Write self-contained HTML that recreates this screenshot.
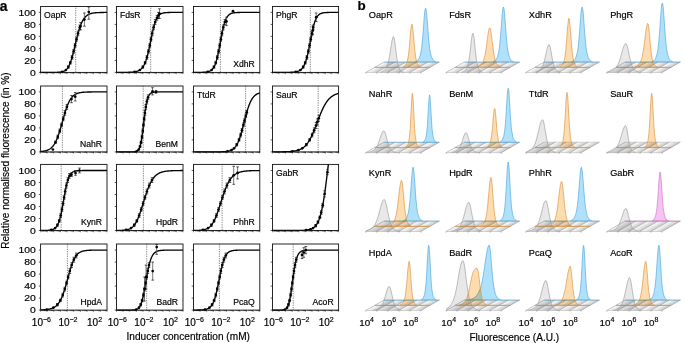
<!DOCTYPE html>
<html><head><meta charset="utf-8"><style>
html,body{margin:0;padding:0;background:#fff;}
body{width:685px;height:343px;overflow:hidden;}
svg{display:block;font-family:"Liberation Sans", sans-serif;will-change:transform;} text{stroke:#000;stroke-width:0.18px;}
</style></head><body>
<svg width="685" height="343" viewBox="0 0 685 343">
<defs><linearGradient id="tg" x1="0" y1="0" x2="1" y2="0"><stop offset="0" stop-color="#fcfcfc"/><stop offset="0.35" stop-color="#ededed"/><stop offset="1" stop-color="#c6c6c6"/></linearGradient></defs>
<rect width="685" height="343" fill="#fff"/>
<line x1="75.70" y1="6.50" x2="75.70" y2="72.40" stroke="#222" stroke-width="0.7" stroke-dasharray="0.75,1.0"/>
<path d="M40.60,72.40 L41.02,72.40 L41.43,72.40 L41.84,72.40 L42.26,72.40 L42.68,72.40 L43.09,72.40 L43.51,72.40 L43.92,72.40 L44.34,72.40 L44.75,72.40 L45.16,72.40 L45.58,72.40 L46.00,72.40 L46.41,72.40 L46.83,72.40 L47.24,72.40 L47.66,72.40 L48.07,72.40 L48.48,72.40 L48.90,72.40 L49.31,72.40 L49.73,72.40 L50.15,72.39 L50.56,72.39 L50.98,72.39 L51.39,72.39 L51.81,72.39 L52.22,72.39 L52.64,72.38 L53.05,72.38 L53.47,72.38 L53.88,72.38 L54.30,72.37 L54.71,72.37 L55.12,72.36 L55.54,72.35 L55.95,72.34 L56.37,72.33 L56.79,72.32 L57.20,72.31 L57.62,72.29 L58.03,72.27 L58.45,72.25 L58.86,72.22 L59.28,72.19 L59.69,72.16 L60.11,72.12 L60.52,72.07 L60.94,72.01 L61.35,71.94 L61.77,71.86 L62.18,71.77 L62.59,71.66 L63.01,71.54 L63.43,71.40 L63.84,71.23 L64.25,71.04 L64.67,70.82 L65.09,70.57 L65.50,70.29 L65.92,69.96 L66.33,69.58 L66.75,69.16 L67.16,68.68 L67.58,68.14 L67.99,67.53 L68.41,66.86 L68.82,66.10 L69.23,65.28 L69.65,64.36 L70.06,63.37 L70.48,62.28 L70.90,61.11 L71.31,59.85 L71.73,58.51 L72.14,57.09 L72.56,55.60 L72.97,54.03 L73.39,52.41 L73.80,50.74 L74.22,49.03 L74.63,47.29 L75.05,45.53 L75.46,43.77 L75.88,42.01 L76.29,40.28 L76.71,38.57 L77.12,36.90 L77.53,35.28 L77.95,33.71 L78.37,32.20 L78.78,30.75 L79.20,29.38 L79.61,28.07 L80.03,26.84 L80.44,25.68 L80.86,24.59 L81.27,23.58 L81.69,22.63 L82.10,21.76 L82.52,20.94 L82.93,20.19 L83.34,19.50 L83.76,18.86 L84.18,18.27 L84.59,17.74 L85.00,17.25 L85.42,16.80 L85.84,16.39 L86.25,16.01 L86.67,15.67 L87.08,15.36 L87.50,15.08 L87.91,14.83 L88.33,14.60 L88.74,14.38 L89.16,14.19 L89.57,14.02 L89.99,13.86 L90.40,13.72 L90.81,13.59 L91.23,13.48 L91.65,13.37 L92.06,13.28 L92.48,13.19 L92.89,13.12 L93.31,13.05 L93.72,12.98 L94.14,12.93 L94.55,12.87 L94.97,12.83 L95.38,12.79 L95.80,12.75 L96.21,12.71 L96.62,12.68 L97.04,12.66 L97.46,12.63 L97.87,12.61 L98.28,12.59 L98.70,12.57 L99.12,12.55 L99.53,12.54 L99.95,12.52 L100.36,12.51 L100.78,12.50 L101.19,12.49 L101.61,12.48 L102.02,12.47 L102.44,12.47 L102.85,12.46 L103.27,12.45 L103.68,12.45 L104.09,12.44 L104.51,12.44 L104.93,12.44 L105.34,12.43 L105.75,12.43 L106.17,12.43 L106.59,12.42 L107.00,12.42" fill="none" stroke="#000" stroke-width="1.35" stroke-linejoin="round"/>
<path d="M68.32,65.80V68.20M70.29,61.60V64.00M72.05,55.60V59.20M73.64,49.60V53.20M75.08,43.60V47.20M76.50,37.60V41.20M78.03,31.00V35.80M79.83,25.00V29.80M80.50,22.60V29.80M84.40,13.00V26.20M88.80,7.00V19.18" stroke="#555" stroke-width="0.8" fill="none"/>
<path d="M67.02,65.80h2.6M67.02,68.20h2.6M68.99,61.60h2.6M68.99,64.00h2.6M70.75,55.60h2.6M70.75,59.20h2.6M72.34,49.60h2.6M72.34,53.20h2.6M73.78,43.60h2.6M73.78,47.20h2.6M75.20,37.60h2.6M75.20,41.20h2.6M76.73,31.00h2.6M76.73,35.80h2.6M78.53,25.00h2.6M78.53,29.80h2.6M79.20,22.60h2.6M79.20,29.80h2.6M83.10,13.00h2.6M83.10,26.20h2.6M87.50,7.00h2.6M87.50,19.18h2.6" stroke="#111" stroke-width="0.7" fill="none"/>
<g fill="#000"><circle cx="62.05" cy="71.80" r="1.35"/><circle cx="65.86" cy="70.00" r="1.35"/><circle cx="68.32" cy="67.00" r="1.35"/><circle cx="70.29" cy="62.80" r="1.35"/><circle cx="72.05" cy="57.40" r="1.35"/><circle cx="73.64" cy="51.40" r="1.35"/><circle cx="75.08" cy="45.40" r="1.35"/><circle cx="76.50" cy="39.40" r="1.35"/><circle cx="78.03" cy="33.40" r="1.35"/><circle cx="79.83" cy="27.40" r="1.35"/><circle cx="80.50" cy="26.20" r="1.35"/><circle cx="84.40" cy="19.60" r="1.35"/><circle cx="88.80" cy="11.98" r="1.35"/></g>
<rect x="40.60" y="6.50" width="66.40" height="65.90" fill="none" stroke="#111" stroke-width="0.9"/>
<path d="M38.80,72.40H40.60M38.80,60.40H40.60M38.80,48.40H40.60M38.80,36.40H40.60M38.80,24.40H40.60M38.80,12.40H40.60" stroke="#111" stroke-width="0.7"/>
<path d="M40.60,72.40v1.8M42.60,72.40v1.0M43.77,72.40v1.0M44.60,72.40v1.0M45.24,72.40v1.0M45.77,72.40v1.0M46.21,72.40v1.0M46.60,72.40v1.0M46.94,72.40v1.0M47.24,72.40v1.8M49.24,72.40v1.0M50.41,72.40v1.0M51.24,72.40v1.0M51.88,72.40v1.0M52.41,72.40v1.0M52.85,72.40v1.0M53.24,72.40v1.0M53.58,72.40v1.0M53.88,72.40v1.8M55.88,72.40v1.0M57.05,72.40v1.0M57.88,72.40v1.0M58.52,72.40v1.0M59.05,72.40v1.0M59.49,72.40v1.0M59.88,72.40v1.0M60.22,72.40v1.0M60.52,72.40v1.8M62.52,72.40v1.0M63.69,72.40v1.0M64.52,72.40v1.0M65.16,72.40v1.0M65.69,72.40v1.0M66.13,72.40v1.0M66.52,72.40v1.0M66.86,72.40v1.0M67.16,72.40v1.8M69.16,72.40v1.0M70.33,72.40v1.0M71.16,72.40v1.0M71.80,72.40v1.0M72.33,72.40v1.0M72.77,72.40v1.0M73.16,72.40v1.0M73.50,72.40v1.0M73.80,72.40v1.8M75.80,72.40v1.0M76.97,72.40v1.0M77.80,72.40v1.0M78.44,72.40v1.0M78.97,72.40v1.0M79.41,72.40v1.0M79.80,72.40v1.0M80.14,72.40v1.0M80.44,72.40v1.8M82.44,72.40v1.0M83.61,72.40v1.0M84.44,72.40v1.0M85.08,72.40v1.0M85.61,72.40v1.0M86.05,72.40v1.0M86.44,72.40v1.0M86.78,72.40v1.0M87.08,72.40v1.8M89.08,72.40v1.0M90.25,72.40v1.0M91.08,72.40v1.0M91.72,72.40v1.0M92.25,72.40v1.0M92.69,72.40v1.0M93.08,72.40v1.0M93.42,72.40v1.0M93.72,72.40v1.8M95.72,72.40v1.0M96.89,72.40v1.0M97.72,72.40v1.0M98.36,72.40v1.0M98.89,72.40v1.0M99.33,72.40v1.0M99.72,72.40v1.0M100.06,72.40v1.0M100.36,72.40v1.8M102.36,72.40v1.0M103.53,72.40v1.0M104.36,72.40v1.0M105.00,72.40v1.0M105.53,72.40v1.0M105.97,72.40v1.0M106.36,72.40v1.0M106.70,72.40v1.0M107.00,72.40v1.8" stroke="#111" stroke-width="0.45"/>
<text x="44.10" y="18.30" font-size="8.6" fill="#000">OapR</text>
<text transform="translate(35.80,75.70) scale(1.04,0.88)" font-size="10" fill="#000" text-anchor="end">0</text>
<text transform="translate(35.80,63.70) scale(1.04,0.88)" font-size="10" fill="#000" text-anchor="end">20</text>
<text transform="translate(35.80,51.70) scale(1.04,0.88)" font-size="10" fill="#000" text-anchor="end">40</text>
<text transform="translate(35.80,39.70) scale(1.04,0.88)" font-size="10" fill="#000" text-anchor="end">60</text>
<text transform="translate(35.80,27.70) scale(1.04,0.88)" font-size="10" fill="#000" text-anchor="end">80</text>
<text transform="translate(35.80,15.70) scale(1.04,0.88)" font-size="10" fill="#000" text-anchor="end">100</text>
<line x1="150.70" y1="6.50" x2="150.70" y2="72.40" stroke="#222" stroke-width="0.7" stroke-dasharray="0.75,1.0"/>
<path d="M116.50,72.40 L116.92,72.40 L117.33,72.39 L117.75,72.39 L118.16,72.39 L118.58,72.39 L118.99,72.39 L119.41,72.39 L119.83,72.39 L120.24,72.39 L120.66,72.39 L121.07,72.39 L121.49,72.38 L121.90,72.38 L122.32,72.38 L122.73,72.38 L123.15,72.38 L123.57,72.37 L123.98,72.37 L124.40,72.36 L124.81,72.36 L125.23,72.36 L125.64,72.35 L126.06,72.34 L126.47,72.34 L126.89,72.33 L127.31,72.32 L127.72,72.31 L128.14,72.30 L128.55,72.29 L128.97,72.28 L129.38,72.26 L129.80,72.25 L130.22,72.23 L130.63,72.21 L131.05,72.18 L131.46,72.16 L131.88,72.13 L132.29,72.09 L132.71,72.06 L133.12,72.01 L133.54,71.97 L133.96,71.92 L134.37,71.86 L134.79,71.79 L135.20,71.72 L135.62,71.64 L136.03,71.55 L136.45,71.44 L136.87,71.33 L137.28,71.20 L137.70,71.06 L138.11,70.90 L138.53,70.71 L138.94,70.51 L139.36,70.29 L139.78,70.04 L140.19,69.76 L140.61,69.44 L141.02,69.09 L141.44,68.70 L141.85,68.27 L142.27,67.79 L142.68,67.25 L143.10,66.65 L143.52,66.00 L143.93,65.27 L144.35,64.46 L144.76,63.58 L145.18,62.61 L145.59,61.54 L146.01,60.38 L146.43,59.12 L146.84,57.76 L147.26,56.29 L147.67,54.73 L148.09,53.06 L148.50,51.29 L148.92,49.44 L149.33,47.52 L149.75,45.53 L150.17,43.50 L150.58,41.44 L151.00,39.37 L151.41,37.31 L151.83,35.29 L152.24,33.32 L152.66,31.41 L153.07,29.60 L153.49,27.88 L153.91,26.27 L154.32,24.77 L154.74,23.39 L155.15,22.13 L155.57,20.98 L155.98,19.95 L156.40,19.02 L156.82,18.19 L157.23,17.45 L157.65,16.80 L158.06,16.23 L158.48,15.72 L158.89,15.28 L159.31,14.89 L159.72,14.56 L160.14,14.26 L160.56,14.01 L160.97,13.79 L161.39,13.60 L161.80,13.43 L162.22,13.29 L162.63,13.17 L163.05,13.06 L163.47,12.97 L163.88,12.89 L164.30,12.82 L164.71,12.76 L165.13,12.71 L165.54,12.67 L165.96,12.63 L166.38,12.60 L166.79,12.57 L167.21,12.55 L167.62,12.53 L168.04,12.51 L168.45,12.49 L168.87,12.48 L169.28,12.47 L169.70,12.46 L170.12,12.45 L170.53,12.44 L170.95,12.44 L171.36,12.43 L171.78,12.43 L172.19,12.42 L172.61,12.42 L173.03,12.42 L173.44,12.41 L173.86,12.41 L174.27,12.41 L174.69,12.41 L175.10,12.41 L175.52,12.41 L175.93,12.41 L176.35,12.41 L176.77,12.40 L177.18,12.40 L177.60,12.40 L178.01,12.40 L178.43,12.40 L178.84,12.40 L179.26,12.40 L179.68,12.40 L180.09,12.40 L180.51,12.40 L180.92,12.40 L181.34,12.40 L181.75,12.40 L182.17,12.40 L182.58,12.40 L183.00,12.40" fill="none" stroke="#000" stroke-width="1.35" stroke-linejoin="round"/>
<path d="M142.86,65.80V68.20M145.10,61.60V64.00M146.95,55.60V59.20M148.48,49.60V53.20M149.78,43.60V47.20M150.99,37.60V41.20M152.23,31.00V35.80M153.61,25.00V29.80M155.20,19.60V24.40M157.03,15.40V20.20M158.50,12.40V18.40M159.50,8.80V18.40" stroke="#555" stroke-width="0.8" fill="none"/>
<path d="M141.56,65.80h2.6M141.56,68.20h2.6M143.80,61.60h2.6M143.80,64.00h2.6M145.65,55.60h2.6M145.65,59.20h2.6M147.18,49.60h2.6M147.18,53.20h2.6M148.48,43.60h2.6M148.48,47.20h2.6M149.69,37.60h2.6M149.69,41.20h2.6M150.93,31.00h2.6M150.93,35.80h2.6M152.31,25.00h2.6M152.31,29.80h2.6M153.90,19.60h2.6M153.90,24.40h2.6M155.73,15.40h2.6M155.73,20.20h2.6M157.20,12.40h2.6M157.20,18.40h2.6M158.20,8.80h2.6M158.20,18.40h2.6" stroke="#111" stroke-width="0.7" fill="none"/>
<g fill="#000"><circle cx="134.75" cy="71.80" r="1.35"/><circle cx="139.83" cy="70.00" r="1.35"/><circle cx="142.86" cy="67.00" r="1.35"/><circle cx="145.10" cy="62.80" r="1.35"/><circle cx="146.95" cy="57.40" r="1.35"/><circle cx="148.48" cy="51.40" r="1.35"/><circle cx="149.78" cy="45.40" r="1.35"/><circle cx="150.99" cy="39.40" r="1.35"/><circle cx="152.23" cy="33.40" r="1.35"/><circle cx="153.61" cy="27.40" r="1.35"/><circle cx="155.20" cy="22.00" r="1.35"/><circle cx="157.03" cy="17.80" r="1.35"/><circle cx="158.50" cy="15.40" r="1.35"/><circle cx="159.50" cy="13.60" r="1.35"/></g>
<rect x="116.50" y="6.50" width="66.50" height="65.90" fill="none" stroke="#111" stroke-width="0.9"/>
<path d="M114.70,72.40H116.50M114.70,60.40H116.50M114.70,48.40H116.50M114.70,36.40H116.50M114.70,24.40H116.50M114.70,12.40H116.50" stroke="#111" stroke-width="0.7"/>
<path d="M116.50,72.40v1.8M118.50,72.40v1.0M119.67,72.40v1.0M120.50,72.40v1.0M121.15,72.40v1.0M121.67,72.40v1.0M122.12,72.40v1.0M122.51,72.40v1.0M122.85,72.40v1.0M123.15,72.40v1.8M125.15,72.40v1.0M126.32,72.40v1.0M127.15,72.40v1.0M127.80,72.40v1.0M128.32,72.40v1.0M128.77,72.40v1.0M129.16,72.40v1.0M129.50,72.40v1.0M129.80,72.40v1.8M131.80,72.40v1.0M132.97,72.40v1.0M133.80,72.40v1.0M134.45,72.40v1.0M134.97,72.40v1.0M135.42,72.40v1.0M135.81,72.40v1.0M136.15,72.40v1.0M136.45,72.40v1.8M138.45,72.40v1.0M139.62,72.40v1.0M140.45,72.40v1.0M141.10,72.40v1.0M141.62,72.40v1.0M142.07,72.40v1.0M142.46,72.40v1.0M142.80,72.40v1.0M143.10,72.40v1.8M145.10,72.40v1.0M146.27,72.40v1.0M147.10,72.40v1.0M147.75,72.40v1.0M148.27,72.40v1.0M148.72,72.40v1.0M149.11,72.40v1.0M149.45,72.40v1.0M149.75,72.40v1.8M151.75,72.40v1.0M152.92,72.40v1.0M153.75,72.40v1.0M154.40,72.40v1.0M154.92,72.40v1.0M155.37,72.40v1.0M155.76,72.40v1.0M156.10,72.40v1.0M156.40,72.40v1.8M158.40,72.40v1.0M159.57,72.40v1.0M160.40,72.40v1.0M161.05,72.40v1.0M161.57,72.40v1.0M162.02,72.40v1.0M162.41,72.40v1.0M162.75,72.40v1.0M163.05,72.40v1.8M165.05,72.40v1.0M166.22,72.40v1.0M167.05,72.40v1.0M167.70,72.40v1.0M168.22,72.40v1.0M168.67,72.40v1.0M169.06,72.40v1.0M169.40,72.40v1.0M169.70,72.40v1.8M171.70,72.40v1.0M172.87,72.40v1.0M173.70,72.40v1.0M174.35,72.40v1.0M174.87,72.40v1.0M175.32,72.40v1.0M175.71,72.40v1.0M176.05,72.40v1.0M176.35,72.40v1.8M178.35,72.40v1.0M179.52,72.40v1.0M180.35,72.40v1.0M181.00,72.40v1.0M181.52,72.40v1.0M181.97,72.40v1.0M182.36,72.40v1.0M182.70,72.40v1.0M183.00,72.40v1.8" stroke="#111" stroke-width="0.45"/>
<text x="120.00" y="18.30" font-size="8.6" fill="#000">FdsR</text>
<line x1="220.40" y1="6.50" x2="220.40" y2="72.40" stroke="#222" stroke-width="0.7" stroke-dasharray="0.75,1.0"/>
<path d="M193.50,72.40 L193.91,72.40 L194.33,72.40 L194.74,72.39 L195.16,72.39 L195.57,72.39 L195.99,72.39 L196.40,72.39 L196.81,72.39 L197.23,72.39 L197.64,72.38 L198.06,72.38 L198.47,72.38 L198.89,72.38 L199.30,72.37 L199.72,72.37 L200.13,72.36 L200.54,72.36 L200.96,72.35 L201.37,72.34 L201.79,72.33 L202.20,72.32 L202.62,72.31 L203.03,72.29 L203.44,72.27 L203.86,72.25 L204.27,72.23 L204.69,72.20 L205.10,72.17 L205.52,72.13 L205.93,72.09 L206.35,72.04 L206.76,71.98 L207.17,71.91 L207.59,71.83 L208.00,71.74 L208.42,71.63 L208.83,71.51 L209.25,71.36 L209.66,71.20 L210.07,71.00 L210.49,70.78 L210.90,70.52 L211.32,70.23 L211.73,69.89 L212.15,69.50 L212.56,69.05 L212.98,68.53 L213.39,67.95 L213.80,67.28 L214.22,66.52 L214.63,65.67 L215.05,64.70 L215.46,63.63 L215.88,62.43 L216.29,61.11 L216.70,59.65 L217.12,58.06 L217.53,56.34 L217.95,54.50 L218.36,52.54 L218.78,50.48 L219.19,48.33 L219.61,46.12 L220.02,43.86 L220.43,41.59 L220.85,39.33 L221.26,37.11 L221.68,34.94 L222.09,32.85 L222.51,30.86 L222.92,28.99 L223.34,27.23 L223.75,25.61 L224.16,24.12 L224.58,22.76 L224.99,21.52 L225.41,20.41 L225.82,19.42 L226.24,18.53 L226.65,17.75 L227.06,17.06 L227.48,16.45 L227.89,15.91 L228.31,15.44 L228.72,15.04 L229.14,14.68 L229.55,14.37 L229.97,14.10 L230.38,13.87 L230.79,13.67 L231.21,13.49 L231.62,13.34 L232.04,13.21 L232.45,13.10 L232.87,13.00 L233.28,12.92 L233.69,12.85 L234.11,12.78 L234.52,12.73 L234.94,12.68 L235.35,12.64 L235.77,12.61 L236.18,12.58 L236.59,12.56 L237.01,12.53 L237.42,12.51 L237.84,12.50 L238.25,12.48 L238.67,12.47 L239.08,12.46 L239.50,12.45 L239.91,12.45 L240.32,12.44 L240.74,12.43 L241.15,12.43 L241.57,12.43 L241.98,12.42 L242.40,12.42 L242.81,12.42 L243.22,12.41 L243.64,12.41 L244.05,12.41 L244.47,12.41 L244.88,12.41 L245.30,12.41 L245.71,12.41 L246.13,12.40 L246.54,12.40 L246.95,12.40 L247.37,12.40 L247.78,12.40 L248.20,12.40 L248.61,12.40 L249.03,12.40 L249.44,12.40 L249.85,12.40 L250.27,12.40 L250.68,12.40 L251.10,12.40 L251.51,12.40 L251.93,12.40 L252.34,12.40 L252.76,12.40 L253.17,12.40 L253.58,12.40 L254.00,12.40 L254.41,12.40 L254.83,12.40 L255.24,12.40 L255.66,12.40 L256.07,12.40 L256.49,12.40 L256.90,12.40 L257.31,12.40 L257.73,12.40 L258.14,12.40 L258.56,12.40 L258.97,12.40 L259.39,12.40 L259.80,12.40" fill="none" stroke="#000" stroke-width="1.35" stroke-linejoin="round"/>
<path d="M213.96,65.80V68.20M215.75,61.60V64.00M217.28,55.60V59.20M218.59,49.60V53.20M219.74,43.60V47.20M220.84,37.60V41.20M221.98,31.00V35.80M223.29,25.00V29.80M224.83,19.60V24.40M226.50,17.20V25.60" stroke="#555" stroke-width="0.8" fill="none"/>
<path d="M212.66,65.80h2.6M212.66,68.20h2.6M214.45,61.60h2.6M214.45,64.00h2.6M215.98,55.60h2.6M215.98,59.20h2.6M217.29,49.60h2.6M217.29,53.20h2.6M218.44,43.60h2.6M218.44,47.20h2.6M219.54,37.60h2.6M219.54,41.20h2.6M220.68,31.00h2.6M220.68,35.80h2.6M221.99,25.00h2.6M221.99,29.80h2.6M223.53,19.60h2.6M223.53,24.40h2.6M225.20,17.20h2.6M225.20,25.60h2.6" stroke="#111" stroke-width="0.7" fill="none"/>
<g fill="#000"><circle cx="207.73" cy="71.80" r="1.35"/><circle cx="211.60" cy="70.00" r="1.35"/><circle cx="213.96" cy="67.00" r="1.35"/><circle cx="215.75" cy="62.80" r="1.35"/><circle cx="217.28" cy="57.40" r="1.35"/><circle cx="218.59" cy="51.40" r="1.35"/><circle cx="219.74" cy="45.40" r="1.35"/><circle cx="220.84" cy="39.40" r="1.35"/><circle cx="221.98" cy="33.40" r="1.35"/><circle cx="223.29" cy="27.40" r="1.35"/><circle cx="224.83" cy="22.00" r="1.35"/><circle cx="226.50" cy="21.40" r="1.35"/><circle cx="233.00" cy="11.20" r="1.35"/></g>
<rect x="193.50" y="6.50" width="66.30" height="65.90" fill="none" stroke="#111" stroke-width="0.9"/>
<path d="M191.70,72.40H193.50M191.70,60.40H193.50M191.70,48.40H193.50M191.70,36.40H193.50M191.70,24.40H193.50M191.70,12.40H193.50" stroke="#111" stroke-width="0.7"/>
<path d="M193.50,72.40v1.8M195.50,72.40v1.0M196.66,72.40v1.0M197.49,72.40v1.0M198.13,72.40v1.0M198.66,72.40v1.0M199.10,72.40v1.0M199.49,72.40v1.0M199.83,72.40v1.0M200.13,72.40v1.8M202.13,72.40v1.0M203.29,72.40v1.0M204.12,72.40v1.0M204.76,72.40v1.0M205.29,72.40v1.0M205.73,72.40v1.0M206.12,72.40v1.0M206.46,72.40v1.0M206.76,72.40v1.8M208.76,72.40v1.0M209.92,72.40v1.0M210.75,72.40v1.0M211.39,72.40v1.0M211.92,72.40v1.0M212.36,72.40v1.0M212.75,72.40v1.0M213.09,72.40v1.0M213.39,72.40v1.8M215.39,72.40v1.0M216.55,72.40v1.0M217.38,72.40v1.0M218.02,72.40v1.0M218.55,72.40v1.0M218.99,72.40v1.0M219.38,72.40v1.0M219.72,72.40v1.0M220.02,72.40v1.8M222.02,72.40v1.0M223.18,72.40v1.0M224.01,72.40v1.0M224.65,72.40v1.0M225.18,72.40v1.0M225.62,72.40v1.0M226.01,72.40v1.0M226.35,72.40v1.0M226.65,72.40v1.8M228.65,72.40v1.0M229.81,72.40v1.0M230.64,72.40v1.0M231.28,72.40v1.0M231.81,72.40v1.0M232.25,72.40v1.0M232.64,72.40v1.0M232.98,72.40v1.0M233.28,72.40v1.8M235.28,72.40v1.0M236.44,72.40v1.0M237.27,72.40v1.0M237.91,72.40v1.0M238.44,72.40v1.0M238.88,72.40v1.0M239.27,72.40v1.0M239.61,72.40v1.0M239.91,72.40v1.8M241.91,72.40v1.0M243.07,72.40v1.0M243.90,72.40v1.0M244.54,72.40v1.0M245.07,72.40v1.0M245.51,72.40v1.0M245.90,72.40v1.0M246.24,72.40v1.0M246.54,72.40v1.8M248.54,72.40v1.0M249.70,72.40v1.0M250.53,72.40v1.0M251.17,72.40v1.0M251.70,72.40v1.0M252.14,72.40v1.0M252.53,72.40v1.0M252.87,72.40v1.0M253.17,72.40v1.8M255.17,72.40v1.0M256.33,72.40v1.0M257.16,72.40v1.0M257.80,72.40v1.0M258.33,72.40v1.0M258.77,72.40v1.0M259.16,72.40v1.0M259.50,72.40v1.0M259.80,72.40v1.8" stroke="#111" stroke-width="0.45"/>
<text x="254.80" y="67.10" font-size="8.6" fill="#000" text-anchor="end">XdhR</text>
<line x1="310.30" y1="6.50" x2="310.30" y2="72.40" stroke="#222" stroke-width="0.7" stroke-dasharray="0.75,1.0"/>
<path d="M272.50,72.40 L272.91,72.40 L273.33,72.40 L273.74,72.40 L274.15,72.40 L274.57,72.40 L274.98,72.40 L275.39,72.40 L275.81,72.40 L276.22,72.40 L276.63,72.40 L277.04,72.40 L277.46,72.40 L277.87,72.40 L278.28,72.40 L278.70,72.40 L279.11,72.40 L279.52,72.40 L279.94,72.40 L280.35,72.39 L280.76,72.39 L281.18,72.39 L281.59,72.39 L282.00,72.39 L282.42,72.39 L282.83,72.39 L283.24,72.39 L283.65,72.38 L284.07,72.38 L284.48,72.38 L284.89,72.38 L285.31,72.37 L285.72,72.37 L286.13,72.37 L286.55,72.36 L286.96,72.36 L287.37,72.35 L287.79,72.35 L288.20,72.34 L288.61,72.33 L289.02,72.32 L289.44,72.31 L289.85,72.30 L290.26,72.29 L290.68,72.27 L291.09,72.26 L291.50,72.24 L291.92,72.21 L292.33,72.19 L292.74,72.16 L293.16,72.13 L293.57,72.09 L293.98,72.05 L294.40,72.01 L294.81,71.95 L295.22,71.89 L295.63,71.83 L296.05,71.75 L296.46,71.66 L296.87,71.57 L297.29,71.46 L297.70,71.33 L298.11,71.19 L298.53,71.03 L298.94,70.85 L299.35,70.65 L299.77,70.41 L300.18,70.15 L300.59,69.86 L301.01,69.53 L301.42,69.16 L301.83,68.74 L302.25,68.27 L302.66,67.74 L303.07,67.14 L303.48,66.48 L303.90,65.74 L304.31,64.92 L304.72,64.01 L305.14,62.99 L305.55,61.88 L305.96,60.66 L306.38,59.32 L306.79,57.87 L307.20,56.31 L307.62,54.62 L308.03,52.83 L308.44,50.94 L308.86,48.95 L309.27,46.89 L309.68,44.77 L310.09,42.61 L310.51,40.43 L310.92,38.26 L311.33,36.12 L311.75,34.03 L312.16,32.01 L312.57,30.09 L312.99,28.27 L313.40,26.57 L313.81,25.00 L314.23,23.55 L314.64,22.23 L315.05,21.03 L315.46,19.96 L315.88,19.00 L316.29,18.15 L316.70,17.39 L317.12,16.73 L317.53,16.15 L317.94,15.64 L318.36,15.19 L318.77,14.81 L319.18,14.47 L319.60,14.18 L320.01,13.93 L320.42,13.72 L320.84,13.53 L321.25,13.37 L321.66,13.23 L322.07,13.11 L322.49,13.01 L322.90,12.92 L323.31,12.85 L323.73,12.78 L324.14,12.73 L324.55,12.68 L324.97,12.64 L325.38,12.61 L325.79,12.58 L326.21,12.55 L326.62,12.53 L327.03,12.51 L327.45,12.49 L327.86,12.48 L328.27,12.47 L328.69,12.46 L329.10,12.45 L329.51,12.44 L329.92,12.44 L330.34,12.43 L330.75,12.43 L331.16,12.42 L331.58,12.42 L331.99,12.42 L332.40,12.41 L332.82,12.41 L333.23,12.41 L333.64,12.41 L334.06,12.41 L334.47,12.41 L334.88,12.41 L335.30,12.40 L335.71,12.40 L336.12,12.40 L336.53,12.40 L336.95,12.40 L337.36,12.40 L337.77,12.40 L338.19,12.40 L338.60,12.40" fill="none" stroke="#000" stroke-width="1.35" stroke-linejoin="round"/>
<path d="M303.16,65.80V68.20M305.21,61.60V64.00M306.92,55.60V59.20M308.34,49.60V53.20M309.56,43.60V47.20M310.70,37.60V41.20M311.87,31.00V35.80M313.19,25.00V29.80M312.80,26.20V34.60M316.20,13.00V21.40" stroke="#555" stroke-width="0.8" fill="none"/>
<path d="M301.86,65.80h2.6M301.86,68.20h2.6M303.91,61.60h2.6M303.91,64.00h2.6M305.62,55.60h2.6M305.62,59.20h2.6M307.04,49.60h2.6M307.04,53.20h2.6M308.26,43.60h2.6M308.26,47.20h2.6M309.40,37.60h2.6M309.40,41.20h2.6M310.57,31.00h2.6M310.57,35.80h2.6M311.89,25.00h2.6M311.89,29.80h2.6M311.50,26.20h2.6M311.50,34.60h2.6M314.90,13.00h2.6M314.90,21.40h2.6" stroke="#111" stroke-width="0.7" fill="none"/>
<g fill="#000"><circle cx="295.79" cy="71.80" r="1.35"/><circle cx="300.40" cy="70.00" r="1.35"/><circle cx="303.16" cy="67.00" r="1.35"/><circle cx="305.21" cy="62.80" r="1.35"/><circle cx="306.92" cy="57.40" r="1.35"/><circle cx="308.34" cy="51.40" r="1.35"/><circle cx="309.56" cy="45.40" r="1.35"/><circle cx="310.70" cy="39.40" r="1.35"/><circle cx="311.87" cy="33.40" r="1.35"/><circle cx="313.19" cy="27.40" r="1.35"/><circle cx="312.80" cy="30.40" r="1.35"/><circle cx="316.20" cy="17.20" r="1.35"/></g>
<rect x="272.50" y="6.50" width="66.10" height="65.90" fill="none" stroke="#111" stroke-width="0.9"/>
<path d="M270.70,72.40H272.50M270.70,60.40H272.50M270.70,48.40H272.50M270.70,36.40H272.50M270.70,24.40H272.50M270.70,12.40H272.50" stroke="#111" stroke-width="0.7"/>
<path d="M272.50,72.40v1.8M274.49,72.40v1.0M275.65,72.40v1.0M276.48,72.40v1.0M277.12,72.40v1.0M277.64,72.40v1.0M278.09,72.40v1.0M278.47,72.40v1.0M278.81,72.40v1.0M279.11,72.40v1.8M281.10,72.40v1.0M282.26,72.40v1.0M283.09,72.40v1.0M283.73,72.40v1.0M284.25,72.40v1.0M284.70,72.40v1.0M285.08,72.40v1.0M285.42,72.40v1.0M285.72,72.40v1.8M287.71,72.40v1.0M288.87,72.40v1.0M289.70,72.40v1.0M290.34,72.40v1.0M290.86,72.40v1.0M291.31,72.40v1.0M291.69,72.40v1.0M292.03,72.40v1.0M292.33,72.40v1.8M294.32,72.40v1.0M295.48,72.40v1.0M296.31,72.40v1.0M296.95,72.40v1.0M297.47,72.40v1.0M297.92,72.40v1.0M298.30,72.40v1.0M298.64,72.40v1.0M298.94,72.40v1.8M300.93,72.40v1.0M302.09,72.40v1.0M302.92,72.40v1.0M303.56,72.40v1.0M304.08,72.40v1.0M304.53,72.40v1.0M304.91,72.40v1.0M305.25,72.40v1.0M305.55,72.40v1.8M307.54,72.40v1.0M308.70,72.40v1.0M309.53,72.40v1.0M310.17,72.40v1.0M310.69,72.40v1.0M311.14,72.40v1.0M311.52,72.40v1.0M311.86,72.40v1.0M312.16,72.40v1.8M314.15,72.40v1.0M315.31,72.40v1.0M316.14,72.40v1.0M316.78,72.40v1.0M317.30,72.40v1.0M317.75,72.40v1.0M318.13,72.40v1.0M318.47,72.40v1.0M318.77,72.40v1.8M320.76,72.40v1.0M321.92,72.40v1.0M322.75,72.40v1.0M323.39,72.40v1.0M323.91,72.40v1.0M324.36,72.40v1.0M324.74,72.40v1.0M325.08,72.40v1.0M325.38,72.40v1.8M327.37,72.40v1.0M328.53,72.40v1.0M329.36,72.40v1.0M330.00,72.40v1.0M330.52,72.40v1.0M330.97,72.40v1.0M331.35,72.40v1.0M331.69,72.40v1.0M331.99,72.40v1.8M333.98,72.40v1.0M335.14,72.40v1.0M335.97,72.40v1.0M336.61,72.40v1.0M337.13,72.40v1.0M337.58,72.40v1.0M337.96,72.40v1.0M338.30,72.40v1.0M338.60,72.40v1.8" stroke="#111" stroke-width="0.45"/>
<text x="276.00" y="18.30" font-size="8.6" fill="#000">PhgR</text>
<line x1="62.40" y1="86.00" x2="62.40" y2="151.90" stroke="#222" stroke-width="0.7" stroke-dasharray="0.75,1.0"/>
<path d="M40.60,151.54 L41.02,151.50 L41.43,151.46 L41.84,151.42 L42.26,151.37 L42.68,151.32 L43.09,151.26 L43.51,151.20 L43.92,151.13 L44.34,151.05 L44.75,150.96 L45.16,150.87 L45.58,150.77 L46.00,150.66 L46.41,150.53 L46.83,150.40 L47.24,150.25 L47.66,150.09 L48.07,149.91 L48.48,149.72 L48.90,149.51 L49.31,149.27 L49.73,149.02 L50.15,148.74 L50.56,148.44 L50.98,148.11 L51.39,147.75 L51.81,147.36 L52.22,146.94 L52.64,146.47 L53.05,145.98 L53.47,145.43 L53.88,144.85 L54.30,144.22 L54.71,143.54 L55.12,142.81 L55.54,142.03 L55.95,141.20 L56.37,140.31 L56.79,139.36 L57.20,138.36 L57.62,137.30 L58.03,136.19 L58.45,135.02 L58.86,133.79 L59.28,132.52 L59.69,131.20 L60.11,129.83 L60.52,128.43 L60.94,127.00 L61.35,125.53 L61.77,124.05 L62.18,122.56 L62.59,121.06 L63.01,119.57 L63.43,118.08 L63.84,116.61 L64.25,115.17 L64.67,113.76 L65.09,112.38 L65.50,111.04 L65.92,109.76 L66.33,108.52 L66.75,107.33 L67.16,106.21 L67.58,105.14 L67.99,104.12 L68.41,103.17 L68.82,102.27 L69.23,101.43 L69.65,100.65 L70.06,99.92 L70.48,99.24 L70.90,98.61 L71.31,98.03 L71.73,97.49 L72.14,97.00 L72.56,96.55 L72.97,96.13 L73.39,95.75 L73.80,95.40 L74.22,95.08 L74.63,94.78 L75.05,94.52 L75.46,94.28 L75.88,94.05 L76.29,93.85 L76.71,93.67 L77.12,93.50 L77.53,93.35 L77.95,93.21 L78.37,93.09 L78.78,92.98 L79.20,92.87 L79.61,92.78 L80.03,92.70 L80.44,92.62 L80.86,92.55 L81.27,92.49 L81.69,92.43 L82.10,92.38 L82.52,92.34 L82.93,92.29 L83.34,92.26 L83.76,92.22 L84.18,92.19 L84.59,92.16 L85.00,92.14 L85.42,92.11 L85.84,92.09 L86.25,92.08 L86.67,92.06 L87.08,92.04 L87.50,92.03 L87.91,92.02 L88.33,92.01 L88.74,92.00 L89.16,91.99 L89.57,91.98 L89.99,91.97 L90.40,91.96 L90.81,91.96 L91.23,91.95 L91.65,91.95 L92.06,91.94 L92.48,91.94 L92.89,91.93 L93.31,91.93 L93.72,91.93 L94.14,91.93 L94.55,91.92 L94.97,91.92 L95.38,91.92 L95.80,91.92 L96.21,91.92 L96.62,91.91 L97.04,91.91 L97.46,91.91 L97.87,91.91 L98.28,91.91 L98.70,91.91 L99.12,91.91 L99.53,91.91 L99.95,91.91 L100.36,91.91 L100.78,91.90 L101.19,91.90 L101.61,91.90 L102.02,91.90 L102.44,91.90 L102.85,91.90 L103.27,91.90 L103.68,91.90 L104.09,91.90 L104.51,91.90 L104.93,91.90 L105.34,91.90 L105.75,91.90 L106.17,91.90 L106.59,91.90 L107.00,91.90" fill="none" stroke="#000" stroke-width="1.35" stroke-linejoin="round"/>
<path d="M55.40,141.10V143.50M57.77,135.10V138.70M59.78,129.10V132.70M61.53,123.10V126.70M63.20,117.10V120.70M64.93,110.50V115.30M66.90,104.50V109.30M71.50,95.50V102.70M75.20,92.50V100.90" stroke="#555" stroke-width="0.8" fill="none"/>
<path d="M54.10,141.10h2.6M54.10,143.50h2.6M56.47,135.10h2.6M56.47,138.70h2.6M58.48,129.10h2.6M58.48,132.70h2.6M60.23,123.10h2.6M60.23,126.70h2.6M61.90,117.10h2.6M61.90,120.70h2.6M63.63,110.50h2.6M63.63,115.30h2.6M65.60,104.50h2.6M65.60,109.30h2.6M70.20,95.50h2.6M70.20,102.70h2.6M73.90,92.50h2.6M73.90,100.90h2.6" stroke="#111" stroke-width="0.7" fill="none"/>
<g fill="#000"><circle cx="55.40" cy="142.30" r="1.35"/><circle cx="57.77" cy="136.90" r="1.35"/><circle cx="59.78" cy="130.90" r="1.35"/><circle cx="61.53" cy="124.90" r="1.35"/><circle cx="63.20" cy="118.90" r="1.35"/><circle cx="64.93" cy="112.90" r="1.35"/><circle cx="66.90" cy="106.90" r="1.35"/><circle cx="52.90" cy="149.50" r="1.35"/><circle cx="71.50" cy="99.10" r="1.35"/><circle cx="75.20" cy="96.70" r="1.35"/></g>
<rect x="40.60" y="86.00" width="66.40" height="65.90" fill="none" stroke="#111" stroke-width="0.9"/>
<path d="M38.80,151.90H40.60M38.80,139.90H40.60M38.80,127.90H40.60M38.80,115.90H40.60M38.80,103.90H40.60M38.80,91.90H40.60" stroke="#111" stroke-width="0.7"/>
<path d="M40.60,151.90v1.8M42.60,151.90v1.0M43.77,151.90v1.0M44.60,151.90v1.0M45.24,151.90v1.0M45.77,151.90v1.0M46.21,151.90v1.0M46.60,151.90v1.0M46.94,151.90v1.0M47.24,151.90v1.8M49.24,151.90v1.0M50.41,151.90v1.0M51.24,151.90v1.0M51.88,151.90v1.0M52.41,151.90v1.0M52.85,151.90v1.0M53.24,151.90v1.0M53.58,151.90v1.0M53.88,151.90v1.8M55.88,151.90v1.0M57.05,151.90v1.0M57.88,151.90v1.0M58.52,151.90v1.0M59.05,151.90v1.0M59.49,151.90v1.0M59.88,151.90v1.0M60.22,151.90v1.0M60.52,151.90v1.8M62.52,151.90v1.0M63.69,151.90v1.0M64.52,151.90v1.0M65.16,151.90v1.0M65.69,151.90v1.0M66.13,151.90v1.0M66.52,151.90v1.0M66.86,151.90v1.0M67.16,151.90v1.8M69.16,151.90v1.0M70.33,151.90v1.0M71.16,151.90v1.0M71.80,151.90v1.0M72.33,151.90v1.0M72.77,151.90v1.0M73.16,151.90v1.0M73.50,151.90v1.0M73.80,151.90v1.8M75.80,151.90v1.0M76.97,151.90v1.0M77.80,151.90v1.0M78.44,151.90v1.0M78.97,151.90v1.0M79.41,151.90v1.0M79.80,151.90v1.0M80.14,151.90v1.0M80.44,151.90v1.8M82.44,151.90v1.0M83.61,151.90v1.0M84.44,151.90v1.0M85.08,151.90v1.0M85.61,151.90v1.0M86.05,151.90v1.0M86.44,151.90v1.0M86.78,151.90v1.0M87.08,151.90v1.8M89.08,151.90v1.0M90.25,151.90v1.0M91.08,151.90v1.0M91.72,151.90v1.0M92.25,151.90v1.0M92.69,151.90v1.0M93.08,151.90v1.0M93.42,151.90v1.0M93.72,151.90v1.8M95.72,151.90v1.0M96.89,151.90v1.0M97.72,151.90v1.0M98.36,151.90v1.0M98.89,151.90v1.0M99.33,151.90v1.0M99.72,151.90v1.0M100.06,151.90v1.0M100.36,151.90v1.8M102.36,151.90v1.0M103.53,151.90v1.0M104.36,151.90v1.0M105.00,151.90v1.0M105.53,151.90v1.0M105.97,151.90v1.0M106.36,151.90v1.0M106.70,151.90v1.0M107.00,151.90v1.8" stroke="#111" stroke-width="0.45"/>
<text x="102.00" y="146.60" font-size="8.6" fill="#000" text-anchor="end">NahR</text>
<text transform="translate(35.80,155.20) scale(1.04,0.88)" font-size="10" fill="#000" text-anchor="end">0</text>
<text transform="translate(35.80,143.20) scale(1.04,0.88)" font-size="10" fill="#000" text-anchor="end">20</text>
<text transform="translate(35.80,131.20) scale(1.04,0.88)" font-size="10" fill="#000" text-anchor="end">40</text>
<text transform="translate(35.80,119.20) scale(1.04,0.88)" font-size="10" fill="#000" text-anchor="end">60</text>
<text transform="translate(35.80,107.20) scale(1.04,0.88)" font-size="10" fill="#000" text-anchor="end">80</text>
<text transform="translate(35.80,95.20) scale(1.04,0.88)" font-size="10" fill="#000" text-anchor="end">100</text>
<line x1="143.20" y1="86.00" x2="143.20" y2="151.90" stroke="#222" stroke-width="0.7" stroke-dasharray="0.75,1.0"/>
<path d="M116.50,151.90 L116.92,151.90 L117.33,151.90 L117.75,151.90 L118.16,151.90 L118.58,151.90 L118.99,151.90 L119.41,151.90 L119.83,151.90 L120.24,151.90 L120.66,151.90 L121.07,151.90 L121.49,151.90 L121.90,151.90 L122.32,151.90 L122.73,151.90 L123.15,151.90 L123.57,151.90 L123.98,151.90 L124.40,151.90 L124.81,151.90 L125.23,151.90 L125.64,151.90 L126.06,151.90 L126.47,151.90 L126.89,151.90 L127.31,151.90 L127.72,151.90 L128.14,151.90 L128.55,151.90 L128.97,151.90 L129.38,151.90 L129.80,151.90 L130.22,151.89 L130.63,151.89 L131.05,151.89 L131.46,151.88 L131.88,151.88 L132.29,151.87 L132.71,151.86 L133.12,151.85 L133.54,151.83 L133.96,151.81 L134.37,151.78 L134.79,151.73 L135.20,151.68 L135.62,151.60 L136.03,151.50 L136.45,151.37 L136.87,151.20 L137.28,150.97 L137.70,150.67 L138.11,150.28 L138.53,149.78 L138.94,149.13 L139.36,148.30 L139.78,147.26 L140.19,145.96 L140.61,144.38 L141.02,142.48 L141.44,140.23 L141.85,137.65 L142.27,134.74 L142.68,131.56 L143.10,128.16 L143.52,124.64 L143.93,121.09 L144.35,117.60 L144.76,114.26 L145.18,111.14 L145.59,108.29 L146.01,105.74 L146.43,103.49 L146.84,101.54 L147.26,99.87 L147.67,98.46 L148.09,97.27 L148.50,96.29 L148.92,95.47 L149.33,94.80 L149.75,94.25 L150.17,93.80 L150.58,93.44 L151.00,93.14 L151.41,92.90 L151.83,92.71 L152.24,92.55 L152.66,92.42 L153.07,92.32 L153.49,92.24 L153.91,92.17 L154.32,92.12 L154.74,92.08 L155.15,92.04 L155.57,92.01 L155.98,91.99 L156.40,91.97 L156.82,91.96 L157.23,91.95 L157.65,91.94 L158.06,91.93 L158.48,91.92 L158.89,91.92 L159.31,91.92 L159.72,91.91 L160.14,91.91 L160.56,91.91 L160.97,91.91 L161.39,91.91 L161.80,91.90 L162.22,91.90 L162.63,91.90 L163.05,91.90 L163.47,91.90 L163.88,91.90 L164.30,91.90 L164.71,91.90 L165.13,91.90 L165.54,91.90 L165.96,91.90 L166.38,91.90 L166.79,91.90 L167.21,91.90 L167.62,91.90 L168.04,91.90 L168.45,91.90 L168.87,91.90 L169.28,91.90 L169.70,91.90 L170.12,91.90 L170.53,91.90 L170.95,91.90 L171.36,91.90 L171.78,91.90 L172.19,91.90 L172.61,91.90 L173.03,91.90 L173.44,91.90 L173.86,91.90 L174.27,91.90 L174.69,91.90 L175.10,91.90 L175.52,91.90 L175.93,91.90 L176.35,91.90 L176.77,91.90 L177.18,91.90 L177.60,91.90 L178.01,91.90 L178.43,91.90 L178.84,91.90 L179.26,91.90 L179.68,91.90 L180.09,91.90 L180.51,91.90 L180.92,91.90 L181.34,91.90 L181.75,91.90 L182.17,91.90 L182.58,91.90 L183.00,91.90" fill="none" stroke="#000" stroke-width="1.35" stroke-linejoin="round"/>
<path d="M140.03,145.30V147.70M141.06,141.10V143.50M141.96,135.10V138.70M142.77,129.10V132.70M143.49,123.10V126.70M144.19,117.10V120.70M144.94,110.50V115.30M145.81,104.50V109.30M146.85,99.10V103.90M148.08,94.90V99.70M152.50,87.70V94.90M156.00,90.70V93.10" stroke="#555" stroke-width="0.8" fill="none"/>
<path d="M138.73,145.30h2.6M138.73,147.70h2.6M139.76,141.10h2.6M139.76,143.50h2.6M140.66,135.10h2.6M140.66,138.70h2.6M141.47,129.10h2.6M141.47,132.70h2.6M142.19,123.10h2.6M142.19,126.70h2.6M142.89,117.10h2.6M142.89,120.70h2.6M143.64,110.50h2.6M143.64,115.30h2.6M144.51,104.50h2.6M144.51,109.30h2.6M145.55,99.10h2.6M145.55,103.90h2.6M146.78,94.90h2.6M146.78,99.70h2.6M151.20,87.70h2.6M151.20,94.90h2.6M154.70,90.70h2.6M154.70,93.10h2.6" stroke="#111" stroke-width="0.7" fill="none"/>
<g fill="#000"><circle cx="136.64" cy="151.30" r="1.35"/><circle cx="138.72" cy="149.50" r="1.35"/><circle cx="140.03" cy="146.50" r="1.35"/><circle cx="141.06" cy="142.30" r="1.35"/><circle cx="141.96" cy="136.90" r="1.35"/><circle cx="142.77" cy="130.90" r="1.35"/><circle cx="143.49" cy="124.90" r="1.35"/><circle cx="144.19" cy="118.90" r="1.35"/><circle cx="144.94" cy="112.90" r="1.35"/><circle cx="145.81" cy="106.90" r="1.35"/><circle cx="146.85" cy="101.50" r="1.35"/><circle cx="148.08" cy="97.30" r="1.35"/><circle cx="152.50" cy="91.30" r="1.35"/><circle cx="156.00" cy="91.90" r="1.35"/></g>
<rect x="116.50" y="86.00" width="66.50" height="65.90" fill="none" stroke="#111" stroke-width="0.9"/>
<path d="M114.70,151.90H116.50M114.70,139.90H116.50M114.70,127.90H116.50M114.70,115.90H116.50M114.70,103.90H116.50M114.70,91.90H116.50" stroke="#111" stroke-width="0.7"/>
<path d="M116.50,151.90v1.8M118.50,151.90v1.0M119.67,151.90v1.0M120.50,151.90v1.0M121.15,151.90v1.0M121.67,151.90v1.0M122.12,151.90v1.0M122.51,151.90v1.0M122.85,151.90v1.0M123.15,151.90v1.8M125.15,151.90v1.0M126.32,151.90v1.0M127.15,151.90v1.0M127.80,151.90v1.0M128.32,151.90v1.0M128.77,151.90v1.0M129.16,151.90v1.0M129.50,151.90v1.0M129.80,151.90v1.8M131.80,151.90v1.0M132.97,151.90v1.0M133.80,151.90v1.0M134.45,151.90v1.0M134.97,151.90v1.0M135.42,151.90v1.0M135.81,151.90v1.0M136.15,151.90v1.0M136.45,151.90v1.8M138.45,151.90v1.0M139.62,151.90v1.0M140.45,151.90v1.0M141.10,151.90v1.0M141.62,151.90v1.0M142.07,151.90v1.0M142.46,151.90v1.0M142.80,151.90v1.0M143.10,151.90v1.8M145.10,151.90v1.0M146.27,151.90v1.0M147.10,151.90v1.0M147.75,151.90v1.0M148.27,151.90v1.0M148.72,151.90v1.0M149.11,151.90v1.0M149.45,151.90v1.0M149.75,151.90v1.8M151.75,151.90v1.0M152.92,151.90v1.0M153.75,151.90v1.0M154.40,151.90v1.0M154.92,151.90v1.0M155.37,151.90v1.0M155.76,151.90v1.0M156.10,151.90v1.0M156.40,151.90v1.8M158.40,151.90v1.0M159.57,151.90v1.0M160.40,151.90v1.0M161.05,151.90v1.0M161.57,151.90v1.0M162.02,151.90v1.0M162.41,151.90v1.0M162.75,151.90v1.0M163.05,151.90v1.8M165.05,151.90v1.0M166.22,151.90v1.0M167.05,151.90v1.0M167.70,151.90v1.0M168.22,151.90v1.0M168.67,151.90v1.0M169.06,151.90v1.0M169.40,151.90v1.0M169.70,151.90v1.8M171.70,151.90v1.0M172.87,151.90v1.0M173.70,151.90v1.0M174.35,151.90v1.0M174.87,151.90v1.0M175.32,151.90v1.0M175.71,151.90v1.0M176.05,151.90v1.0M176.35,151.90v1.8M178.35,151.90v1.0M179.52,151.90v1.0M180.35,151.90v1.0M181.00,151.90v1.0M181.52,151.90v1.0M181.97,151.90v1.0M182.36,151.90v1.0M182.70,151.90v1.0M183.00,151.90v1.8" stroke="#111" stroke-width="0.45"/>
<text x="178.00" y="146.60" font-size="8.6" fill="#000" text-anchor="end">BenM</text>
<line x1="245.60" y1="86.00" x2="245.60" y2="151.90" stroke="#222" stroke-width="0.7" stroke-dasharray="0.75,1.0"/>
<path d="M193.50,151.90 L193.91,151.90 L194.33,151.90 L194.74,151.90 L195.16,151.90 L195.57,151.90 L195.99,151.90 L196.40,151.90 L196.81,151.90 L197.23,151.90 L197.64,151.90 L198.06,151.90 L198.47,151.90 L198.89,151.90 L199.30,151.90 L199.72,151.90 L200.13,151.90 L200.54,151.90 L200.96,151.90 L201.37,151.90 L201.79,151.90 L202.20,151.90 L202.62,151.90 L203.03,151.90 L203.44,151.90 L203.86,151.90 L204.27,151.90 L204.69,151.90 L205.10,151.90 L205.52,151.90 L205.93,151.90 L206.35,151.90 L206.76,151.90 L207.17,151.90 L207.59,151.90 L208.00,151.90 L208.42,151.90 L208.83,151.90 L209.25,151.90 L209.66,151.90 L210.07,151.90 L210.49,151.90 L210.90,151.89 L211.32,151.89 L211.73,151.89 L212.15,151.89 L212.56,151.89 L212.98,151.89 L213.39,151.89 L213.80,151.89 L214.22,151.89 L214.63,151.88 L215.05,151.88 L215.46,151.88 L215.88,151.88 L216.29,151.87 L216.70,151.87 L217.12,151.87 L217.53,151.86 L217.95,151.86 L218.36,151.85 L218.78,151.85 L219.19,151.84 L219.61,151.84 L220.02,151.83 L220.43,151.82 L220.85,151.81 L221.26,151.80 L221.68,151.78 L222.09,151.77 L222.51,151.75 L222.92,151.73 L223.34,151.71 L223.75,151.69 L224.16,151.67 L224.58,151.64 L224.99,151.60 L225.41,151.57 L225.82,151.53 L226.24,151.48 L226.65,151.43 L227.06,151.37 L227.48,151.30 L227.89,151.23 L228.31,151.15 L228.72,151.05 L229.14,150.95 L229.55,150.84 L229.97,150.71 L230.38,150.56 L230.79,150.40 L231.21,150.22 L231.62,150.02 L232.04,149.80 L232.45,149.55 L232.87,149.27 L233.28,148.96 L233.69,148.62 L234.11,148.25 L234.52,147.83 L234.94,147.37 L235.35,146.87 L235.77,146.32 L236.18,145.71 L236.59,145.05 L237.01,144.32 L237.42,143.54 L237.84,142.69 L238.25,141.77 L238.67,140.79 L239.08,139.73 L239.50,138.61 L239.91,137.42 L240.32,136.15 L240.74,134.83 L241.15,133.44 L241.57,132.00 L241.98,130.50 L242.40,128.96 L242.81,127.39 L243.22,125.79 L243.64,124.16 L244.05,122.53 L244.47,120.90 L244.88,119.28 L245.30,117.68 L245.71,116.10 L246.13,114.56 L246.54,113.07 L246.95,111.62 L247.37,110.22 L247.78,108.89 L248.20,107.62 L248.61,106.41 L249.03,105.27 L249.44,104.20 L249.85,103.19 L250.27,102.25 L250.68,101.37 L251.10,100.55 L251.51,99.80 L251.93,99.10 L252.34,98.45 L252.76,97.86 L253.17,97.32 L253.58,96.82 L254.00,96.36 L254.41,95.94 L254.83,95.56 L255.24,95.22 L255.66,94.90 L256.07,94.61 L256.49,94.35 L256.90,94.12 L257.31,93.90 L257.73,93.71 L258.14,93.53 L258.56,93.37 L258.97,93.23 L259.39,93.10 L259.80,92.98" fill="none" stroke="#000" stroke-width="1.35" stroke-linejoin="round"/>
<path d="M236.80,143.50V145.90M239.02,138.70V141.10M240.66,133.30V136.90M242.04,128.50V132.10M243.45,123.10V126.70M244.52,118.90V122.50M245.76,114.10V117.70M246.76,110.50V114.10" stroke="#555" stroke-width="0.8" fill="none"/>
<path d="M235.50,143.50h2.6M235.50,145.90h2.6M237.72,138.70h2.6M237.72,141.10h2.6M239.36,133.30h2.6M239.36,136.90h2.6M240.74,128.50h2.6M240.74,132.10h2.6M242.15,123.10h2.6M242.15,126.70h2.6M243.22,118.90h2.6M243.22,122.50h2.6M244.46,114.10h2.6M244.46,117.70h2.6M245.46,110.50h2.6M245.46,114.10h2.6" stroke="#111" stroke-width="0.7" fill="none"/>
<g fill="#000"><circle cx="227.49" cy="151.30" r="1.35"/><circle cx="231.46" cy="150.10" r="1.35"/><circle cx="234.05" cy="148.30" r="1.35"/><circle cx="236.80" cy="144.70" r="1.35"/><circle cx="239.02" cy="139.90" r="1.35"/><circle cx="240.66" cy="135.10" r="1.35"/><circle cx="242.04" cy="130.30" r="1.35"/><circle cx="243.45" cy="124.90" r="1.35"/><circle cx="244.52" cy="120.70" r="1.35"/><circle cx="245.76" cy="115.90" r="1.35"/><circle cx="246.76" cy="112.30" r="1.35"/></g>
<rect x="193.50" y="86.00" width="66.30" height="65.90" fill="none" stroke="#111" stroke-width="0.9"/>
<path d="M191.70,151.90H193.50M191.70,139.90H193.50M191.70,127.90H193.50M191.70,115.90H193.50M191.70,103.90H193.50M191.70,91.90H193.50" stroke="#111" stroke-width="0.7"/>
<path d="M193.50,151.90v1.8M195.50,151.90v1.0M196.66,151.90v1.0M197.49,151.90v1.0M198.13,151.90v1.0M198.66,151.90v1.0M199.10,151.90v1.0M199.49,151.90v1.0M199.83,151.90v1.0M200.13,151.90v1.8M202.13,151.90v1.0M203.29,151.90v1.0M204.12,151.90v1.0M204.76,151.90v1.0M205.29,151.90v1.0M205.73,151.90v1.0M206.12,151.90v1.0M206.46,151.90v1.0M206.76,151.90v1.8M208.76,151.90v1.0M209.92,151.90v1.0M210.75,151.90v1.0M211.39,151.90v1.0M211.92,151.90v1.0M212.36,151.90v1.0M212.75,151.90v1.0M213.09,151.90v1.0M213.39,151.90v1.8M215.39,151.90v1.0M216.55,151.90v1.0M217.38,151.90v1.0M218.02,151.90v1.0M218.55,151.90v1.0M218.99,151.90v1.0M219.38,151.90v1.0M219.72,151.90v1.0M220.02,151.90v1.8M222.02,151.90v1.0M223.18,151.90v1.0M224.01,151.90v1.0M224.65,151.90v1.0M225.18,151.90v1.0M225.62,151.90v1.0M226.01,151.90v1.0M226.35,151.90v1.0M226.65,151.90v1.8M228.65,151.90v1.0M229.81,151.90v1.0M230.64,151.90v1.0M231.28,151.90v1.0M231.81,151.90v1.0M232.25,151.90v1.0M232.64,151.90v1.0M232.98,151.90v1.0M233.28,151.90v1.8M235.28,151.90v1.0M236.44,151.90v1.0M237.27,151.90v1.0M237.91,151.90v1.0M238.44,151.90v1.0M238.88,151.90v1.0M239.27,151.90v1.0M239.61,151.90v1.0M239.91,151.90v1.8M241.91,151.90v1.0M243.07,151.90v1.0M243.90,151.90v1.0M244.54,151.90v1.0M245.07,151.90v1.0M245.51,151.90v1.0M245.90,151.90v1.0M246.24,151.90v1.0M246.54,151.90v1.8M248.54,151.90v1.0M249.70,151.90v1.0M250.53,151.90v1.0M251.17,151.90v1.0M251.70,151.90v1.0M252.14,151.90v1.0M252.53,151.90v1.0M252.87,151.90v1.0M253.17,151.90v1.8M255.17,151.90v1.0M256.33,151.90v1.0M257.16,151.90v1.0M257.80,151.90v1.0M258.33,151.90v1.0M258.77,151.90v1.0M259.16,151.90v1.0M259.50,151.90v1.0M259.80,151.90v1.8" stroke="#111" stroke-width="0.45"/>
<text x="197.00" y="97.80" font-size="8.6" fill="#000">TtdR</text>
<line x1="318.20" y1="86.00" x2="318.20" y2="151.90" stroke="#222" stroke-width="0.7" stroke-dasharray="0.75,1.0"/>
<path d="M272.50,151.89 L272.91,151.89 L273.33,151.88 L273.74,151.88 L274.15,151.88 L274.57,151.88 L274.98,151.88 L275.39,151.88 L275.81,151.87 L276.22,151.87 L276.63,151.87 L277.04,151.87 L277.46,151.86 L277.87,151.86 L278.28,151.86 L278.70,151.86 L279.11,151.85 L279.52,151.85 L279.94,151.84 L280.35,151.84 L280.76,151.83 L281.18,151.83 L281.59,151.82 L282.00,151.82 L282.42,151.81 L282.83,151.80 L283.24,151.79 L283.65,151.79 L284.07,151.78 L284.48,151.77 L284.89,151.76 L285.31,151.74 L285.72,151.73 L286.13,151.72 L286.55,151.70 L286.96,151.69 L287.37,151.67 L287.79,151.65 L288.20,151.63 L288.61,151.61 L289.02,151.58 L289.44,151.56 L289.85,151.53 L290.26,151.50 L290.68,151.47 L291.09,151.43 L291.50,151.40 L291.92,151.36 L292.33,151.31 L292.74,151.26 L293.16,151.21 L293.57,151.16 L293.98,151.10 L294.40,151.03 L294.81,150.97 L295.22,150.89 L295.63,150.81 L296.05,150.72 L296.46,150.63 L296.87,150.53 L297.29,150.42 L297.70,150.31 L298.11,150.18 L298.53,150.05 L298.94,149.90 L299.35,149.75 L299.77,149.58 L300.18,149.40 L300.59,149.21 L301.01,149.00 L301.42,148.78 L301.83,148.55 L302.25,148.30 L302.66,148.03 L303.07,147.74 L303.48,147.43 L303.90,147.10 L304.31,146.75 L304.72,146.38 L305.14,145.99 L305.55,145.57 L305.96,145.12 L306.38,144.65 L306.79,144.15 L307.20,143.63 L307.62,143.07 L308.03,142.49 L308.44,141.87 L308.86,141.23 L309.27,140.55 L309.68,139.84 L310.09,139.10 L310.51,138.33 L310.92,137.53 L311.33,136.70 L311.75,135.84 L312.16,134.95 L312.57,134.03 L312.99,133.08 L313.40,132.11 L313.81,131.12 L314.23,130.11 L314.64,129.08 L315.05,128.03 L315.46,126.97 L315.88,125.89 L316.29,124.81 L316.70,123.72 L317.12,122.63 L317.53,121.54 L317.94,120.45 L318.36,119.36 L318.77,118.29 L319.18,117.22 L319.60,116.17 L320.01,115.13 L320.42,114.11 L320.84,113.11 L321.25,112.14 L321.66,111.19 L322.07,110.26 L322.49,109.36 L322.90,108.48 L323.31,107.64 L323.73,106.82 L324.14,106.03 L324.55,105.28 L324.97,104.55 L325.38,103.85 L325.79,103.18 L326.21,102.55 L326.62,101.94 L327.03,101.36 L327.45,100.80 L327.86,100.28 L328.27,99.78 L328.69,99.31 L329.10,98.86 L329.51,98.43 L329.92,98.03 L330.34,97.65 L330.75,97.29 L331.16,96.96 L331.58,96.64 L331.99,96.34 L332.40,96.06 L332.82,95.79 L333.23,95.54 L333.64,95.31 L334.06,95.09 L334.47,94.88 L334.88,94.68 L335.30,94.50 L335.71,94.33 L336.12,94.17 L336.53,94.02 L336.95,93.88 L337.36,93.75 L337.77,93.63 L338.19,93.51 L338.60,93.41" fill="none" stroke="#000" stroke-width="1.35" stroke-linejoin="round"/>
<path d="M306.33,143.50V145.90M309.65,138.70V141.10M312.09,133.30V136.90M314.15,127.90V132.70M316.03,122.50V128.50M317.39,118.90V124.90M318.76,115.30V121.30" stroke="#555" stroke-width="0.8" fill="none"/>
<path d="M305.03,143.50h2.6M305.03,145.90h2.6M308.35,138.70h2.6M308.35,141.10h2.6M310.79,133.30h2.6M310.79,136.90h2.6M312.85,127.90h2.6M312.85,132.70h2.6M314.73,122.50h2.6M314.73,128.50h2.6M316.09,118.90h2.6M316.09,124.90h2.6M317.46,115.30h2.6M317.46,121.30h2.6" stroke="#111" stroke-width="0.7" fill="none"/>
<g fill="#000"><circle cx="292.44" cy="151.30" r="1.35"/><circle cx="298.37" cy="150.10" r="1.35"/><circle cx="302.24" cy="148.30" r="1.35"/><circle cx="306.33" cy="144.70" r="1.35"/><circle cx="309.65" cy="139.90" r="1.35"/><circle cx="312.09" cy="135.10" r="1.35"/><circle cx="314.15" cy="130.30" r="1.35"/><circle cx="316.03" cy="125.50" r="1.35"/><circle cx="317.39" cy="121.90" r="1.35"/><circle cx="318.76" cy="118.30" r="1.35"/></g>
<rect x="272.50" y="86.00" width="66.10" height="65.90" fill="none" stroke="#111" stroke-width="0.9"/>
<path d="M270.70,151.90H272.50M270.70,139.90H272.50M270.70,127.90H272.50M270.70,115.90H272.50M270.70,103.90H272.50M270.70,91.90H272.50" stroke="#111" stroke-width="0.7"/>
<path d="M272.50,151.90v1.8M274.49,151.90v1.0M275.65,151.90v1.0M276.48,151.90v1.0M277.12,151.90v1.0M277.64,151.90v1.0M278.09,151.90v1.0M278.47,151.90v1.0M278.81,151.90v1.0M279.11,151.90v1.8M281.10,151.90v1.0M282.26,151.90v1.0M283.09,151.90v1.0M283.73,151.90v1.0M284.25,151.90v1.0M284.70,151.90v1.0M285.08,151.90v1.0M285.42,151.90v1.0M285.72,151.90v1.8M287.71,151.90v1.0M288.87,151.90v1.0M289.70,151.90v1.0M290.34,151.90v1.0M290.86,151.90v1.0M291.31,151.90v1.0M291.69,151.90v1.0M292.03,151.90v1.0M292.33,151.90v1.8M294.32,151.90v1.0M295.48,151.90v1.0M296.31,151.90v1.0M296.95,151.90v1.0M297.47,151.90v1.0M297.92,151.90v1.0M298.30,151.90v1.0M298.64,151.90v1.0M298.94,151.90v1.8M300.93,151.90v1.0M302.09,151.90v1.0M302.92,151.90v1.0M303.56,151.90v1.0M304.08,151.90v1.0M304.53,151.90v1.0M304.91,151.90v1.0M305.25,151.90v1.0M305.55,151.90v1.8M307.54,151.90v1.0M308.70,151.90v1.0M309.53,151.90v1.0M310.17,151.90v1.0M310.69,151.90v1.0M311.14,151.90v1.0M311.52,151.90v1.0M311.86,151.90v1.0M312.16,151.90v1.8M314.15,151.90v1.0M315.31,151.90v1.0M316.14,151.90v1.0M316.78,151.90v1.0M317.30,151.90v1.0M317.75,151.90v1.0M318.13,151.90v1.0M318.47,151.90v1.0M318.77,151.90v1.8M320.76,151.90v1.0M321.92,151.90v1.0M322.75,151.90v1.0M323.39,151.90v1.0M323.91,151.90v1.0M324.36,151.90v1.0M324.74,151.90v1.0M325.08,151.90v1.0M325.38,151.90v1.8M327.37,151.90v1.0M328.53,151.90v1.0M329.36,151.90v1.0M330.00,151.90v1.0M330.52,151.90v1.0M330.97,151.90v1.0M331.35,151.90v1.0M331.69,151.90v1.0M331.99,151.90v1.8M333.98,151.90v1.0M335.14,151.90v1.0M335.97,151.90v1.0M336.61,151.90v1.0M337.13,151.90v1.0M337.58,151.90v1.0M337.96,151.90v1.0M338.30,151.90v1.0M338.60,151.90v1.8" stroke="#111" stroke-width="0.45"/>
<text x="276.00" y="97.80" font-size="8.6" fill="#000">SauR</text>
<line x1="61.20" y1="164.40" x2="61.20" y2="230.50" stroke="#222" stroke-width="0.7" stroke-dasharray="0.75,1.0"/>
<path d="M40.60,230.49 L41.02,230.48 L41.43,230.48 L41.84,230.48 L42.26,230.48 L42.68,230.47 L43.09,230.47 L43.51,230.46 L43.92,230.46 L44.34,230.45 L44.75,230.44 L45.16,230.43 L45.58,230.42 L46.00,230.41 L46.41,230.39 L46.83,230.38 L47.24,230.36 L47.66,230.33 L48.07,230.31 L48.48,230.27 L48.90,230.24 L49.31,230.20 L49.73,230.15 L50.15,230.09 L50.56,230.02 L50.98,229.95 L51.39,229.86 L51.81,229.75 L52.22,229.63 L52.64,229.50 L53.05,229.34 L53.47,229.15 L53.88,228.94 L54.30,228.69 L54.71,228.40 L55.12,228.07 L55.54,227.69 L55.95,227.25 L56.37,226.75 L56.79,226.18 L57.20,225.53 L57.62,224.78 L58.03,223.94 L58.45,222.98 L58.86,221.91 L59.28,220.70 L59.69,219.37 L60.11,217.88 L60.52,216.26 L60.94,214.49 L61.35,212.58 L61.77,210.54 L62.18,208.38 L62.59,206.12 L63.01,203.79 L63.43,201.41 L63.84,199.01 L64.25,196.62 L64.67,194.27 L65.09,192.00 L65.50,189.82 L65.92,187.76 L66.33,185.83 L66.75,184.04 L67.16,182.41 L67.58,180.93 L67.99,179.59 L68.41,178.40 L68.82,177.34 L69.23,176.41 L69.65,175.59 L70.06,174.87 L70.48,174.25 L70.90,173.71 L71.31,173.25 L71.73,172.85 L72.14,172.50 L72.56,172.21 L72.97,171.95 L73.39,171.74 L73.80,171.55 L74.22,171.39 L74.63,171.26 L75.05,171.15 L75.46,171.05 L75.88,170.97 L76.29,170.90 L76.71,170.84 L77.12,170.78 L77.53,170.74 L77.95,170.70 L78.37,170.67 L78.78,170.65 L79.20,170.63 L79.61,170.61 L80.03,170.59 L80.44,170.58 L80.86,170.56 L81.27,170.55 L81.69,170.55 L82.10,170.54 L82.52,170.53 L82.93,170.53 L83.34,170.52 L83.76,170.52 L84.18,170.52 L84.59,170.51 L85.00,170.51 L85.42,170.51 L85.84,170.51 L86.25,170.51 L86.67,170.51 L87.08,170.51 L87.50,170.50 L87.91,170.50 L88.33,170.50 L88.74,170.50 L89.16,170.50 L89.57,170.50 L89.99,170.50 L90.40,170.50 L90.81,170.50 L91.23,170.50 L91.65,170.50 L92.06,170.50 L92.48,170.50 L92.89,170.50 L93.31,170.50 L93.72,170.50 L94.14,170.50 L94.55,170.50 L94.97,170.50 L95.38,170.50 L95.80,170.50 L96.21,170.50 L96.62,170.50 L97.04,170.50 L97.46,170.50 L97.87,170.50 L98.28,170.50 L98.70,170.50 L99.12,170.50 L99.53,170.50 L99.95,170.50 L100.36,170.50 L100.78,170.50 L101.19,170.50 L101.61,170.50 L102.02,170.50 L102.44,170.50 L102.85,170.50 L103.27,170.50 L103.68,170.50 L104.09,170.50 L104.51,170.50 L104.93,170.50 L105.34,170.50 L105.75,170.50 L106.17,170.50 L106.59,170.50 L107.00,170.50" fill="none" stroke="#000" stroke-width="1.35" stroke-linejoin="round"/>
<path d="M57.44,223.90V226.30M59.21,219.70V222.10M60.70,213.70V217.30M61.97,207.70V211.30M63.06,201.70V205.30M64.10,195.70V199.30M65.18,189.10V193.90M66.40,183.10V187.90M67.83,177.70V182.50M69.48,173.50V178.30M71.50,172.90V176.50M75.50,170.50V175.30M79.50,168.10V172.90" stroke="#555" stroke-width="0.8" fill="none"/>
<path d="M56.14,223.90h2.6M56.14,226.30h2.6M57.91,219.70h2.6M57.91,222.10h2.6M59.40,213.70h2.6M59.40,217.30h2.6M60.67,207.70h2.6M60.67,211.30h2.6M61.76,201.70h2.6M61.76,205.30h2.6M62.80,195.70h2.6M62.80,199.30h2.6M63.88,189.10h2.6M63.88,193.90h2.6M65.10,183.10h2.6M65.10,187.90h2.6M66.53,177.70h2.6M66.53,182.50h2.6M68.18,173.50h2.6M68.18,178.30h2.6M70.20,172.90h2.6M70.20,176.50h2.6M74.20,170.50h2.6M74.20,175.30h2.6M78.20,168.10h2.6M78.20,172.90h2.6" stroke="#111" stroke-width="0.7" fill="none"/>
<g fill="#000"><circle cx="51.20" cy="229.90" r="1.35"/><circle cx="55.09" cy="228.10" r="1.35"/><circle cx="57.44" cy="225.10" r="1.35"/><circle cx="59.21" cy="220.90" r="1.35"/><circle cx="60.70" cy="215.50" r="1.35"/><circle cx="61.97" cy="209.50" r="1.35"/><circle cx="63.06" cy="203.50" r="1.35"/><circle cx="64.10" cy="197.50" r="1.35"/><circle cx="65.18" cy="191.50" r="1.35"/><circle cx="66.40" cy="185.50" r="1.35"/><circle cx="67.83" cy="180.10" r="1.35"/><circle cx="69.48" cy="175.90" r="1.35"/><circle cx="71.50" cy="174.70" r="1.35"/><circle cx="75.50" cy="172.90" r="1.35"/><circle cx="79.50" cy="170.50" r="1.35"/></g>
<rect x="40.60" y="164.40" width="66.40" height="66.10" fill="none" stroke="#111" stroke-width="0.9"/>
<path d="M38.80,230.50H40.60M38.80,218.50H40.60M38.80,206.50H40.60M38.80,194.50H40.60M38.80,182.50H40.60M38.80,170.50H40.60" stroke="#111" stroke-width="0.7"/>
<path d="M40.60,230.50v1.8M42.60,230.50v1.0M43.77,230.50v1.0M44.60,230.50v1.0M45.24,230.50v1.0M45.77,230.50v1.0M46.21,230.50v1.0M46.60,230.50v1.0M46.94,230.50v1.0M47.24,230.50v1.8M49.24,230.50v1.0M50.41,230.50v1.0M51.24,230.50v1.0M51.88,230.50v1.0M52.41,230.50v1.0M52.85,230.50v1.0M53.24,230.50v1.0M53.58,230.50v1.0M53.88,230.50v1.8M55.88,230.50v1.0M57.05,230.50v1.0M57.88,230.50v1.0M58.52,230.50v1.0M59.05,230.50v1.0M59.49,230.50v1.0M59.88,230.50v1.0M60.22,230.50v1.0M60.52,230.50v1.8M62.52,230.50v1.0M63.69,230.50v1.0M64.52,230.50v1.0M65.16,230.50v1.0M65.69,230.50v1.0M66.13,230.50v1.0M66.52,230.50v1.0M66.86,230.50v1.0M67.16,230.50v1.8M69.16,230.50v1.0M70.33,230.50v1.0M71.16,230.50v1.0M71.80,230.50v1.0M72.33,230.50v1.0M72.77,230.50v1.0M73.16,230.50v1.0M73.50,230.50v1.0M73.80,230.50v1.8M75.80,230.50v1.0M76.97,230.50v1.0M77.80,230.50v1.0M78.44,230.50v1.0M78.97,230.50v1.0M79.41,230.50v1.0M79.80,230.50v1.0M80.14,230.50v1.0M80.44,230.50v1.8M82.44,230.50v1.0M83.61,230.50v1.0M84.44,230.50v1.0M85.08,230.50v1.0M85.61,230.50v1.0M86.05,230.50v1.0M86.44,230.50v1.0M86.78,230.50v1.0M87.08,230.50v1.8M89.08,230.50v1.0M90.25,230.50v1.0M91.08,230.50v1.0M91.72,230.50v1.0M92.25,230.50v1.0M92.69,230.50v1.0M93.08,230.50v1.0M93.42,230.50v1.0M93.72,230.50v1.8M95.72,230.50v1.0M96.89,230.50v1.0M97.72,230.50v1.0M98.36,230.50v1.0M98.89,230.50v1.0M99.33,230.50v1.0M99.72,230.50v1.0M100.06,230.50v1.0M100.36,230.50v1.8M102.36,230.50v1.0M103.53,230.50v1.0M104.36,230.50v1.0M105.00,230.50v1.0M105.53,230.50v1.0M105.97,230.50v1.0M106.36,230.50v1.0M106.70,230.50v1.0M107.00,230.50v1.8" stroke="#111" stroke-width="0.45"/>
<text x="102.00" y="225.20" font-size="8.6" fill="#000" text-anchor="end">KynR</text>
<text transform="translate(35.80,233.80) scale(1.04,0.88)" font-size="10" fill="#000" text-anchor="end">0</text>
<text transform="translate(35.80,221.80) scale(1.04,0.88)" font-size="10" fill="#000" text-anchor="end">20</text>
<text transform="translate(35.80,209.80) scale(1.04,0.88)" font-size="10" fill="#000" text-anchor="end">40</text>
<text transform="translate(35.80,197.80) scale(1.04,0.88)" font-size="10" fill="#000" text-anchor="end">60</text>
<text transform="translate(35.80,185.80) scale(1.04,0.88)" font-size="10" fill="#000" text-anchor="end">80</text>
<text transform="translate(35.80,173.80) scale(1.04,0.88)" font-size="10" fill="#000" text-anchor="end">100</text>
<line x1="143.40" y1="164.40" x2="143.40" y2="230.50" stroke="#222" stroke-width="0.7" stroke-dasharray="0.75,1.0"/>
<path d="M116.50,230.46 L116.92,230.46 L117.33,230.45 L117.75,230.45 L118.16,230.44 L118.58,230.43 L118.99,230.42 L119.41,230.41 L119.83,230.40 L120.24,230.39 L120.66,230.37 L121.07,230.36 L121.49,230.34 L121.90,230.32 L122.32,230.29 L122.73,230.27 L123.15,230.24 L123.57,230.20 L123.98,230.16 L124.40,230.12 L124.81,230.07 L125.23,230.02 L125.64,229.96 L126.06,229.89 L126.47,229.81 L126.89,229.73 L127.31,229.63 L127.72,229.52 L128.14,229.40 L128.55,229.27 L128.97,229.12 L129.38,228.96 L129.80,228.77 L130.22,228.57 L130.63,228.34 L131.05,228.09 L131.46,227.82 L131.88,227.51 L132.29,227.18 L132.71,226.81 L133.12,226.41 L133.54,225.97 L133.96,225.49 L134.37,224.97 L134.79,224.41 L135.20,223.80 L135.62,223.14 L136.03,222.43 L136.45,221.68 L136.87,220.87 L137.28,220.01 L137.70,219.10 L138.11,218.14 L138.53,217.13 L138.94,216.07 L139.36,214.96 L139.78,213.81 L140.19,212.62 L140.61,211.40 L141.02,210.13 L141.44,208.84 L141.85,207.53 L142.27,206.20 L142.68,204.85 L143.10,203.50 L143.52,202.14 L143.93,200.78 L144.35,199.43 L144.76,198.10 L145.18,196.78 L145.59,195.48 L146.01,194.21 L146.43,192.97 L146.84,191.77 L147.26,190.60 L147.67,189.46 L148.09,188.37 L148.50,187.32 L148.92,186.31 L149.33,185.34 L149.75,184.42 L150.17,183.54 L150.58,182.70 L151.00,181.91 L151.41,181.16 L151.83,180.45 L152.24,179.78 L152.66,179.15 L153.07,178.55 L153.49,177.99 L153.91,177.47 L154.32,176.98 L154.74,176.52 L155.15,176.09 L155.57,175.69 L155.98,175.31 L156.40,174.96 L156.82,174.64 L157.23,174.33 L157.65,174.05 L158.06,173.79 L158.48,173.54 L158.89,173.32 L159.31,173.11 L159.72,172.91 L160.14,172.73 L160.56,172.56 L160.97,172.41 L161.39,172.26 L161.80,172.13 L162.22,172.01 L162.63,171.89 L163.05,171.79 L163.47,171.69 L163.88,171.60 L164.30,171.51 L164.71,171.44 L165.13,171.36 L165.54,171.30 L165.96,171.24 L166.38,171.18 L166.79,171.13 L167.21,171.08 L167.62,171.04 L168.04,170.99 L168.45,170.96 L168.87,170.92 L169.28,170.89 L169.70,170.86 L170.12,170.83 L170.53,170.81 L170.95,170.78 L171.36,170.76 L171.78,170.74 L172.19,170.72 L172.61,170.70 L173.03,170.69 L173.44,170.67 L173.86,170.66 L174.27,170.65 L174.69,170.64 L175.10,170.63 L175.52,170.62 L175.93,170.61 L176.35,170.60 L176.77,170.59 L177.18,170.58 L177.60,170.58 L178.01,170.57 L178.43,170.57 L178.84,170.56 L179.26,170.56 L179.68,170.55 L180.09,170.55 L180.51,170.54 L180.92,170.54 L181.34,170.54 L181.75,170.53 L182.17,170.53 L182.58,170.53 L183.00,170.53" fill="none" stroke="#000" stroke-width="1.35" stroke-linejoin="round"/>
<path d="M134.27,223.90V226.30M136.85,219.70V222.10M139.16,213.70V217.30M141.23,207.70V211.30M143.10,201.70V205.30M144.95,195.70V199.30M146.93,189.10V193.90M149.26,183.10V187.90M152.04,177.70V182.50" stroke="#555" stroke-width="0.8" fill="none"/>
<path d="M132.97,223.90h2.6M132.97,226.30h2.6M135.55,219.70h2.6M135.55,222.10h2.6M137.86,213.70h2.6M137.86,217.30h2.6M139.93,207.70h2.6M139.93,211.30h2.6M141.80,201.70h2.6M141.80,205.30h2.6M143.65,195.70h2.6M143.65,199.30h2.6M145.63,189.10h2.6M145.63,193.90h2.6M147.96,183.10h2.6M147.96,187.90h2.6M150.74,177.70h2.6M150.74,182.50h2.6" stroke="#111" stroke-width="0.7" fill="none"/>
<g fill="#000"><circle cx="126.00" cy="229.90" r="1.35"/><circle cx="131.04" cy="228.10" r="1.35"/><circle cx="134.27" cy="225.10" r="1.35"/><circle cx="136.85" cy="220.90" r="1.35"/><circle cx="139.16" cy="215.50" r="1.35"/><circle cx="141.23" cy="209.50" r="1.35"/><circle cx="143.10" cy="203.50" r="1.35"/><circle cx="144.95" cy="197.50" r="1.35"/><circle cx="146.93" cy="191.50" r="1.35"/><circle cx="149.26" cy="185.50" r="1.35"/><circle cx="152.04" cy="180.10" r="1.35"/></g>
<rect x="116.50" y="164.40" width="66.50" height="66.10" fill="none" stroke="#111" stroke-width="0.9"/>
<path d="M114.70,230.50H116.50M114.70,218.50H116.50M114.70,206.50H116.50M114.70,194.50H116.50M114.70,182.50H116.50M114.70,170.50H116.50" stroke="#111" stroke-width="0.7"/>
<path d="M116.50,230.50v1.8M118.50,230.50v1.0M119.67,230.50v1.0M120.50,230.50v1.0M121.15,230.50v1.0M121.67,230.50v1.0M122.12,230.50v1.0M122.51,230.50v1.0M122.85,230.50v1.0M123.15,230.50v1.8M125.15,230.50v1.0M126.32,230.50v1.0M127.15,230.50v1.0M127.80,230.50v1.0M128.32,230.50v1.0M128.77,230.50v1.0M129.16,230.50v1.0M129.50,230.50v1.0M129.80,230.50v1.8M131.80,230.50v1.0M132.97,230.50v1.0M133.80,230.50v1.0M134.45,230.50v1.0M134.97,230.50v1.0M135.42,230.50v1.0M135.81,230.50v1.0M136.15,230.50v1.0M136.45,230.50v1.8M138.45,230.50v1.0M139.62,230.50v1.0M140.45,230.50v1.0M141.10,230.50v1.0M141.62,230.50v1.0M142.07,230.50v1.0M142.46,230.50v1.0M142.80,230.50v1.0M143.10,230.50v1.8M145.10,230.50v1.0M146.27,230.50v1.0M147.10,230.50v1.0M147.75,230.50v1.0M148.27,230.50v1.0M148.72,230.50v1.0M149.11,230.50v1.0M149.45,230.50v1.0M149.75,230.50v1.8M151.75,230.50v1.0M152.92,230.50v1.0M153.75,230.50v1.0M154.40,230.50v1.0M154.92,230.50v1.0M155.37,230.50v1.0M155.76,230.50v1.0M156.10,230.50v1.0M156.40,230.50v1.8M158.40,230.50v1.0M159.57,230.50v1.0M160.40,230.50v1.0M161.05,230.50v1.0M161.57,230.50v1.0M162.02,230.50v1.0M162.41,230.50v1.0M162.75,230.50v1.0M163.05,230.50v1.8M165.05,230.50v1.0M166.22,230.50v1.0M167.05,230.50v1.0M167.70,230.50v1.0M168.22,230.50v1.0M168.67,230.50v1.0M169.06,230.50v1.0M169.40,230.50v1.0M169.70,230.50v1.8M171.70,230.50v1.0M172.87,230.50v1.0M173.70,230.50v1.0M174.35,230.50v1.0M174.87,230.50v1.0M175.32,230.50v1.0M175.71,230.50v1.0M176.05,230.50v1.0M176.35,230.50v1.8M178.35,230.50v1.0M179.52,230.50v1.0M180.35,230.50v1.0M181.00,230.50v1.0M181.52,230.50v1.0M181.97,230.50v1.0M182.36,230.50v1.0M182.70,230.50v1.0M183.00,230.50v1.8" stroke="#111" stroke-width="0.45"/>
<text x="178.00" y="225.20" font-size="8.6" fill="#000" text-anchor="end">HpdR</text>
<line x1="222.10" y1="164.40" x2="222.10" y2="230.50" stroke="#222" stroke-width="0.7" stroke-dasharray="0.75,1.0"/>
<path d="M193.50,230.46 L193.91,230.46 L194.33,230.45 L194.74,230.44 L195.16,230.44 L195.57,230.43 L195.99,230.42 L196.40,230.41 L196.81,230.40 L197.23,230.38 L197.64,230.37 L198.06,230.35 L198.47,230.33 L198.89,230.31 L199.30,230.29 L199.72,230.26 L200.13,230.23 L200.54,230.20 L200.96,230.16 L201.37,230.12 L201.79,230.07 L202.20,230.01 L202.62,229.95 L203.03,229.89 L203.44,229.81 L203.86,229.73 L204.27,229.63 L204.69,229.53 L205.10,229.41 L205.52,229.28 L205.93,229.14 L206.35,228.98 L206.76,228.80 L207.17,228.60 L207.59,228.39 L208.00,228.15 L208.42,227.89 L208.83,227.60 L209.25,227.28 L209.66,226.93 L210.07,226.55 L210.49,226.14 L210.90,225.69 L211.32,225.20 L211.73,224.67 L212.15,224.10 L212.56,223.48 L212.98,222.82 L213.39,222.11 L213.80,221.36 L214.22,220.56 L214.63,219.71 L215.05,218.81 L215.46,217.87 L215.88,216.88 L216.29,215.85 L216.70,214.77 L217.12,213.66 L217.53,212.50 L217.95,211.32 L218.36,210.10 L218.78,208.86 L219.19,207.59 L219.61,206.31 L220.02,205.02 L220.43,203.72 L220.85,202.41 L221.26,201.11 L221.68,199.81 L222.09,198.53 L222.51,197.26 L222.92,196.01 L223.34,194.78 L223.75,193.57 L224.16,192.40 L224.58,191.26 L224.99,190.15 L225.41,189.08 L225.82,188.05 L226.24,187.05 L226.65,186.10 L227.06,185.18 L227.48,184.30 L227.89,183.47 L228.31,182.67 L228.72,181.91 L229.14,181.19 L229.55,180.51 L229.97,179.87 L230.38,179.26 L230.79,178.68 L231.21,178.14 L231.62,177.63 L232.04,177.15 L232.45,176.70 L232.87,176.28 L233.28,175.88 L233.69,175.51 L234.11,175.17 L234.52,174.84 L234.94,174.54 L235.35,174.25 L235.77,173.99 L236.18,173.74 L236.59,173.51 L237.01,173.30 L237.42,173.10 L237.84,172.91 L238.25,172.74 L238.67,172.58 L239.08,172.43 L239.50,172.29 L239.91,172.16 L240.32,172.04 L240.74,171.93 L241.15,171.83 L241.57,171.73 L241.98,171.64 L242.40,171.56 L242.81,171.48 L243.22,171.41 L243.64,171.34 L244.05,171.28 L244.47,171.22 L244.88,171.17 L245.30,171.12 L245.71,171.07 L246.13,171.03 L246.54,170.99 L246.95,170.96 L247.37,170.92 L247.78,170.89 L248.20,170.86 L248.61,170.84 L249.03,170.81 L249.44,170.79 L249.85,170.77 L250.27,170.75 L250.68,170.73 L251.10,170.71 L251.51,170.70 L251.93,170.68 L252.34,170.67 L252.76,170.66 L253.17,170.64 L253.58,170.63 L254.00,170.62 L254.41,170.62 L254.83,170.61 L255.24,170.60 L255.66,170.59 L256.07,170.58 L256.49,170.58 L256.90,170.57 L257.31,170.57 L257.73,170.56 L258.14,170.56 L258.56,170.55 L258.97,170.55 L259.39,170.55 L259.80,170.54" fill="none" stroke="#000" stroke-width="1.35" stroke-linejoin="round"/>
<path d="M211.40,223.90V226.30M214.05,219.70V222.10M216.43,213.70V217.30M218.56,207.70V211.30M220.50,201.70V205.30M222.43,195.70V199.30M224.49,189.10V193.90M226.92,183.10V187.90M229.81,177.70V182.50M233.70,166.30V184.30M237.60,166.90V178.90" stroke="#555" stroke-width="0.8" fill="none"/>
<path d="M210.10,223.90h2.6M210.10,226.30h2.6M212.75,219.70h2.6M212.75,222.10h2.6M215.13,213.70h2.6M215.13,217.30h2.6M217.26,207.70h2.6M217.26,211.30h2.6M219.20,201.70h2.6M219.20,205.30h2.6M221.13,195.70h2.6M221.13,199.30h2.6M223.19,189.10h2.6M223.19,193.90h2.6M225.62,183.10h2.6M225.62,187.90h2.6M228.51,177.70h2.6M228.51,182.50h2.6M232.40,166.30h2.6M232.40,184.30h2.6M236.30,166.90h2.6M236.30,178.90h2.6" stroke="#111" stroke-width="0.7" fill="none"/>
<g fill="#000"><circle cx="202.95" cy="229.90" r="1.35"/><circle cx="208.08" cy="228.10" r="1.35"/><circle cx="211.40" cy="225.10" r="1.35"/><circle cx="214.05" cy="220.90" r="1.35"/><circle cx="216.43" cy="215.50" r="1.35"/><circle cx="218.56" cy="209.50" r="1.35"/><circle cx="220.50" cy="203.50" r="1.35"/><circle cx="222.43" cy="197.50" r="1.35"/><circle cx="224.49" cy="191.50" r="1.35"/><circle cx="226.92" cy="185.50" r="1.35"/><circle cx="229.81" cy="180.10" r="1.35"/><circle cx="233.70" cy="175.30" r="1.35"/><circle cx="237.60" cy="172.90" r="1.35"/></g>
<rect x="193.50" y="164.40" width="66.30" height="66.10" fill="none" stroke="#111" stroke-width="0.9"/>
<path d="M191.70,230.50H193.50M191.70,218.50H193.50M191.70,206.50H193.50M191.70,194.50H193.50M191.70,182.50H193.50M191.70,170.50H193.50" stroke="#111" stroke-width="0.7"/>
<path d="M193.50,230.50v1.8M195.50,230.50v1.0M196.66,230.50v1.0M197.49,230.50v1.0M198.13,230.50v1.0M198.66,230.50v1.0M199.10,230.50v1.0M199.49,230.50v1.0M199.83,230.50v1.0M200.13,230.50v1.8M202.13,230.50v1.0M203.29,230.50v1.0M204.12,230.50v1.0M204.76,230.50v1.0M205.29,230.50v1.0M205.73,230.50v1.0M206.12,230.50v1.0M206.46,230.50v1.0M206.76,230.50v1.8M208.76,230.50v1.0M209.92,230.50v1.0M210.75,230.50v1.0M211.39,230.50v1.0M211.92,230.50v1.0M212.36,230.50v1.0M212.75,230.50v1.0M213.09,230.50v1.0M213.39,230.50v1.8M215.39,230.50v1.0M216.55,230.50v1.0M217.38,230.50v1.0M218.02,230.50v1.0M218.55,230.50v1.0M218.99,230.50v1.0M219.38,230.50v1.0M219.72,230.50v1.0M220.02,230.50v1.8M222.02,230.50v1.0M223.18,230.50v1.0M224.01,230.50v1.0M224.65,230.50v1.0M225.18,230.50v1.0M225.62,230.50v1.0M226.01,230.50v1.0M226.35,230.50v1.0M226.65,230.50v1.8M228.65,230.50v1.0M229.81,230.50v1.0M230.64,230.50v1.0M231.28,230.50v1.0M231.81,230.50v1.0M232.25,230.50v1.0M232.64,230.50v1.0M232.98,230.50v1.0M233.28,230.50v1.8M235.28,230.50v1.0M236.44,230.50v1.0M237.27,230.50v1.0M237.91,230.50v1.0M238.44,230.50v1.0M238.88,230.50v1.0M239.27,230.50v1.0M239.61,230.50v1.0M239.91,230.50v1.8M241.91,230.50v1.0M243.07,230.50v1.0M243.90,230.50v1.0M244.54,230.50v1.0M245.07,230.50v1.0M245.51,230.50v1.0M245.90,230.50v1.0M246.24,230.50v1.0M246.54,230.50v1.8M248.54,230.50v1.0M249.70,230.50v1.0M250.53,230.50v1.0M251.17,230.50v1.0M251.70,230.50v1.0M252.14,230.50v1.0M252.53,230.50v1.0M252.87,230.50v1.0M253.17,230.50v1.8M255.17,230.50v1.0M256.33,230.50v1.0M257.16,230.50v1.0M257.80,230.50v1.0M258.33,230.50v1.0M258.77,230.50v1.0M259.16,230.50v1.0M259.50,230.50v1.0M259.80,230.50v1.8" stroke="#111" stroke-width="0.45"/>
<text x="254.80" y="225.20" font-size="8.6" fill="#000" text-anchor="end">PhhR</text>
<path d="M272.50,230.50 L272.91,230.50 L273.33,230.50 L273.74,230.50 L274.15,230.50 L274.57,230.50 L274.98,230.50 L275.39,230.50 L275.81,230.50 L276.22,230.50 L276.63,230.50 L277.04,230.50 L277.46,230.50 L277.87,230.50 L278.28,230.50 L278.70,230.50 L279.11,230.50 L279.52,230.50 L279.94,230.50 L280.35,230.50 L280.76,230.50 L281.18,230.50 L281.59,230.50 L282.00,230.50 L282.42,230.50 L282.83,230.50 L283.24,230.50 L283.65,230.50 L284.07,230.50 L284.48,230.50 L284.89,230.50 L285.31,230.50 L285.72,230.50 L286.13,230.50 L286.55,230.50 L286.96,230.50 L287.37,230.50 L287.79,230.50 L288.20,230.50 L288.61,230.50 L289.02,230.50 L289.44,230.50 L289.85,230.49 L290.26,230.49 L290.68,230.49 L291.09,230.49 L291.50,230.49 L291.92,230.49 L292.33,230.49 L292.74,230.49 L293.16,230.49 L293.57,230.49 L293.98,230.48 L294.40,230.48 L294.81,230.48 L295.22,230.48 L295.63,230.47 L296.05,230.47 L296.46,230.47 L296.87,230.47 L297.29,230.46 L297.70,230.46 L298.11,230.45 L298.53,230.45 L298.94,230.44 L299.35,230.43 L299.77,230.43 L300.18,230.42 L300.59,230.41 L301.01,230.40 L301.42,230.39 L301.83,230.37 L302.25,230.36 L302.66,230.34 L303.07,230.32 L303.48,230.30 L303.90,230.28 L304.31,230.25 L304.72,230.23 L305.14,230.19 L305.55,230.16 L305.96,230.12 L306.38,230.08 L306.79,230.03 L307.20,229.98 L307.62,229.91 L308.03,229.85 L308.44,229.77 L308.86,229.69 L309.27,229.60 L309.68,229.50 L310.09,229.38 L310.51,229.25 L310.92,229.11 L311.33,228.95 L311.75,228.78 L312.16,228.58 L312.57,228.37 L312.99,228.13 L313.40,227.86 L313.81,227.56 L314.23,227.24 L314.64,226.87 L315.05,226.47 L315.46,226.02 L315.88,225.53 L316.29,224.98 L316.70,224.37 L317.12,223.71 L317.53,222.97 L317.94,222.17 L318.36,221.28 L318.77,220.30 L319.18,219.24 L319.60,218.07 L320.01,216.80 L320.42,215.41 L320.84,213.90 L321.25,212.27 L321.66,210.51 L322.07,208.61 L322.49,206.57 L322.90,204.38 L323.31,202.06 L323.73,199.59 L324.14,196.98 L324.55,194.23 L324.97,191.35 L325.38,188.35 L325.79,185.24 L326.21,182.03 L326.62,178.74 L327.03,175.39 L327.45,171.99 L327.86,168.56 L328.27,165.12 L328.36,164.40" fill="none" stroke="#000" stroke-width="1.35" stroke-linejoin="round"/>
<path d="M315.74,224.50V226.90M317.98,220.90V223.30M319.85,216.10V218.50M321.19,210.70V214.30M322.73,203.50V207.10M324.60,190.90V196.90M327.41,169.90V174.70" stroke="#555" stroke-width="0.8" fill="none"/>
<path d="M314.44,224.50h2.6M314.44,226.90h2.6M316.68,220.90h2.6M316.68,223.30h2.6M318.55,216.10h2.6M318.55,218.50h2.6M319.89,210.70h2.6M319.89,214.30h2.6M321.43,203.50h2.6M321.43,207.10h2.6M323.30,190.90h2.6M323.30,196.90h2.6M326.11,169.90h2.6M326.11,174.70h2.6" stroke="#111" stroke-width="0.7" fill="none"/>
<g fill="#000"><circle cx="306.35" cy="230.08" r="1.35"/><circle cx="310.36" cy="229.30" r="1.35"/><circle cx="313.03" cy="228.10" r="1.35"/><circle cx="315.74" cy="225.70" r="1.35"/><circle cx="317.98" cy="222.10" r="1.35"/><circle cx="319.85" cy="217.30" r="1.35"/><circle cx="321.19" cy="212.50" r="1.35"/><circle cx="322.73" cy="205.30" r="1.35"/><circle cx="324.60" cy="193.90" r="1.35"/><circle cx="327.41" cy="172.30" r="1.35"/></g>
<rect x="272.50" y="164.40" width="66.10" height="66.10" fill="none" stroke="#111" stroke-width="0.9"/>
<path d="M270.70,230.50H272.50M270.70,218.50H272.50M270.70,206.50H272.50M270.70,194.50H272.50M270.70,182.50H272.50M270.70,170.50H272.50" stroke="#111" stroke-width="0.7"/>
<path d="M272.50,230.50v1.8M274.49,230.50v1.0M275.65,230.50v1.0M276.48,230.50v1.0M277.12,230.50v1.0M277.64,230.50v1.0M278.09,230.50v1.0M278.47,230.50v1.0M278.81,230.50v1.0M279.11,230.50v1.8M281.10,230.50v1.0M282.26,230.50v1.0M283.09,230.50v1.0M283.73,230.50v1.0M284.25,230.50v1.0M284.70,230.50v1.0M285.08,230.50v1.0M285.42,230.50v1.0M285.72,230.50v1.8M287.71,230.50v1.0M288.87,230.50v1.0M289.70,230.50v1.0M290.34,230.50v1.0M290.86,230.50v1.0M291.31,230.50v1.0M291.69,230.50v1.0M292.03,230.50v1.0M292.33,230.50v1.8M294.32,230.50v1.0M295.48,230.50v1.0M296.31,230.50v1.0M296.95,230.50v1.0M297.47,230.50v1.0M297.92,230.50v1.0M298.30,230.50v1.0M298.64,230.50v1.0M298.94,230.50v1.8M300.93,230.50v1.0M302.09,230.50v1.0M302.92,230.50v1.0M303.56,230.50v1.0M304.08,230.50v1.0M304.53,230.50v1.0M304.91,230.50v1.0M305.25,230.50v1.0M305.55,230.50v1.8M307.54,230.50v1.0M308.70,230.50v1.0M309.53,230.50v1.0M310.17,230.50v1.0M310.69,230.50v1.0M311.14,230.50v1.0M311.52,230.50v1.0M311.86,230.50v1.0M312.16,230.50v1.8M314.15,230.50v1.0M315.31,230.50v1.0M316.14,230.50v1.0M316.78,230.50v1.0M317.30,230.50v1.0M317.75,230.50v1.0M318.13,230.50v1.0M318.47,230.50v1.0M318.77,230.50v1.8M320.76,230.50v1.0M321.92,230.50v1.0M322.75,230.50v1.0M323.39,230.50v1.0M323.91,230.50v1.0M324.36,230.50v1.0M324.74,230.50v1.0M325.08,230.50v1.0M325.38,230.50v1.8M327.37,230.50v1.0M328.53,230.50v1.0M329.36,230.50v1.0M330.00,230.50v1.0M330.52,230.50v1.0M330.97,230.50v1.0M331.35,230.50v1.0M331.69,230.50v1.0M331.99,230.50v1.8M333.98,230.50v1.0M335.14,230.50v1.0M335.97,230.50v1.0M336.61,230.50v1.0M337.13,230.50v1.0M337.58,230.50v1.0M337.96,230.50v1.0M338.30,230.50v1.0M338.60,230.50v1.8" stroke="#111" stroke-width="0.45"/>
<text x="276.00" y="176.20" font-size="8.6" fill="#000">GabR</text>
<line x1="67.40" y1="244.00" x2="67.40" y2="310.10" stroke="#222" stroke-width="0.7" stroke-dasharray="0.75,1.0"/>
<path d="M40.60,309.94 L41.02,309.92 L41.43,309.90 L41.84,309.89 L42.26,309.87 L42.68,309.85 L43.09,309.82 L43.51,309.80 L43.92,309.77 L44.34,309.74 L44.75,309.71 L45.16,309.67 L45.58,309.63 L46.00,309.59 L46.41,309.54 L46.83,309.49 L47.24,309.44 L47.66,309.38 L48.07,309.31 L48.48,309.24 L48.90,309.16 L49.31,309.07 L49.73,308.98 L50.15,308.88 L50.56,308.77 L50.98,308.65 L51.39,308.52 L51.81,308.37 L52.22,308.22 L52.64,308.05 L53.05,307.86 L53.47,307.66 L53.88,307.45 L54.30,307.21 L54.71,306.95 L55.12,306.67 L55.54,306.37 L55.95,306.04 L56.37,305.68 L56.79,305.29 L57.20,304.87 L57.62,304.42 L58.03,303.93 L58.45,303.40 L58.86,302.83 L59.28,302.22 L59.69,301.56 L60.11,300.85 L60.52,300.09 L60.94,299.28 L61.35,298.41 L61.77,297.49 L62.18,296.51 L62.59,295.47 L63.01,294.38 L63.43,293.23 L63.84,292.02 L64.25,290.75 L64.67,289.44 L65.09,288.08 L65.50,286.67 L65.92,285.22 L66.33,283.74 L66.75,282.23 L67.16,280.71 L67.58,279.17 L67.99,277.63 L68.41,276.10 L68.82,274.58 L69.23,273.08 L69.65,271.61 L70.06,270.18 L70.48,268.79 L70.90,267.45 L71.31,266.16 L71.73,264.93 L72.14,263.77 L72.56,262.66 L72.97,261.63 L73.39,260.65 L73.80,259.74 L74.22,258.89 L74.63,258.10 L75.05,257.38 L75.46,256.70 L75.88,256.09 L76.29,255.52 L76.71,255.00 L77.12,254.53 L77.53,254.10 L77.95,253.71 L78.37,253.35 L78.78,253.03 L79.20,252.73 L79.61,252.47 L80.03,252.23 L80.44,252.01 L80.86,251.82 L81.27,251.64 L81.69,251.48 L82.10,251.34 L82.52,251.21 L82.93,251.10 L83.34,251.00 L83.76,250.90 L84.18,250.82 L84.59,250.74 L85.00,250.68 L85.42,250.62 L85.84,250.56 L86.25,250.52 L86.67,250.47 L87.08,250.43 L87.50,250.40 L87.91,250.37 L88.33,250.34 L88.74,250.31 L89.16,250.29 L89.57,250.27 L89.99,250.25 L90.40,250.24 L90.81,250.22 L91.23,250.21 L91.65,250.20 L92.06,250.19 L92.48,250.18 L92.89,250.17 L93.31,250.16 L93.72,250.16 L94.14,250.15 L94.55,250.15 L94.97,250.14 L95.38,250.14 L95.80,250.13 L96.21,250.13 L96.62,250.13 L97.04,250.12 L97.46,250.12 L97.87,250.12 L98.28,250.12 L98.70,250.11 L99.12,250.11 L99.53,250.11 L99.95,250.11 L100.36,250.11 L100.78,250.11 L101.19,250.11 L101.61,250.11 L102.02,250.11 L102.44,250.11 L102.85,250.10 L103.27,250.10 L103.68,250.10 L104.09,250.10 L104.51,250.10 L104.93,250.10 L105.34,250.10 L105.75,250.10 L106.17,250.10 L106.59,250.10 L107.00,250.10" fill="none" stroke="#000" stroke-width="1.35" stroke-linejoin="round"/>
<path d="M57.36,303.50V305.90M60.30,299.30V301.70M62.74,293.30V296.90M64.77,287.30V290.90M66.51,281.30V284.90M68.13,275.30V278.90M69.80,268.70V273.50M71.67,262.70V267.50M73.82,257.30V262.10M76.31,253.10V257.90" stroke="#555" stroke-width="0.8" fill="none"/>
<path d="M56.06,303.50h2.6M56.06,305.90h2.6M59.00,299.30h2.6M59.00,301.70h2.6M61.44,293.30h2.6M61.44,296.90h2.6M63.47,287.30h2.6M63.47,290.90h2.6M65.21,281.30h2.6M65.21,284.90h2.6M66.83,275.30h2.6M66.83,278.90h2.6M68.50,268.70h2.6M68.50,273.50h2.6M70.37,262.70h2.6M70.37,267.50h2.6M72.52,257.30h2.6M72.52,262.10h2.6M75.01,253.10h2.6M75.01,257.90h2.6" stroke="#111" stroke-width="0.7" fill="none"/>
<g fill="#000"><circle cx="46.75" cy="309.50" r="1.35"/><circle cx="53.39" cy="307.70" r="1.35"/><circle cx="57.36" cy="304.70" r="1.35"/><circle cx="60.30" cy="300.50" r="1.35"/><circle cx="62.74" cy="295.10" r="1.35"/><circle cx="64.77" cy="289.10" r="1.35"/><circle cx="66.51" cy="283.10" r="1.35"/><circle cx="68.13" cy="277.10" r="1.35"/><circle cx="69.80" cy="271.10" r="1.35"/><circle cx="71.67" cy="265.10" r="1.35"/><circle cx="73.82" cy="259.70" r="1.35"/><circle cx="76.31" cy="255.50" r="1.35"/></g>
<rect x="40.60" y="244.00" width="66.40" height="66.10" fill="none" stroke="#111" stroke-width="0.9"/>
<path d="M38.80,310.10H40.60M38.80,298.10H40.60M38.80,286.10H40.60M38.80,274.10H40.60M38.80,262.10H40.60M38.80,250.10H40.60" stroke="#111" stroke-width="0.7"/>
<path d="M40.60,310.10v1.8M42.60,310.10v1.0M43.77,310.10v1.0M44.60,310.10v1.0M45.24,310.10v1.0M45.77,310.10v1.0M46.21,310.10v1.0M46.60,310.10v1.0M46.94,310.10v1.0M47.24,310.10v1.8M49.24,310.10v1.0M50.41,310.10v1.0M51.24,310.10v1.0M51.88,310.10v1.0M52.41,310.10v1.0M52.85,310.10v1.0M53.24,310.10v1.0M53.58,310.10v1.0M53.88,310.10v1.8M55.88,310.10v1.0M57.05,310.10v1.0M57.88,310.10v1.0M58.52,310.10v1.0M59.05,310.10v1.0M59.49,310.10v1.0M59.88,310.10v1.0M60.22,310.10v1.0M60.52,310.10v1.8M62.52,310.10v1.0M63.69,310.10v1.0M64.52,310.10v1.0M65.16,310.10v1.0M65.69,310.10v1.0M66.13,310.10v1.0M66.52,310.10v1.0M66.86,310.10v1.0M67.16,310.10v1.8M69.16,310.10v1.0M70.33,310.10v1.0M71.16,310.10v1.0M71.80,310.10v1.0M72.33,310.10v1.0M72.77,310.10v1.0M73.16,310.10v1.0M73.50,310.10v1.0M73.80,310.10v1.8M75.80,310.10v1.0M76.97,310.10v1.0M77.80,310.10v1.0M78.44,310.10v1.0M78.97,310.10v1.0M79.41,310.10v1.0M79.80,310.10v1.0M80.14,310.10v1.0M80.44,310.10v1.8M82.44,310.10v1.0M83.61,310.10v1.0M84.44,310.10v1.0M85.08,310.10v1.0M85.61,310.10v1.0M86.05,310.10v1.0M86.44,310.10v1.0M86.78,310.10v1.0M87.08,310.10v1.8M89.08,310.10v1.0M90.25,310.10v1.0M91.08,310.10v1.0M91.72,310.10v1.0M92.25,310.10v1.0M92.69,310.10v1.0M93.08,310.10v1.0M93.42,310.10v1.0M93.72,310.10v1.8M95.72,310.10v1.0M96.89,310.10v1.0M97.72,310.10v1.0M98.36,310.10v1.0M98.89,310.10v1.0M99.33,310.10v1.0M99.72,310.10v1.0M100.06,310.10v1.0M100.36,310.10v1.8M102.36,310.10v1.0M103.53,310.10v1.0M104.36,310.10v1.0M105.00,310.10v1.0M105.53,310.10v1.0M105.97,310.10v1.0M106.36,310.10v1.0M106.70,310.10v1.0M107.00,310.10v1.8" stroke="#111" stroke-width="0.45"/>
<text x="102.00" y="304.80" font-size="8.6" fill="#000" text-anchor="end">HpdA</text>
<text transform="translate(35.80,313.40) scale(1.04,0.88)" font-size="10" fill="#000" text-anchor="end">0</text>
<text transform="translate(35.80,301.40) scale(1.04,0.88)" font-size="10" fill="#000" text-anchor="end">20</text>
<text transform="translate(35.80,289.40) scale(1.04,0.88)" font-size="10" fill="#000" text-anchor="end">40</text>
<text transform="translate(35.80,277.40) scale(1.04,0.88)" font-size="10" fill="#000" text-anchor="end">60</text>
<text transform="translate(35.80,265.40) scale(1.04,0.88)" font-size="10" fill="#000" text-anchor="end">80</text>
<text transform="translate(35.80,253.40) scale(1.04,0.88)" font-size="10" fill="#000" text-anchor="end">100</text>
<text x="41.40" y="326.1" font-size="10" fill="#000" text-anchor="middle">10<tspan dy="-3.9" font-size="7">−6</tspan></text>
<text x="67.96" y="326.1" font-size="10" fill="#000" text-anchor="middle">10<tspan dy="-3.9" font-size="7">−2</tspan></text>
<text x="94.52" y="326.1" font-size="10" fill="#000" text-anchor="middle">10<tspan dy="-3.9" font-size="7">2</tspan></text>
<line x1="146.70" y1="244.00" x2="146.70" y2="310.10" stroke="#222" stroke-width="0.7" stroke-dasharray="0.75,1.0"/>
<path d="M116.50,310.10 L116.92,310.10 L117.33,310.10 L117.75,310.10 L118.16,310.10 L118.58,310.10 L118.99,310.10 L119.41,310.10 L119.83,310.10 L120.24,310.10 L120.66,310.10 L121.07,310.10 L121.49,310.10 L121.90,310.10 L122.32,310.10 L122.73,310.10 L123.15,310.10 L123.57,310.10 L123.98,310.10 L124.40,310.10 L124.81,310.10 L125.23,310.10 L125.64,310.10 L126.06,310.10 L126.47,310.10 L126.89,310.10 L127.31,310.10 L127.72,310.09 L128.14,310.09 L128.55,310.09 L128.97,310.09 L129.38,310.08 L129.80,310.08 L130.22,310.08 L130.63,310.07 L131.05,310.06 L131.46,310.05 L131.88,310.04 L132.29,310.02 L132.71,310.01 L133.12,309.98 L133.54,309.95 L133.96,309.91 L134.37,309.87 L134.79,309.81 L135.20,309.74 L135.62,309.65 L136.03,309.54 L136.45,309.41 L136.87,309.24 L137.28,309.04 L137.70,308.80 L138.11,308.50 L138.53,308.13 L138.94,307.70 L139.36,307.17 L139.78,306.55 L140.19,305.82 L140.61,304.97 L141.02,303.97 L141.44,302.83 L141.85,301.53 L142.27,300.07 L142.68,298.44 L143.10,296.64 L143.52,294.70 L143.93,292.61 L144.35,290.40 L144.76,288.09 L145.18,285.71 L145.59,283.29 L146.01,280.86 L146.43,278.45 L146.84,276.09 L147.26,273.81 L147.67,271.61 L148.09,269.54 L148.50,267.58 L148.92,265.77 L149.33,264.08 L149.75,262.54 L150.17,261.14 L150.58,259.86 L151.00,258.72 L151.41,257.69 L151.83,256.77 L152.24,255.95 L152.66,255.22 L153.07,254.58 L153.49,254.02 L153.91,253.52 L154.32,253.08 L154.74,252.70 L155.15,252.36 L155.57,252.07 L155.98,251.81 L156.40,251.59 L156.82,251.39 L157.23,251.22 L157.65,251.07 L158.06,250.95 L158.48,250.83 L158.89,250.74 L159.31,250.65 L159.72,250.58 L160.14,250.52 L160.56,250.46 L160.97,250.41 L161.39,250.37 L161.80,250.34 L162.22,250.30 L162.63,250.28 L163.05,250.25 L163.47,250.23 L163.88,250.22 L164.30,250.20 L164.71,250.19 L165.13,250.17 L165.54,250.16 L165.96,250.16 L166.38,250.15 L166.79,250.14 L167.21,250.14 L167.62,250.13 L168.04,250.13 L168.45,250.12 L168.87,250.12 L169.28,250.12 L169.70,250.12 L170.12,250.11 L170.53,250.11 L170.95,250.11 L171.36,250.11 L171.78,250.11 L172.19,250.11 L172.61,250.11 L173.03,250.10 L173.44,250.10 L173.86,250.10 L174.27,250.10 L174.69,250.10 L175.10,250.10 L175.52,250.10 L175.93,250.10 L176.35,250.10 L176.77,250.10 L177.18,250.10 L177.60,250.10 L178.01,250.10 L178.43,250.10 L178.84,250.10 L179.26,250.10 L179.68,250.10 L180.09,250.10 L180.51,250.10 L180.92,250.10 L181.34,250.10 L181.75,250.10 L182.17,250.10 L182.58,250.10 L183.00,250.10" fill="none" stroke="#000" stroke-width="1.35" stroke-linejoin="round"/>
<path d="M140.72,303.50V305.90M142.15,299.30V301.70M143.43,293.30V296.90M144.58,287.30V290.90M145.63,281.30V284.90M146.66,275.30V278.90M147.77,268.70V273.50M149.08,262.70V267.50M144.50,277.10V301.10M146.00,265.10V289.10M152.70,262.10V280.10M156.70,244.50V254.30" stroke="#555" stroke-width="0.8" fill="none"/>
<path d="M139.42,303.50h2.6M139.42,305.90h2.6M140.85,299.30h2.6M140.85,301.70h2.6M142.13,293.30h2.6M142.13,296.90h2.6M143.28,287.30h2.6M143.28,290.90h2.6M144.33,281.30h2.6M144.33,284.90h2.6M145.36,275.30h2.6M145.36,278.90h2.6M146.47,268.70h2.6M146.47,273.50h2.6M147.78,262.70h2.6M147.78,267.50h2.6M143.20,277.10h2.6M143.20,301.10h2.6M144.70,265.10h2.6M144.70,289.10h2.6M151.40,262.10h2.6M151.40,280.10h2.6M155.40,244.50h2.6M155.40,254.30h2.6" stroke="#111" stroke-width="0.7" fill="none"/>
<g fill="#000"><circle cx="136.18" cy="309.50" r="1.35"/><circle cx="138.94" cy="307.70" r="1.35"/><circle cx="140.72" cy="304.70" r="1.35"/><circle cx="142.15" cy="300.50" r="1.35"/><circle cx="143.43" cy="295.10" r="1.35"/><circle cx="144.58" cy="289.10" r="1.35"/><circle cx="145.63" cy="283.10" r="1.35"/><circle cx="146.66" cy="277.10" r="1.35"/><circle cx="147.77" cy="271.10" r="1.35"/><circle cx="149.08" cy="265.10" r="1.35"/><circle cx="144.50" cy="289.10" r="1.35"/><circle cx="146.00" cy="277.10" r="1.35"/><circle cx="152.70" cy="271.10" r="1.35"/><circle cx="156.70" cy="247.10" r="1.35"/></g>
<rect x="116.50" y="244.00" width="66.50" height="66.10" fill="none" stroke="#111" stroke-width="0.9"/>
<path d="M114.70,310.10H116.50M114.70,298.10H116.50M114.70,286.10H116.50M114.70,274.10H116.50M114.70,262.10H116.50M114.70,250.10H116.50" stroke="#111" stroke-width="0.7"/>
<path d="M116.50,310.10v1.8M118.50,310.10v1.0M119.67,310.10v1.0M120.50,310.10v1.0M121.15,310.10v1.0M121.67,310.10v1.0M122.12,310.10v1.0M122.51,310.10v1.0M122.85,310.10v1.0M123.15,310.10v1.8M125.15,310.10v1.0M126.32,310.10v1.0M127.15,310.10v1.0M127.80,310.10v1.0M128.32,310.10v1.0M128.77,310.10v1.0M129.16,310.10v1.0M129.50,310.10v1.0M129.80,310.10v1.8M131.80,310.10v1.0M132.97,310.10v1.0M133.80,310.10v1.0M134.45,310.10v1.0M134.97,310.10v1.0M135.42,310.10v1.0M135.81,310.10v1.0M136.15,310.10v1.0M136.45,310.10v1.8M138.45,310.10v1.0M139.62,310.10v1.0M140.45,310.10v1.0M141.10,310.10v1.0M141.62,310.10v1.0M142.07,310.10v1.0M142.46,310.10v1.0M142.80,310.10v1.0M143.10,310.10v1.8M145.10,310.10v1.0M146.27,310.10v1.0M147.10,310.10v1.0M147.75,310.10v1.0M148.27,310.10v1.0M148.72,310.10v1.0M149.11,310.10v1.0M149.45,310.10v1.0M149.75,310.10v1.8M151.75,310.10v1.0M152.92,310.10v1.0M153.75,310.10v1.0M154.40,310.10v1.0M154.92,310.10v1.0M155.37,310.10v1.0M155.76,310.10v1.0M156.10,310.10v1.0M156.40,310.10v1.8M158.40,310.10v1.0M159.57,310.10v1.0M160.40,310.10v1.0M161.05,310.10v1.0M161.57,310.10v1.0M162.02,310.10v1.0M162.41,310.10v1.0M162.75,310.10v1.0M163.05,310.10v1.8M165.05,310.10v1.0M166.22,310.10v1.0M167.05,310.10v1.0M167.70,310.10v1.0M168.22,310.10v1.0M168.67,310.10v1.0M169.06,310.10v1.0M169.40,310.10v1.0M169.70,310.10v1.8M171.70,310.10v1.0M172.87,310.10v1.0M173.70,310.10v1.0M174.35,310.10v1.0M174.87,310.10v1.0M175.32,310.10v1.0M175.71,310.10v1.0M176.05,310.10v1.0M176.35,310.10v1.8M178.35,310.10v1.0M179.52,310.10v1.0M180.35,310.10v1.0M181.00,310.10v1.0M181.52,310.10v1.0M181.97,310.10v1.0M182.36,310.10v1.0M182.70,310.10v1.0M183.00,310.10v1.8" stroke="#111" stroke-width="0.45"/>
<text x="178.00" y="304.80" font-size="8.6" fill="#000" text-anchor="end">BadR</text>
<text x="117.30" y="326.1" font-size="10" fill="#000" text-anchor="middle">10<tspan dy="-3.9" font-size="7">−6</tspan></text>
<text x="143.90" y="326.1" font-size="10" fill="#000" text-anchor="middle">10<tspan dy="-3.9" font-size="7">−2</tspan></text>
<text x="170.50" y="326.1" font-size="10" fill="#000" text-anchor="middle">10<tspan dy="-3.9" font-size="7">2</tspan></text>
<line x1="219.40" y1="244.00" x2="219.40" y2="310.10" stroke="#222" stroke-width="0.7" stroke-dasharray="0.75,1.0"/>
<path d="M193.50,310.08 L193.91,310.08 L194.33,310.08 L194.74,310.08 L195.16,310.07 L195.57,310.07 L195.99,310.07 L196.40,310.06 L196.81,310.06 L197.23,310.05 L197.64,310.04 L198.06,310.03 L198.47,310.03 L198.89,310.01 L199.30,310.00 L199.72,309.99 L200.13,309.97 L200.54,309.95 L200.96,309.93 L201.37,309.91 L201.79,309.88 L202.20,309.85 L202.62,309.82 L203.03,309.78 L203.44,309.73 L203.86,309.68 L204.27,309.62 L204.69,309.56 L205.10,309.48 L205.52,309.40 L205.93,309.30 L206.35,309.18 L206.76,309.06 L207.17,308.91 L207.59,308.74 L208.00,308.56 L208.42,308.34 L208.83,308.10 L209.25,307.83 L209.66,307.52 L210.07,307.16 L210.49,306.77 L210.90,306.32 L211.32,305.81 L211.73,305.24 L212.15,304.61 L212.56,303.90 L212.98,303.10 L213.39,302.22 L213.80,301.25 L214.22,300.17 L214.63,298.99 L215.05,297.69 L215.46,296.29 L215.88,294.78 L216.29,293.15 L216.70,291.42 L217.12,289.59 L217.53,287.68 L217.95,285.69 L218.36,283.65 L218.78,281.56 L219.19,279.46 L219.61,277.36 L220.02,275.27 L220.43,273.23 L220.85,271.26 L221.26,269.36 L221.68,267.54 L222.09,265.84 L222.51,264.24 L222.92,262.75 L223.34,261.38 L223.75,260.13 L224.16,258.99 L224.58,257.95 L224.99,257.03 L225.41,256.19 L225.82,255.45 L226.24,254.79 L226.65,254.20 L227.06,253.68 L227.48,253.23 L227.89,252.83 L228.31,252.48 L228.72,252.17 L229.14,251.90 L229.55,251.66 L229.97,251.46 L230.38,251.28 L230.79,251.12 L231.21,250.99 L231.62,250.87 L232.04,250.77 L232.45,250.68 L232.87,250.60 L233.28,250.53 L233.69,250.48 L234.11,250.43 L234.52,250.38 L234.94,250.34 L235.35,250.31 L235.77,250.28 L236.18,250.26 L236.59,250.24 L237.01,250.22 L237.42,250.20 L237.84,250.19 L238.25,250.18 L238.67,250.17 L239.08,250.16 L239.50,250.15 L239.91,250.14 L240.32,250.14 L240.74,250.13 L241.15,250.13 L241.57,250.12 L241.98,250.12 L242.40,250.12 L242.81,250.12 L243.22,250.11 L243.64,250.11 L244.05,250.11 L244.47,250.11 L244.88,250.11 L245.30,250.11 L245.71,250.11 L246.13,250.10 L246.54,250.10 L246.95,250.10 L247.37,250.10 L247.78,250.10 L248.20,250.10 L248.61,250.10 L249.03,250.10 L249.44,250.10 L249.85,250.10 L250.27,250.10 L250.68,250.10 L251.10,250.10 L251.51,250.10 L251.93,250.10 L252.34,250.10 L252.76,250.10 L253.17,250.10 L253.58,250.10 L254.00,250.10 L254.41,250.10 L254.83,250.10 L255.24,250.10 L255.66,250.10 L256.07,250.10 L256.49,250.10 L256.90,250.10 L257.31,250.10 L257.73,250.10 L258.14,250.10 L258.56,250.10 L258.97,250.10 L259.39,250.10 L259.80,250.10" fill="none" stroke="#000" stroke-width="1.35" stroke-linejoin="round"/>
<path d="M212.09,303.50V305.90M214.10,299.30V301.70M215.79,293.30V296.90M217.23,287.30V290.90M218.47,281.30V284.90M219.66,275.30V278.90M220.88,268.70V273.50M222.28,262.70V267.50M223.90,257.30V262.10M225.79,253.10V257.90" stroke="#555" stroke-width="0.8" fill="none"/>
<path d="M210.79,303.50h2.6M210.79,305.90h2.6M212.80,299.30h2.6M212.80,301.70h2.6M214.49,293.30h2.6M214.49,296.90h2.6M215.93,287.30h2.6M215.93,290.90h2.6M217.17,281.30h2.6M217.17,284.90h2.6M218.36,275.30h2.6M218.36,278.90h2.6M219.58,268.70h2.6M219.58,273.50h2.6M220.98,262.70h2.6M220.98,267.50h2.6M222.60,257.30h2.6M222.60,262.10h2.6M224.49,253.10h2.6M224.49,257.90h2.6" stroke="#111" stroke-width="0.7" fill="none"/>
<g fill="#000"><circle cx="205.01" cy="309.50" r="1.35"/><circle cx="209.42" cy="307.70" r="1.35"/><circle cx="212.09" cy="304.70" r="1.35"/><circle cx="214.10" cy="300.50" r="1.35"/><circle cx="215.79" cy="295.10" r="1.35"/><circle cx="217.23" cy="289.10" r="1.35"/><circle cx="218.47" cy="283.10" r="1.35"/><circle cx="219.66" cy="277.10" r="1.35"/><circle cx="220.88" cy="271.10" r="1.35"/><circle cx="222.28" cy="265.10" r="1.35"/><circle cx="223.90" cy="259.70" r="1.35"/><circle cx="225.79" cy="255.50" r="1.35"/></g>
<rect x="193.50" y="244.00" width="66.30" height="66.10" fill="none" stroke="#111" stroke-width="0.9"/>
<path d="M191.70,310.10H193.50M191.70,298.10H193.50M191.70,286.10H193.50M191.70,274.10H193.50M191.70,262.10H193.50M191.70,250.10H193.50" stroke="#111" stroke-width="0.7"/>
<path d="M193.50,310.10v1.8M195.50,310.10v1.0M196.66,310.10v1.0M197.49,310.10v1.0M198.13,310.10v1.0M198.66,310.10v1.0M199.10,310.10v1.0M199.49,310.10v1.0M199.83,310.10v1.0M200.13,310.10v1.8M202.13,310.10v1.0M203.29,310.10v1.0M204.12,310.10v1.0M204.76,310.10v1.0M205.29,310.10v1.0M205.73,310.10v1.0M206.12,310.10v1.0M206.46,310.10v1.0M206.76,310.10v1.8M208.76,310.10v1.0M209.92,310.10v1.0M210.75,310.10v1.0M211.39,310.10v1.0M211.92,310.10v1.0M212.36,310.10v1.0M212.75,310.10v1.0M213.09,310.10v1.0M213.39,310.10v1.8M215.39,310.10v1.0M216.55,310.10v1.0M217.38,310.10v1.0M218.02,310.10v1.0M218.55,310.10v1.0M218.99,310.10v1.0M219.38,310.10v1.0M219.72,310.10v1.0M220.02,310.10v1.8M222.02,310.10v1.0M223.18,310.10v1.0M224.01,310.10v1.0M224.65,310.10v1.0M225.18,310.10v1.0M225.62,310.10v1.0M226.01,310.10v1.0M226.35,310.10v1.0M226.65,310.10v1.8M228.65,310.10v1.0M229.81,310.10v1.0M230.64,310.10v1.0M231.28,310.10v1.0M231.81,310.10v1.0M232.25,310.10v1.0M232.64,310.10v1.0M232.98,310.10v1.0M233.28,310.10v1.8M235.28,310.10v1.0M236.44,310.10v1.0M237.27,310.10v1.0M237.91,310.10v1.0M238.44,310.10v1.0M238.88,310.10v1.0M239.27,310.10v1.0M239.61,310.10v1.0M239.91,310.10v1.8M241.91,310.10v1.0M243.07,310.10v1.0M243.90,310.10v1.0M244.54,310.10v1.0M245.07,310.10v1.0M245.51,310.10v1.0M245.90,310.10v1.0M246.24,310.10v1.0M246.54,310.10v1.8M248.54,310.10v1.0M249.70,310.10v1.0M250.53,310.10v1.0M251.17,310.10v1.0M251.70,310.10v1.0M252.14,310.10v1.0M252.53,310.10v1.0M252.87,310.10v1.0M253.17,310.10v1.8M255.17,310.10v1.0M256.33,310.10v1.0M257.16,310.10v1.0M257.80,310.10v1.0M258.33,310.10v1.0M258.77,310.10v1.0M259.16,310.10v1.0M259.50,310.10v1.0M259.80,310.10v1.8" stroke="#111" stroke-width="0.45"/>
<text x="254.80" y="304.80" font-size="8.6" fill="#000" text-anchor="end">PcaQ</text>
<text x="194.30" y="326.1" font-size="10" fill="#000" text-anchor="middle">10<tspan dy="-3.9" font-size="7">−6</tspan></text>
<text x="220.82" y="326.1" font-size="10" fill="#000" text-anchor="middle">10<tspan dy="-3.9" font-size="7">−2</tspan></text>
<text x="247.34" y="326.1" font-size="10" fill="#000" text-anchor="middle">10<tspan dy="-3.9" font-size="7">2</tspan></text>
<line x1="293.20" y1="244.00" x2="293.20" y2="310.10" stroke="#222" stroke-width="0.7" stroke-dasharray="0.75,1.0"/>
<path d="M272.50,310.10 L272.91,310.10 L273.33,310.10 L273.74,310.10 L274.15,310.10 L274.57,310.10 L274.98,310.10 L275.39,310.10 L275.81,310.10 L276.22,310.10 L276.63,310.10 L277.04,310.10 L277.46,310.10 L277.87,310.10 L278.28,310.09 L278.70,310.09 L279.11,310.09 L279.52,310.08 L279.94,310.08 L280.35,310.07 L280.76,310.06 L281.18,310.05 L281.59,310.04 L282.00,310.01 L282.42,309.99 L282.83,309.95 L283.24,309.90 L283.65,309.83 L284.07,309.75 L284.48,309.64 L284.89,309.49 L285.31,309.30 L285.72,309.06 L286.13,308.74 L286.55,308.34 L286.96,307.83 L287.37,307.18 L287.79,306.39 L288.20,305.41 L288.61,304.22 L289.02,302.79 L289.44,301.12 L289.85,299.18 L290.26,296.98 L290.68,294.53 L291.09,291.86 L291.50,289.01 L291.92,286.03 L292.33,282.98 L292.74,279.91 L293.16,276.90 L293.57,273.99 L293.98,271.23 L294.40,268.66 L294.81,266.29 L295.22,264.14 L295.63,262.21 L296.05,260.50 L296.46,258.99 L296.87,257.67 L297.29,256.53 L297.70,255.55 L298.11,254.70 L298.53,253.98 L298.94,253.37 L299.35,252.85 L299.77,252.41 L300.18,252.04 L300.59,251.72 L301.01,251.46 L301.42,251.24 L301.83,251.05 L302.25,250.90 L302.66,250.77 L303.07,250.66 L303.48,250.57 L303.90,250.49 L304.31,250.42 L304.72,250.37 L305.14,250.33 L305.55,250.29 L305.96,250.26 L306.38,250.23 L306.79,250.21 L307.20,250.19 L307.62,250.18 L308.03,250.16 L308.44,250.15 L308.86,250.14 L309.27,250.14 L309.68,250.13 L310.09,250.13 L310.51,250.12 L310.92,250.12 L311.33,250.12 L311.75,250.11 L312.16,250.11 L312.57,250.11 L312.99,250.11 L313.40,250.11 L313.81,250.11 L314.23,250.10 L314.64,250.10 L315.05,250.10 L315.46,250.10 L315.88,250.10 L316.29,250.10 L316.70,250.10 L317.12,250.10 L317.53,250.10 L317.94,250.10 L318.36,250.10 L318.77,250.10 L319.18,250.10 L319.60,250.10 L320.01,250.10 L320.42,250.10 L320.84,250.10 L321.25,250.10 L321.66,250.10 L322.07,250.10 L322.49,250.10 L322.90,250.10 L323.31,250.10 L323.73,250.10 L324.14,250.10 L324.55,250.10 L324.97,250.10 L325.38,250.10 L325.79,250.10 L326.21,250.10 L326.62,250.10 L327.03,250.10 L327.45,250.10 L327.86,250.10 L328.27,250.10 L328.69,250.10 L329.10,250.10 L329.51,250.10 L329.92,250.10 L330.34,250.10 L330.75,250.10 L331.16,250.10 L331.58,250.10 L331.99,250.10 L332.40,250.10 L332.82,250.10 L333.23,250.10 L333.64,250.10 L334.06,250.10 L334.47,250.10 L334.88,250.10 L335.30,250.10 L335.71,250.10 L336.12,250.10 L336.53,250.10 L336.95,250.10 L337.36,250.10 L337.77,250.10 L338.19,250.10 L338.60,250.10" fill="none" stroke="#000" stroke-width="1.35" stroke-linejoin="round"/>
<path d="M288.45,303.50V305.90M289.58,299.30V301.70M290.59,293.30V296.90M291.49,287.30V290.90M292.31,281.30V284.90M293.13,275.30V278.90M294.00,268.70V273.50M295.03,262.70V267.50M296.26,257.30V262.10M302.00,251.30V258.50M303.80,247.70V257.30M305.80,246.50V253.70" stroke="#555" stroke-width="0.8" fill="none"/>
<path d="M287.15,303.50h2.6M287.15,305.90h2.6M288.28,299.30h2.6M288.28,301.70h2.6M289.29,293.30h2.6M289.29,296.90h2.6M290.19,287.30h2.6M290.19,290.90h2.6M291.01,281.30h2.6M291.01,284.90h2.6M291.83,275.30h2.6M291.83,278.90h2.6M292.70,268.70h2.6M292.70,273.50h2.6M293.73,262.70h2.6M293.73,267.50h2.6M294.96,257.30h2.6M294.96,262.10h2.6M300.70,251.30h2.6M300.70,258.50h2.6M302.50,247.70h2.6M302.50,257.30h2.6M304.50,246.50h2.6M304.50,253.70h2.6" stroke="#111" stroke-width="0.7" fill="none"/>
<g fill="#000"><circle cx="284.87" cy="309.50" r="1.35"/><circle cx="287.05" cy="307.70" r="1.35"/><circle cx="288.45" cy="304.70" r="1.35"/><circle cx="289.58" cy="300.50" r="1.35"/><circle cx="290.59" cy="295.10" r="1.35"/><circle cx="291.49" cy="289.10" r="1.35"/><circle cx="292.31" cy="283.10" r="1.35"/><circle cx="293.13" cy="277.10" r="1.35"/><circle cx="294.00" cy="271.10" r="1.35"/><circle cx="295.03" cy="265.10" r="1.35"/><circle cx="296.26" cy="259.70" r="1.35"/><circle cx="302.00" cy="254.90" r="1.35"/><circle cx="303.80" cy="252.50" r="1.35"/><circle cx="305.80" cy="250.10" r="1.35"/></g>
<rect x="272.50" y="244.00" width="66.10" height="66.10" fill="none" stroke="#111" stroke-width="0.9"/>
<path d="M270.70,310.10H272.50M270.70,298.10H272.50M270.70,286.10H272.50M270.70,274.10H272.50M270.70,262.10H272.50M270.70,250.10H272.50" stroke="#111" stroke-width="0.7"/>
<path d="M272.50,310.10v1.8M274.49,310.10v1.0M275.65,310.10v1.0M276.48,310.10v1.0M277.12,310.10v1.0M277.64,310.10v1.0M278.09,310.10v1.0M278.47,310.10v1.0M278.81,310.10v1.0M279.11,310.10v1.8M281.10,310.10v1.0M282.26,310.10v1.0M283.09,310.10v1.0M283.73,310.10v1.0M284.25,310.10v1.0M284.70,310.10v1.0M285.08,310.10v1.0M285.42,310.10v1.0M285.72,310.10v1.8M287.71,310.10v1.0M288.87,310.10v1.0M289.70,310.10v1.0M290.34,310.10v1.0M290.86,310.10v1.0M291.31,310.10v1.0M291.69,310.10v1.0M292.03,310.10v1.0M292.33,310.10v1.8M294.32,310.10v1.0M295.48,310.10v1.0M296.31,310.10v1.0M296.95,310.10v1.0M297.47,310.10v1.0M297.92,310.10v1.0M298.30,310.10v1.0M298.64,310.10v1.0M298.94,310.10v1.8M300.93,310.10v1.0M302.09,310.10v1.0M302.92,310.10v1.0M303.56,310.10v1.0M304.08,310.10v1.0M304.53,310.10v1.0M304.91,310.10v1.0M305.25,310.10v1.0M305.55,310.10v1.8M307.54,310.10v1.0M308.70,310.10v1.0M309.53,310.10v1.0M310.17,310.10v1.0M310.69,310.10v1.0M311.14,310.10v1.0M311.52,310.10v1.0M311.86,310.10v1.0M312.16,310.10v1.8M314.15,310.10v1.0M315.31,310.10v1.0M316.14,310.10v1.0M316.78,310.10v1.0M317.30,310.10v1.0M317.75,310.10v1.0M318.13,310.10v1.0M318.47,310.10v1.0M318.77,310.10v1.8M320.76,310.10v1.0M321.92,310.10v1.0M322.75,310.10v1.0M323.39,310.10v1.0M323.91,310.10v1.0M324.36,310.10v1.0M324.74,310.10v1.0M325.08,310.10v1.0M325.38,310.10v1.8M327.37,310.10v1.0M328.53,310.10v1.0M329.36,310.10v1.0M330.00,310.10v1.0M330.52,310.10v1.0M330.97,310.10v1.0M331.35,310.10v1.0M331.69,310.10v1.0M331.99,310.10v1.8M333.98,310.10v1.0M335.14,310.10v1.0M335.97,310.10v1.0M336.61,310.10v1.0M337.13,310.10v1.0M337.58,310.10v1.0M337.96,310.10v1.0M338.30,310.10v1.0M338.60,310.10v1.8" stroke="#111" stroke-width="0.45"/>
<text x="333.60" y="304.80" font-size="8.6" fill="#000" text-anchor="end">AcoR</text>
<text x="273.30" y="326.1" font-size="10" fill="#000" text-anchor="middle">10<tspan dy="-3.9" font-size="7">−6</tspan></text>
<text x="299.74" y="326.1" font-size="10" fill="#000" text-anchor="middle">10<tspan dy="-3.9" font-size="7">−2</tspan></text>
<text x="326.18" y="326.1" font-size="10" fill="#000" text-anchor="middle">10<tspan dy="-3.9" font-size="7">2</tspan></text>
<text x="188.2" y="340.1" font-size="10.1" fill="#000" text-anchor="middle">Inducer concentration (mM)</text>
<text transform="translate(8.7,160.6) rotate(-90)" font-size="10" fill="#000" text-anchor="middle">Relative normalised fluorescence (in %)</text>
<text x="-0.3" y="10.7" font-size="14" font-weight="bold" fill="#000">a</text>
<text x="357.6" y="10.4" font-size="13.4" font-weight="bold" fill="#000">b</text>
<rect width="1" height="1" fill="url(#tg)" transform="matrix(11.040,0,9.200,-5.250,365.700,72.500)"/>
<rect width="1" height="1" fill="url(#tg)" transform="matrix(11.040,0,9.200,-5.250,376.740,72.500)"/>
<rect width="1" height="1" fill="url(#tg)" transform="matrix(11.040,0,9.200,-5.250,387.780,72.500)"/>
<rect width="1" height="1" fill="url(#tg)" transform="matrix(11.040,0,9.200,-5.250,398.820,72.500)"/>
<rect width="1" height="1" fill="url(#tg)" transform="matrix(11.040,0,9.200,-5.250,409.860,72.500)"/>
<rect width="1" height="1" fill="url(#tg)" transform="matrix(11.040,0,9.200,-5.250,374.900,67.250)"/>
<rect width="1" height="1" fill="url(#tg)" transform="matrix(11.040,0,9.200,-5.250,385.940,67.250)"/>
<rect width="1" height="1" fill="url(#tg)" transform="matrix(11.040,0,9.200,-5.250,396.980,67.250)"/>
<rect width="1" height="1" fill="url(#tg)" transform="matrix(11.040,0,9.200,-5.250,408.020,67.250)"/>
<rect width="1" height="1" fill="url(#tg)" transform="matrix(11.040,0,9.200,-5.250,419.060,67.250)"/>
<path d="M365.70,72.50h55.20M374.90,67.25h55.20M384.10,62.00h55.20" fill="none" stroke="#a8a8a8" stroke-width="0.45"/>
<path d="M365.70,72.50l18.40,-10.50M376.74,72.50l18.40,-10.50M387.78,72.50l18.40,-10.50M398.82,72.50l18.40,-10.50M409.86,72.50l18.40,-10.50M420.90,72.50l18.40,-10.50" fill="none" stroke="#7d7d7d" stroke-width="0.45"/>
<path d="M365.70,72.50v1.2M376.74,72.50v1.2M387.78,72.50v1.2M398.82,72.50v1.2M409.86,72.50v1.2M420.90,72.50v1.2" stroke="#888" stroke-width="0.5"/>
<line x1="384.10" y1="62.20" x2="439.30" y2="62.20" stroke="#4ea6dc" stroke-width="0.9" stroke-opacity="0.65"/>
<line x1="374.90" y1="67.45" x2="430.10" y2="67.45" stroke="#d8923e" stroke-width="0.9" stroke-opacity="0.85"/>
<path d="M411.2,62.0L411.2,62.0L411.8,62.0L412.3,62.0L412.9,62.0L413.4,61.9L414.0,61.9L414.6,61.8L415.1,61.7L415.7,61.6L416.3,61.3L416.8,61.0L417.4,60.6L417.9,60.0L418.5,59.3L419.1,58.2L419.6,56.9L420.2,55.2L420.8,52.9L421.3,49.8L421.9,45.6L422.4,40.1L423.0,33.4L423.6,25.9L424.1,18.5L424.7,12.3L425.2,8.7L425.8,8.2L426.4,11.2L426.9,16.8L427.5,24.0L428.1,31.6L428.6,38.5L429.2,44.3L429.7,48.9L430.3,52.2L430.9,54.7L431.4,56.6L432.0,58.0L432.6,59.0L433.1,59.8L433.7,60.5L434.2,60.9L434.8,61.3L435.4,61.5L435.9,61.7L436.5,61.8L437.1,61.9L437.6,61.9L438.2,62.0L438.7,62.0L439.3,62.0L439.3,62.0Z" fill="#b0e1fa" style="mix-blend-mode:multiply"/>
<path d="M415.1,61.7L415.7,61.6L416.3,61.3L416.8,61.0L417.4,60.6L417.9,60.0L418.5,59.3L419.1,58.2L419.6,56.9L420.2,55.2L420.8,52.9L421.3,49.8L421.9,45.6L422.4,40.1L423.0,33.4L423.6,25.9L424.1,18.5L424.7,12.3L425.2,8.7L425.8,8.2L426.4,11.2L426.9,16.8L427.5,24.0L428.1,31.6L428.6,38.5L429.2,44.3L429.7,48.9L430.3,52.2L430.9,54.7L431.4,56.6L432.0,58.0L432.6,59.0L433.1,59.8L433.7,60.5L434.2,60.9L434.8,61.3L435.4,61.5L435.9,61.7" fill="none" stroke="#4ea6dc" stroke-width="0.65" stroke-linejoin="round"/>
<path d="M398.9,67.2L398.9,67.2L399.5,67.2L400.0,67.2L400.5,67.2L401.0,67.2L401.5,67.2L402.1,67.1L402.6,67.0L403.1,66.9L403.6,66.7L404.1,66.4L404.6,66.0L405.2,65.5L405.7,64.8L406.2,63.9L406.7,62.8L407.2,61.2L407.8,59.0L408.3,56.1L408.8,52.2L409.3,47.2L409.8,41.4L410.3,35.2L410.9,29.6L411.4,25.7L411.9,24.2L412.4,25.7L412.9,29.6L413.5,35.2L414.0,41.4L414.5,47.2L415.0,52.2L415.5,56.1L416.0,59.0L416.6,61.2L417.1,62.8L417.6,63.9L418.1,64.8L418.6,65.5L419.2,66.0L419.7,66.4L420.2,66.7L420.7,66.9L421.2,67.0L421.7,67.1L422.3,67.2L422.8,67.2L423.3,67.2L423.8,67.2L424.3,67.2L424.9,67.2L424.9,67.2Z" fill="#fddcb0" style="mix-blend-mode:multiply"/>
<path d="M403.1,66.9L403.6,66.7L404.1,66.4L404.6,66.0L405.2,65.5L405.7,64.8L406.2,63.9L406.7,62.8L407.2,61.2L407.8,59.0L408.3,56.1L408.8,52.2L409.3,47.2L409.8,41.4L410.3,35.2L410.9,29.6L411.4,25.7L411.9,24.2L412.4,25.7L412.9,29.6L413.5,35.2L414.0,41.4L414.5,47.2L415.0,52.2L415.5,56.1L416.0,59.0L416.6,61.2L417.1,62.8L417.6,63.9L418.1,64.8L418.6,65.5L419.2,66.0L419.7,66.4L420.2,66.7L420.7,66.9" fill="none" stroke="#d8923e" stroke-width="0.65" stroke-linejoin="round"/>
<path d="M374.1,72.5L374.1,72.5L374.8,72.5L375.5,72.5L376.2,72.5L376.9,72.5L377.6,72.4L378.3,72.4L379.0,72.4L379.7,72.3L380.3,72.2L381.0,72.0L381.7,71.8L382.4,71.6L383.1,71.2L383.8,70.8L384.5,70.2L385.2,69.5L385.9,68.6L386.5,67.4L387.2,65.8L387.9,63.7L388.6,61.0L389.3,57.6L390.0,53.5L390.7,48.9L391.4,44.4L392.1,40.4L392.8,37.6L393.4,36.5L394.1,37.8L394.8,41.8L395.5,47.4L396.2,53.2L396.9,58.4L397.6,62.5L398.3,65.4L399.0,67.5L399.7,68.9L400.3,70.0L401.0,70.7L401.7,71.3L402.4,71.7L403.1,72.0L403.8,72.2L404.5,72.3L405.2,72.4L405.9,72.4L406.6,72.5L407.2,72.5L407.9,72.5L408.6,72.5L408.6,72.5Z" fill="#e8e8e8" style="mix-blend-mode:multiply"/>
<path d="M380.3,72.2L381.0,72.0L381.7,71.8L382.4,71.6L383.1,71.2L383.8,70.8L384.5,70.2L385.2,69.5L385.9,68.6L386.5,67.4L387.2,65.8L387.9,63.7L388.6,61.0L389.3,57.6L390.0,53.5L390.7,48.9L391.4,44.4L392.1,40.4L392.8,37.6L393.4,36.5L394.1,37.8L394.8,41.8L395.5,47.4L396.2,53.2L396.9,58.4L397.6,62.5L398.3,65.4L399.0,67.5L399.7,68.9L400.3,70.0L401.0,70.7L401.7,71.3L402.4,71.7L403.1,72.0L403.8,72.2" fill="none" stroke="#9a9a9a" stroke-width="0.65" stroke-linejoin="round"/>
<text x="368.80" y="17.60" font-size="9.2" fill="#000">OapR</text>
<rect width="1" height="1" fill="url(#tg)" transform="matrix(11.040,0,9.200,-5.250,446.000,72.500)"/>
<rect width="1" height="1" fill="url(#tg)" transform="matrix(11.040,0,9.200,-5.250,457.040,72.500)"/>
<rect width="1" height="1" fill="url(#tg)" transform="matrix(11.040,0,9.200,-5.250,468.080,72.500)"/>
<rect width="1" height="1" fill="url(#tg)" transform="matrix(11.040,0,9.200,-5.250,479.120,72.500)"/>
<rect width="1" height="1" fill="url(#tg)" transform="matrix(11.040,0,9.200,-5.250,490.160,72.500)"/>
<rect width="1" height="1" fill="url(#tg)" transform="matrix(11.040,0,9.200,-5.250,455.200,67.250)"/>
<rect width="1" height="1" fill="url(#tg)" transform="matrix(11.040,0,9.200,-5.250,466.240,67.250)"/>
<rect width="1" height="1" fill="url(#tg)" transform="matrix(11.040,0,9.200,-5.250,477.280,67.250)"/>
<rect width="1" height="1" fill="url(#tg)" transform="matrix(11.040,0,9.200,-5.250,488.320,67.250)"/>
<rect width="1" height="1" fill="url(#tg)" transform="matrix(11.040,0,9.200,-5.250,499.360,67.250)"/>
<path d="M446.00,72.50h55.20M455.20,67.25h55.20M464.40,62.00h55.20" fill="none" stroke="#a8a8a8" stroke-width="0.45"/>
<path d="M446.00,72.50l18.40,-10.50M457.04,72.50l18.40,-10.50M468.08,72.50l18.40,-10.50M479.12,72.50l18.40,-10.50M490.16,72.50l18.40,-10.50M501.20,72.50l18.40,-10.50" fill="none" stroke="#7d7d7d" stroke-width="0.45"/>
<path d="M446.00,72.50v1.2M457.04,72.50v1.2M468.08,72.50v1.2M479.12,72.50v1.2M490.16,72.50v1.2M501.20,72.50v1.2" stroke="#888" stroke-width="0.5"/>
<line x1="464.40" y1="62.20" x2="519.60" y2="62.20" stroke="#4ea6dc" stroke-width="0.9" stroke-opacity="0.65"/>
<line x1="455.20" y1="67.45" x2="510.40" y2="67.45" stroke="#d8923e" stroke-width="0.9" stroke-opacity="0.85"/>
<path d="M489.0,62.0L489.0,62.0L489.6,62.0L490.2,62.0L490.7,62.0L491.3,61.9L491.9,61.9L492.5,61.8L493.0,61.7L493.6,61.5L494.2,61.3L494.8,60.9L495.3,60.4L495.9,59.8L496.5,58.9L497.1,57.8L497.6,56.3L498.2,54.2L498.8,51.5L499.4,47.8L499.9,42.8L500.5,36.4L501.1,28.9L501.7,21.0L502.2,13.8L502.8,8.8L503.4,7.0L504.0,8.8L504.6,13.8L505.1,21.0L505.7,28.9L506.3,36.4L506.9,42.8L507.4,47.8L508.0,51.5L508.6,54.2L509.2,56.3L509.7,57.8L510.3,58.9L510.9,59.8L511.5,60.4L512.0,60.9L512.6,61.3L513.2,61.5L513.8,61.7L514.3,61.8L514.9,61.9L515.5,61.9L516.1,62.0L516.6,62.0L517.2,62.0L517.8,62.0L517.8,62.0Z" fill="#b0e1fa" style="mix-blend-mode:multiply"/>
<path d="M493.0,61.7L493.6,61.5L494.2,61.3L494.8,60.9L495.3,60.4L495.9,59.8L496.5,58.9L497.1,57.8L497.6,56.3L498.2,54.2L498.8,51.5L499.4,47.8L499.9,42.8L500.5,36.4L501.1,28.9L501.7,21.0L502.2,13.8L502.8,8.8L503.4,7.0L504.0,8.8L504.6,13.8L505.1,21.0L505.7,28.9L506.3,36.4L506.9,42.8L507.4,47.8L508.0,51.5L508.6,54.2L509.2,56.3L509.7,57.8L510.3,58.9L510.9,59.8L511.5,60.4L512.0,60.9L512.6,61.3L513.2,61.5L513.8,61.7" fill="none" stroke="#4ea6dc" stroke-width="0.65" stroke-linejoin="round"/>
<path d="M471.1,67.2L471.1,67.2L471.8,67.2L472.5,67.2L473.2,67.2L473.9,67.2L474.6,67.2L475.3,67.1L476.0,67.1L476.7,67.0L477.4,66.8L478.1,66.6L478.8,66.4L479.5,66.0L480.3,65.5L481.0,64.9L481.7,64.1L482.4,63.0L483.1,61.6L483.8,59.8L484.5,57.3L485.2,54.1L485.9,49.9L486.6,45.0L487.3,39.6L488.0,34.5L488.7,30.4L489.4,28.1L490.1,28.1L490.8,30.9L491.5,35.8L492.2,41.8L493.0,47.6L493.7,52.7L494.4,56.7L495.1,59.6L495.8,61.7L496.5,63.2L497.2,64.3L497.9,65.2L498.6,65.8L499.3,66.3L500.0,66.6L500.7,66.8L501.4,67.0L502.1,67.1L502.8,67.2L503.5,67.2L504.2,67.2L504.9,67.2L505.7,67.2L506.4,67.2L506.4,67.2Z" fill="#fddcb0" style="mix-blend-mode:multiply"/>
<path d="M476.7,67.0L477.4,66.8L478.1,66.6L478.8,66.4L479.5,66.0L480.3,65.5L481.0,64.9L481.7,64.1L482.4,63.0L483.1,61.6L483.8,59.8L484.5,57.3L485.2,54.1L485.9,49.9L486.6,45.0L487.3,39.6L488.0,34.5L488.7,30.4L489.4,28.1L490.1,28.1L490.8,30.9L491.5,35.8L492.2,41.8L493.0,47.6L493.7,52.7L494.4,56.7L495.1,59.6L495.8,61.7L496.5,63.2L497.2,64.3L497.9,65.2L498.6,65.8L499.3,66.3L500.0,66.6L500.7,66.8L501.4,67.0" fill="none" stroke="#d8923e" stroke-width="0.65" stroke-linejoin="round"/>
<path d="M456.9,72.5L456.9,72.5L457.5,72.5L458.1,72.5L458.7,72.5L459.3,72.5L459.8,72.4L460.4,72.4L461.0,72.3L461.6,72.2L462.2,72.1L462.8,71.9L463.4,71.7L464.0,71.4L464.6,70.9L465.2,70.3L465.8,69.6L466.4,68.7L467.0,67.5L467.6,65.9L468.2,63.7L468.8,60.9L469.4,57.2L470.0,52.8L470.6,47.7L471.1,42.5L471.7,37.9L472.3,34.6L472.9,33.2L473.5,34.4L474.1,38.3L474.7,44.0L475.3,50.2L475.9,55.8L476.5,60.4L477.1,63.8L477.7,66.3L478.3,68.0L478.9,69.3L479.5,70.2L480.1,70.9L480.7,71.4L481.3,71.8L481.9,72.0L482.4,72.2L483.0,72.3L483.6,72.4L484.2,72.4L484.8,72.5L485.4,72.5L486.0,72.5L486.6,72.5L486.6,72.5Z" fill="#e8e8e8" style="mix-blend-mode:multiply"/>
<path d="M461.6,72.2L462.2,72.1L462.8,71.9L463.4,71.7L464.0,71.4L464.6,70.9L465.2,70.3L465.8,69.6L466.4,68.7L467.0,67.5L467.6,65.9L468.2,63.7L468.8,60.9L469.4,57.2L470.0,52.8L470.6,47.7L471.1,42.5L471.7,37.9L472.3,34.6L472.9,33.2L473.5,34.4L474.1,38.3L474.7,44.0L475.3,50.2L475.9,55.8L476.5,60.4L477.1,63.8L477.7,66.3L478.3,68.0L478.9,69.3L479.5,70.2L480.1,70.9L480.7,71.4L481.3,71.8L481.9,72.0L482.4,72.2" fill="none" stroke="#9a9a9a" stroke-width="0.65" stroke-linejoin="round"/>
<text x="449.15" y="17.60" font-size="9.2" fill="#000">FdsR</text>
<rect width="1" height="1" fill="url(#tg)" transform="matrix(11.040,0,9.200,-5.250,525.800,72.500)"/>
<rect width="1" height="1" fill="url(#tg)" transform="matrix(11.040,0,9.200,-5.250,536.840,72.500)"/>
<rect width="1" height="1" fill="url(#tg)" transform="matrix(11.040,0,9.200,-5.250,547.880,72.500)"/>
<rect width="1" height="1" fill="url(#tg)" transform="matrix(11.040,0,9.200,-5.250,558.920,72.500)"/>
<rect width="1" height="1" fill="url(#tg)" transform="matrix(11.040,0,9.200,-5.250,569.960,72.500)"/>
<rect width="1" height="1" fill="url(#tg)" transform="matrix(11.040,0,9.200,-5.250,535.000,67.250)"/>
<rect width="1" height="1" fill="url(#tg)" transform="matrix(11.040,0,9.200,-5.250,546.040,67.250)"/>
<rect width="1" height="1" fill="url(#tg)" transform="matrix(11.040,0,9.200,-5.250,557.080,67.250)"/>
<rect width="1" height="1" fill="url(#tg)" transform="matrix(11.040,0,9.200,-5.250,568.120,67.250)"/>
<rect width="1" height="1" fill="url(#tg)" transform="matrix(11.040,0,9.200,-5.250,579.160,67.250)"/>
<path d="M525.80,72.50h55.20M535.00,67.25h55.20M544.20,62.00h55.20" fill="none" stroke="#a8a8a8" stroke-width="0.45"/>
<path d="M525.80,72.50l18.40,-10.50M536.84,72.50l18.40,-10.50M547.88,72.50l18.40,-10.50M558.92,72.50l18.40,-10.50M569.96,72.50l18.40,-10.50M581.00,72.50l18.40,-10.50" fill="none" stroke="#7d7d7d" stroke-width="0.45"/>
<path d="M525.80,72.50v1.2M536.84,72.50v1.2M547.88,72.50v1.2M558.92,72.50v1.2M569.96,72.50v1.2M581.00,72.50v1.2" stroke="#888" stroke-width="0.5"/>
<line x1="544.20" y1="62.20" x2="599.40" y2="62.20" stroke="#4ea6dc" stroke-width="0.9" stroke-opacity="0.65"/>
<line x1="535.00" y1="67.45" x2="590.20" y2="67.45" stroke="#d8923e" stroke-width="0.9" stroke-opacity="0.85"/>
<path d="M567.7,62.0L567.7,62.0L568.3,62.0L568.9,62.0L569.4,62.0L570.0,61.9L570.6,61.9L571.2,61.8L571.7,61.7L572.3,61.5L572.9,61.3L573.5,60.9L574.0,60.4L574.6,59.8L575.2,58.9L575.8,57.8L576.3,56.3L576.9,54.2L577.5,51.5L578.1,47.8L578.6,42.8L579.2,36.4L579.8,28.9L580.4,21.0L580.9,13.8L581.5,8.8L582.1,7.0L582.7,8.8L583.3,13.8L583.8,21.0L584.4,28.9L585.0,36.4L585.6,42.8L586.1,47.8L586.7,51.5L587.3,54.2L587.9,56.3L588.4,57.8L589.0,58.9L589.6,59.8L590.2,60.4L590.7,60.9L591.3,61.3L591.9,61.5L592.5,61.7L593.0,61.8L593.6,61.9L594.2,61.9L594.8,62.0L595.3,62.0L595.9,62.0L596.5,62.0L596.5,62.0Z" fill="#b0e1fa" style="mix-blend-mode:multiply"/>
<path d="M571.7,61.7L572.3,61.5L572.9,61.3L573.5,60.9L574.0,60.4L574.6,59.8L575.2,58.9L575.8,57.8L576.3,56.3L576.9,54.2L577.5,51.5L578.1,47.8L578.6,42.8L579.2,36.4L579.8,28.9L580.4,21.0L580.9,13.8L581.5,8.8L582.1,7.0L582.7,8.8L583.3,13.8L583.8,21.0L584.4,28.9L585.0,36.4L585.6,42.8L586.1,47.8L586.7,51.5L587.3,54.2L587.9,56.3L588.4,57.8L589.0,58.9L589.6,59.8L590.2,60.4L590.7,60.9L591.3,61.3L591.9,61.5L592.5,61.7" fill="none" stroke="#4ea6dc" stroke-width="0.65" stroke-linejoin="round"/>
<path d="M555.9,67.2L555.9,67.2L556.5,67.2L557.0,67.2L557.5,67.2L558.0,67.2L558.5,67.1L559.1,67.1L559.6,67.0L560.1,66.8L560.6,66.6L561.1,66.3L561.6,65.8L562.2,65.3L562.7,64.5L563.2,63.5L563.7,62.1L564.2,60.3L564.8,57.9L565.3,54.6L565.8,50.1L566.3,44.5L566.8,37.8L567.3,30.7L567.9,24.4L568.4,19.9L568.9,18.2L569.4,19.9L569.9,24.4L570.5,30.7L571.0,37.8L571.5,44.5L572.0,50.1L572.5,54.6L573.0,57.9L573.6,60.3L574.1,62.1L574.6,63.5L575.1,64.5L575.6,65.3L576.2,65.8L576.7,66.3L577.2,66.6L577.7,66.8L578.2,67.0L578.7,67.1L579.3,67.1L579.8,67.2L580.3,67.2L580.8,67.2L581.3,67.2L581.9,67.2L581.9,67.2Z" fill="#fddcb0" style="mix-blend-mode:multiply"/>
<path d="M559.6,67.0L560.1,66.8L560.6,66.6L561.1,66.3L561.6,65.8L562.2,65.3L562.7,64.5L563.2,63.5L563.7,62.1L564.2,60.3L564.8,57.9L565.3,54.6L565.8,50.1L566.3,44.5L566.8,37.8L567.3,30.7L567.9,24.4L568.4,19.9L568.9,18.2L569.4,19.9L569.9,24.4L570.5,30.7L571.0,37.8L571.5,44.5L572.0,50.1L572.5,54.6L573.0,57.9L573.6,60.3L574.1,62.1L574.6,63.5L575.1,64.5L575.6,65.3L576.2,65.8L576.7,66.3L577.2,66.6L577.7,66.8L578.2,67.0" fill="none" stroke="#d8923e" stroke-width="0.65" stroke-linejoin="round"/>
<path d="M527.4,72.5L527.4,72.5L528.1,72.5L528.9,72.5L529.7,72.5L530.4,72.5L531.2,72.5L532.0,72.4L532.7,72.4L533.5,72.3L534.3,72.3L535.0,72.2L535.8,72.0L536.6,71.8L537.3,71.6L538.1,71.2L538.9,70.8L539.6,70.3L540.4,69.6L541.2,68.7L541.9,67.5L542.7,66.0L543.5,64.0L544.2,61.5L545.0,58.4L545.8,54.9L546.5,51.4L547.3,48.2L548.1,45.8L548.8,44.6L549.6,45.1L550.4,47.8L551.1,51.9L551.9,56.6L552.7,60.8L553.5,64.2L554.2,66.6L555.0,68.4L555.8,69.6L556.5,70.4L557.3,71.1L558.1,71.5L558.8,71.9L559.6,72.1L560.4,72.2L561.1,72.4L561.9,72.4L562.7,72.5L563.4,72.5L564.2,72.5L565.0,72.5L565.7,72.5L565.7,72.5Z" fill="#e8e8e8" style="mix-blend-mode:multiply"/>
<path d="M535.0,72.2L535.8,72.0L536.6,71.8L537.3,71.6L538.1,71.2L538.9,70.8L539.6,70.3L540.4,69.6L541.2,68.7L541.9,67.5L542.7,66.0L543.5,64.0L544.2,61.5L545.0,58.4L545.8,54.9L546.5,51.4L547.3,48.2L548.1,45.8L548.8,44.6L549.6,45.1L550.4,47.8L551.1,51.9L551.9,56.6L552.7,60.8L553.5,64.2L554.2,66.6L555.0,68.4L555.8,69.6L556.5,70.4L557.3,71.1L558.1,71.5L558.8,71.9L559.6,72.1L560.4,72.2" fill="none" stroke="#9a9a9a" stroke-width="0.65" stroke-linejoin="round"/>
<text x="528.80" y="17.60" font-size="9.2" fill="#000">XdhR</text>
<rect width="1" height="1" fill="url(#tg)" transform="matrix(11.040,0,9.200,-5.250,606.800,72.500)"/>
<rect width="1" height="1" fill="url(#tg)" transform="matrix(11.040,0,9.200,-5.250,617.840,72.500)"/>
<rect width="1" height="1" fill="url(#tg)" transform="matrix(11.040,0,9.200,-5.250,628.880,72.500)"/>
<rect width="1" height="1" fill="url(#tg)" transform="matrix(11.040,0,9.200,-5.250,639.920,72.500)"/>
<rect width="1" height="1" fill="url(#tg)" transform="matrix(11.040,0,9.200,-5.250,650.960,72.500)"/>
<rect width="1" height="1" fill="url(#tg)" transform="matrix(11.040,0,9.200,-5.250,616.000,67.250)"/>
<rect width="1" height="1" fill="url(#tg)" transform="matrix(11.040,0,9.200,-5.250,627.040,67.250)"/>
<rect width="1" height="1" fill="url(#tg)" transform="matrix(11.040,0,9.200,-5.250,638.080,67.250)"/>
<rect width="1" height="1" fill="url(#tg)" transform="matrix(11.040,0,9.200,-5.250,649.120,67.250)"/>
<rect width="1" height="1" fill="url(#tg)" transform="matrix(11.040,0,9.200,-5.250,660.160,67.250)"/>
<path d="M606.80,72.50h55.20M616.00,67.25h55.20M625.20,62.00h55.20" fill="none" stroke="#a8a8a8" stroke-width="0.45"/>
<path d="M606.80,72.50l18.40,-10.50M617.84,72.50l18.40,-10.50M628.88,72.50l18.40,-10.50M639.92,72.50l18.40,-10.50M650.96,72.50l18.40,-10.50M662.00,72.50l18.40,-10.50" fill="none" stroke="#7d7d7d" stroke-width="0.45"/>
<path d="M606.80,72.50v1.2M617.84,72.50v1.2M628.88,72.50v1.2M639.92,72.50v1.2M650.96,72.50v1.2M662.00,72.50v1.2" stroke="#888" stroke-width="0.5"/>
<line x1="625.20" y1="62.20" x2="680.40" y2="62.20" stroke="#4ea6dc" stroke-width="0.9" stroke-opacity="0.65"/>
<line x1="616.00" y1="67.45" x2="671.20" y2="67.45" stroke="#d8923e" stroke-width="0.9" stroke-opacity="0.85"/>
<path d="M647.9,62.0L647.9,62.0L648.5,62.0L649.1,62.0L649.6,62.0L650.2,61.9L650.8,61.9L651.4,61.8L651.9,61.7L652.5,61.5L653.1,61.2L653.7,60.8L654.2,60.3L654.8,59.6L655.4,58.7L656.0,57.4L656.5,55.8L657.1,53.7L657.7,50.7L658.3,46.7L658.8,41.4L659.4,34.6L660.0,26.5L660.6,18.0L661.1,10.3L661.7,5.0L662.3,3.0L662.9,5.0L663.5,10.3L664.0,18.0L664.6,26.5L665.2,34.6L665.8,41.4L666.3,46.7L666.9,50.7L667.5,53.7L668.1,55.8L668.6,57.4L669.2,58.7L669.8,59.6L670.4,60.3L670.9,60.8L671.5,61.2L672.1,61.5L672.7,61.7L673.2,61.8L673.8,61.9L674.4,61.9L675.0,62.0L675.5,62.0L676.1,62.0L676.7,62.0L676.7,62.0Z" fill="#b0e1fa" style="mix-blend-mode:multiply"/>
<path d="M651.9,61.7L652.5,61.5L653.1,61.2L653.7,60.8L654.2,60.3L654.8,59.6L655.4,58.7L656.0,57.4L656.5,55.8L657.1,53.7L657.7,50.7L658.3,46.7L658.8,41.4L659.4,34.6L660.0,26.5L660.6,18.0L661.1,10.3L661.7,5.0L662.3,3.0L662.9,5.0L663.5,10.3L664.0,18.0L664.6,26.5L665.2,34.6L665.8,41.4L666.3,46.7L666.9,50.7L667.5,53.7L668.1,55.8L668.6,57.4L669.2,58.7L669.8,59.6L670.4,60.3L670.9,60.8L671.5,61.2L672.1,61.5L672.7,61.7" fill="none" stroke="#4ea6dc" stroke-width="0.65" stroke-linejoin="round"/>
<path d="M628.4,67.2L628.4,67.2L629.0,67.2L629.7,67.2L630.3,67.2L631.0,67.2L631.7,67.2L632.3,67.2L633.0,67.1L633.7,67.0L634.3,66.9L635.0,66.8L635.6,66.6L636.3,66.3L637.0,66.0L637.6,65.5L638.3,64.9L639.0,64.2L639.6,63.3L640.3,62.2L640.9,60.7L641.6,58.8L642.3,56.3L642.9,53.0L643.6,49.0L644.3,44.2L644.9,38.9L645.6,33.5L646.2,28.7L646.9,25.2L647.6,23.4L648.2,24.2L648.9,28.7L649.6,35.8L650.2,43.4L650.9,50.1L651.5,55.3L652.2,59.0L652.9,61.5L653.5,63.3L654.2,64.5L654.9,65.4L655.5,66.0L656.2,66.5L656.8,66.8L657.5,67.0L658.2,67.1L658.8,67.2L659.5,67.2L660.2,67.2L660.8,67.2L661.5,67.2L661.5,67.2Z" fill="#fddcb0" style="mix-blend-mode:multiply"/>
<path d="M634.3,66.9L635.0,66.8L635.6,66.6L636.3,66.3L637.0,66.0L637.6,65.5L638.3,64.9L639.0,64.2L639.6,63.3L640.3,62.2L640.9,60.7L641.6,58.8L642.3,56.3L642.9,53.0L643.6,49.0L644.3,44.2L644.9,38.9L645.6,33.5L646.2,28.7L646.9,25.2L647.6,23.4L648.2,24.2L648.9,28.7L649.6,35.8L650.2,43.4L650.9,50.1L651.5,55.3L652.2,59.0L652.9,61.5L653.5,63.3L654.2,64.5L654.9,65.4L655.5,66.0L656.2,66.5L656.8,66.8L657.5,67.0" fill="none" stroke="#d8923e" stroke-width="0.65" stroke-linejoin="round"/>
<path d="M606.8,72.5L606.8,72.2L607.6,72.1L608.4,71.9L609.2,71.8L610.0,71.5L610.8,71.3L611.6,71.0L612.4,70.6L613.2,70.1L614.0,69.6L614.8,68.9L615.6,68.1L616.4,67.1L617.2,65.8L618.0,64.2L618.9,62.3L619.7,60.1L620.5,57.5L621.3,54.7L622.1,51.8L622.9,49.0L623.7,46.6L624.5,44.7L625.3,43.7L626.1,43.6L626.9,45.1L627.7,47.9L628.5,51.6L629.3,55.6L630.1,59.3L630.9,62.4L631.7,64.9L632.5,66.8L633.3,68.2L634.1,69.3L634.9,70.1L635.7,70.7L636.5,71.2L637.3,71.5L638.1,71.8L638.9,72.0L639.7,72.2L640.5,72.3L641.3,72.4L642.1,72.4L643.0,72.4L643.8,72.5L644.6,72.5L645.4,72.5L646.2,72.5L647.0,72.5L647.0,72.5Z" fill="#e8e8e8" style="mix-blend-mode:multiply"/>
<path d="M606.8,72.2L607.6,72.1L608.4,71.9L609.2,71.8L610.0,71.5L610.8,71.3L611.6,71.0L612.4,70.6L613.2,70.1L614.0,69.6L614.8,68.9L615.6,68.1L616.4,67.1L617.2,65.8L618.0,64.2L618.9,62.3L619.7,60.1L620.5,57.5L621.3,54.7L622.1,51.8L622.9,49.0L623.7,46.6L624.5,44.7L625.3,43.7L626.1,43.6L626.9,45.1L627.7,47.9L628.5,51.6L629.3,55.6L630.1,59.3L630.9,62.4L631.7,64.9L632.5,66.8L633.3,68.2L634.1,69.3L634.9,70.1L635.7,70.7L636.5,71.2L637.3,71.5L638.1,71.8L638.9,72.0L639.7,72.2" fill="none" stroke="#9a9a9a" stroke-width="0.65" stroke-linejoin="round"/>
<text x="610.20" y="17.60" font-size="9.2" fill="#000">PhgR</text>
<rect width="1" height="1" fill="url(#tg)" transform="matrix(11.040,0,9.200,-5.250,365.700,152.700)"/>
<rect width="1" height="1" fill="url(#tg)" transform="matrix(11.040,0,9.200,-5.250,376.740,152.700)"/>
<rect width="1" height="1" fill="url(#tg)" transform="matrix(11.040,0,9.200,-5.250,387.780,152.700)"/>
<rect width="1" height="1" fill="url(#tg)" transform="matrix(11.040,0,9.200,-5.250,398.820,152.700)"/>
<rect width="1" height="1" fill="url(#tg)" transform="matrix(11.040,0,9.200,-5.250,409.860,152.700)"/>
<rect width="1" height="1" fill="url(#tg)" transform="matrix(11.040,0,9.200,-5.250,374.900,147.450)"/>
<rect width="1" height="1" fill="url(#tg)" transform="matrix(11.040,0,9.200,-5.250,385.940,147.450)"/>
<rect width="1" height="1" fill="url(#tg)" transform="matrix(11.040,0,9.200,-5.250,396.980,147.450)"/>
<rect width="1" height="1" fill="url(#tg)" transform="matrix(11.040,0,9.200,-5.250,408.020,147.450)"/>
<rect width="1" height="1" fill="url(#tg)" transform="matrix(11.040,0,9.200,-5.250,419.060,147.450)"/>
<path d="M365.70,152.70h55.20M374.90,147.45h55.20M384.10,142.20h55.20" fill="none" stroke="#a8a8a8" stroke-width="0.45"/>
<path d="M365.70,152.70l18.40,-10.50M376.74,152.70l18.40,-10.50M387.78,152.70l18.40,-10.50M398.82,152.70l18.40,-10.50M409.86,152.70l18.40,-10.50M420.90,152.70l18.40,-10.50" fill="none" stroke="#7d7d7d" stroke-width="0.45"/>
<path d="M365.70,152.70v1.2M376.74,152.70v1.2M387.78,152.70v1.2M398.82,152.70v1.2M409.86,152.70v1.2M420.90,152.70v1.2" stroke="#888" stroke-width="0.5"/>
<line x1="384.10" y1="142.40" x2="439.30" y2="142.40" stroke="#4ea6dc" stroke-width="0.9" stroke-opacity="0.65"/>
<line x1="374.90" y1="147.65" x2="430.10" y2="147.65" stroke="#d8923e" stroke-width="0.9" stroke-opacity="0.85"/>
<path d="M420.2,142.2L420.2,142.2L420.6,142.2L421.0,142.2L421.4,142.2L421.7,142.1L422.1,142.1L422.5,142.0L422.9,141.9L423.2,141.8L423.6,141.6L424.0,141.3L424.4,140.8L424.7,140.3L425.1,139.5L425.5,138.5L425.9,137.3L426.2,135.5L426.6,133.2L427.0,130.0L427.4,125.7L427.7,120.2L428.1,113.7L428.5,106.9L428.9,100.8L429.2,96.5L429.6,94.9L430.0,96.5L430.3,100.8L430.7,106.9L431.1,113.7L431.5,120.2L431.8,125.7L432.2,130.0L432.6,133.2L433.0,135.5L433.3,137.3L433.7,138.5L434.1,139.5L434.5,140.3L434.8,140.8L435.2,141.3L435.6,141.6L436.0,141.8L436.3,141.9L436.7,142.0L437.1,142.1L437.5,142.1L437.8,142.2L438.2,142.2L438.6,142.2L439.0,142.2L439.0,142.2Z" fill="#b0e1fa" style="mix-blend-mode:multiply"/>
<path d="M422.9,141.9L423.2,141.8L423.6,141.6L424.0,141.3L424.4,140.8L424.7,140.3L425.1,139.5L425.5,138.5L425.9,137.3L426.2,135.5L426.6,133.2L427.0,130.0L427.4,125.7L427.7,120.2L428.1,113.7L428.5,106.9L428.9,100.8L429.2,96.5L429.6,94.9L430.0,96.5L430.3,100.8L430.7,106.9L431.1,113.7L431.5,120.2L431.8,125.7L432.2,130.0L432.6,133.2L433.0,135.5L433.3,137.3L433.7,138.5L434.1,139.5L434.5,140.3L434.8,140.8L435.2,141.3L435.6,141.6L436.0,141.8L436.3,141.9" fill="none" stroke="#4ea6dc" stroke-width="0.65" stroke-linejoin="round"/>
<path d="M403.0,147.4L403.0,147.4L403.4,147.4L403.8,147.4L404.2,147.4L404.5,147.4L404.9,147.3L405.3,147.3L405.7,147.2L406.0,147.0L406.4,146.7L406.8,146.4L407.2,145.9L407.5,145.3L407.9,144.4L408.3,143.3L408.7,141.8L409.0,139.8L409.4,137.1L409.8,133.5L410.2,128.6L410.5,122.3L410.9,115.0L411.3,107.2L411.7,100.2L412.0,95.2L412.4,93.4L412.8,95.2L413.1,100.2L413.5,107.2L413.9,115.0L414.3,122.3L414.6,128.6L415.0,133.5L415.4,137.1L415.8,139.8L416.1,141.8L416.5,143.3L416.9,144.4L417.3,145.3L417.6,145.9L418.0,146.4L418.4,146.7L418.8,147.0L419.1,147.2L419.5,147.3L419.9,147.3L420.3,147.4L420.6,147.4L421.0,147.4L421.4,147.4L421.8,147.4L421.8,147.4Z" fill="#fddcb0" style="mix-blend-mode:multiply"/>
<path d="M405.7,147.2L406.0,147.0L406.4,146.7L406.8,146.4L407.2,145.9L407.5,145.3L407.9,144.4L408.3,143.3L408.7,141.8L409.0,139.8L409.4,137.1L409.8,133.5L410.2,128.6L410.5,122.3L410.9,115.0L411.3,107.2L411.7,100.2L412.0,95.2L412.4,93.4L412.8,95.2L413.1,100.2L413.5,107.2L413.9,115.0L414.3,122.3L414.6,128.6L415.0,133.5L415.4,137.1L415.8,139.8L416.1,141.8L416.5,143.3L416.9,144.4L417.3,145.3L417.6,145.9L418.0,146.4L418.4,146.7L418.8,147.0L419.1,147.2" fill="none" stroke="#d8923e" stroke-width="0.65" stroke-linejoin="round"/>
<path d="M365.7,152.7L365.7,152.6L366.5,152.5L367.2,152.4L368.0,152.3L368.7,152.2L369.5,152.0L370.2,151.9L371.0,151.6L371.7,151.3L372.5,151.0L373.3,150.6L374.0,150.0L374.8,149.4L375.5,148.5L376.3,147.5L377.0,146.2L377.8,144.6L378.5,142.8L379.3,140.6L380.0,138.3L380.8,136.0L381.6,133.9L382.3,132.2L383.1,131.1L383.8,130.7L384.6,131.4L385.3,133.3L386.1,136.0L386.8,139.1L387.6,142.0L388.4,144.5L389.1,146.6L389.9,148.1L390.6,149.3L391.4,150.1L392.1,150.8L392.9,151.3L393.6,151.7L394.4,151.9L395.1,152.2L395.9,152.3L396.7,152.4L397.4,152.5L398.2,152.6L398.9,152.6L399.7,152.7L400.4,152.7L401.2,152.7L401.9,152.7L402.7,152.7L403.5,152.7L403.5,152.7Z" fill="#e8e8e8" style="mix-blend-mode:multiply"/>
<path d="M367.2,152.4L368.0,152.3L368.7,152.2L369.5,152.0L370.2,151.9L371.0,151.6L371.7,151.3L372.5,151.0L373.3,150.6L374.0,150.0L374.8,149.4L375.5,148.5L376.3,147.5L377.0,146.2L377.8,144.6L378.5,142.8L379.3,140.6L380.0,138.3L380.8,136.0L381.6,133.9L382.3,132.2L383.1,131.1L383.8,130.7L384.6,131.4L385.3,133.3L386.1,136.0L386.8,139.1L387.6,142.0L388.4,144.5L389.1,146.6L389.9,148.1L390.6,149.3L391.4,150.1L392.1,150.8L392.9,151.3L393.6,151.7L394.4,151.9L395.1,152.2L395.9,152.3L396.7,152.4" fill="none" stroke="#9a9a9a" stroke-width="0.65" stroke-linejoin="round"/>
<text x="368.80" y="96.90" font-size="9.2" fill="#000">NahR</text>
<rect width="1" height="1" fill="url(#tg)" transform="matrix(11.040,0,9.200,-5.250,446.000,152.700)"/>
<rect width="1" height="1" fill="url(#tg)" transform="matrix(11.040,0,9.200,-5.250,457.040,152.700)"/>
<rect width="1" height="1" fill="url(#tg)" transform="matrix(11.040,0,9.200,-5.250,468.080,152.700)"/>
<rect width="1" height="1" fill="url(#tg)" transform="matrix(11.040,0,9.200,-5.250,479.120,152.700)"/>
<rect width="1" height="1" fill="url(#tg)" transform="matrix(11.040,0,9.200,-5.250,490.160,152.700)"/>
<rect width="1" height="1" fill="url(#tg)" transform="matrix(11.040,0,9.200,-5.250,455.200,147.450)"/>
<rect width="1" height="1" fill="url(#tg)" transform="matrix(11.040,0,9.200,-5.250,466.240,147.450)"/>
<rect width="1" height="1" fill="url(#tg)" transform="matrix(11.040,0,9.200,-5.250,477.280,147.450)"/>
<rect width="1" height="1" fill="url(#tg)" transform="matrix(11.040,0,9.200,-5.250,488.320,147.450)"/>
<rect width="1" height="1" fill="url(#tg)" transform="matrix(11.040,0,9.200,-5.250,499.360,147.450)"/>
<path d="M446.00,152.70h55.20M455.20,147.45h55.20M464.40,142.20h55.20" fill="none" stroke="#a8a8a8" stroke-width="0.45"/>
<path d="M446.00,152.70l18.40,-10.50M457.04,152.70l18.40,-10.50M468.08,152.70l18.40,-10.50M479.12,152.70l18.40,-10.50M490.16,152.70l18.40,-10.50M501.20,152.70l18.40,-10.50" fill="none" stroke="#7d7d7d" stroke-width="0.45"/>
<path d="M446.00,152.70v1.2M457.04,152.70v1.2M468.08,152.70v1.2M479.12,152.70v1.2M490.16,152.70v1.2M501.20,152.70v1.2" stroke="#888" stroke-width="0.5"/>
<line x1="464.40" y1="142.40" x2="519.60" y2="142.40" stroke="#4ea6dc" stroke-width="0.9" stroke-opacity="0.65"/>
<line x1="455.20" y1="147.65" x2="510.40" y2="147.65" stroke="#d8923e" stroke-width="0.9" stroke-opacity="0.85"/>
<path d="M496.7,142.2L496.7,142.2L497.1,142.2L497.6,142.2L498.1,142.2L498.5,142.1L499.0,142.1L499.4,142.0L499.9,141.9L500.3,141.7L500.8,141.5L501.3,141.2L501.7,140.7L502.2,140.1L502.6,139.2L503.1,138.1L503.6,136.7L504.0,134.8L504.5,132.2L504.9,128.6L505.4,123.9L505.8,117.8L506.3,110.6L506.8,102.8L507.2,95.7L507.7,90.4L508.1,88.2L508.6,89.5L509.1,94.1L509.5,100.8L510.0,108.5L510.4,116.0L510.9,122.4L511.3,127.5L511.8,131.3L512.3,134.2L512.7,136.2L513.2,137.8L513.6,139.0L514.1,139.9L514.6,140.5L515.0,141.0L515.5,141.4L515.9,141.7L516.4,141.9L516.8,142.0L517.3,142.1L517.8,142.1L518.2,142.2L518.7,142.2L519.1,142.2L519.6,142.2L519.6,142.2Z" fill="#b0e1fa" style="mix-blend-mode:multiply"/>
<path d="M499.9,141.9L500.3,141.7L500.8,141.5L501.3,141.2L501.7,140.7L502.2,140.1L502.6,139.2L503.1,138.1L503.6,136.7L504.0,134.8L504.5,132.2L504.9,128.6L505.4,123.9L505.8,117.8L506.3,110.6L506.8,102.8L507.2,95.7L507.7,90.4L508.1,88.2L508.6,89.5L509.1,94.1L509.5,100.8L510.0,108.5L510.4,116.0L510.9,122.4L511.3,127.5L511.8,131.3L512.3,134.2L512.7,136.2L513.2,137.8L513.6,139.0L514.1,139.9L514.6,140.5L515.0,141.0L515.5,141.4L515.9,141.7L516.4,141.9" fill="none" stroke="#4ea6dc" stroke-width="0.65" stroke-linejoin="round"/>
<path d="M483.1,147.4L483.1,147.4L483.5,147.4L484.0,147.4L484.5,147.4L484.9,147.4L485.4,147.4L485.8,147.3L486.3,147.2L486.8,147.1L487.2,146.9L487.7,146.7L488.1,146.3L488.6,145.9L489.1,145.3L489.5,144.4L490.0,143.4L490.5,141.9L490.9,140.0L491.4,137.4L491.8,133.8L492.3,129.3L492.8,124.0L493.2,118.4L493.7,113.3L494.1,109.7L494.6,108.4L495.1,109.7L495.5,113.3L496.0,118.4L496.4,124.0L496.9,129.3L497.4,133.8L497.8,137.4L498.3,140.0L498.7,141.9L499.2,143.4L499.7,144.4L500.1,145.3L500.6,145.9L501.1,146.3L501.5,146.7L502.0,146.9L502.4,147.1L502.9,147.2L503.4,147.3L503.8,147.4L504.3,147.4L504.7,147.4L505.2,147.4L505.7,147.4L506.1,147.4L506.1,147.4Z" fill="#fddcb0" style="mix-blend-mode:multiply"/>
<path d="M486.8,147.1L487.2,146.9L487.7,146.7L488.1,146.3L488.6,145.9L489.1,145.3L489.5,144.4L490.0,143.4L490.5,141.9L490.9,140.0L491.4,137.4L491.8,133.8L492.3,129.3L492.8,124.0L493.2,118.4L493.7,113.3L494.1,109.7L494.6,108.4L495.1,109.7L495.5,113.3L496.0,118.4L496.4,124.0L496.9,129.3L497.4,133.8L497.8,137.4L498.3,140.0L498.7,141.9L499.2,143.4L499.7,144.4L500.1,145.3L500.6,145.9L501.1,146.3L501.5,146.7L502.0,146.9L502.4,147.1" fill="none" stroke="#d8923e" stroke-width="0.65" stroke-linejoin="round"/>
<path d="M446.0,152.7L446.0,152.7L446.8,152.7L447.6,152.7L448.3,152.6L449.1,152.6L449.9,152.5L450.7,152.5L451.5,152.4L452.2,152.3L453.0,152.1L453.8,151.9L454.6,151.7L455.4,151.4L456.1,151.0L456.9,150.5L457.7,149.9L458.5,149.1L459.2,148.0L460.0,146.7L460.8,145.0L461.6,142.9L462.4,140.6L463.1,138.2L463.9,136.0L464.7,134.1L465.5,133.0L466.3,132.7L467.0,133.7L467.8,135.9L468.6,138.7L469.4,141.6L470.2,144.3L470.9,146.5L471.7,148.2L472.5,149.4L473.3,150.3L474.1,150.9L474.8,151.4L475.6,151.8L476.4,152.0L477.2,152.3L478.0,152.4L478.7,152.5L479.5,152.6L480.3,152.6L481.1,152.7L481.8,152.7L482.6,152.7L483.4,152.7L484.2,152.7L485.0,152.7L485.0,152.7Z" fill="#e8e8e8" style="mix-blend-mode:multiply"/>
<path d="M451.5,152.4L452.2,152.3L453.0,152.1L453.8,151.9L454.6,151.7L455.4,151.4L456.1,151.0L456.9,150.5L457.7,149.9L458.5,149.1L459.2,148.0L460.0,146.7L460.8,145.0L461.6,142.9L462.4,140.6L463.1,138.2L463.9,136.0L464.7,134.1L465.5,133.0L466.3,132.7L467.0,133.7L467.8,135.9L468.6,138.7L469.4,141.6L470.2,144.3L470.9,146.5L471.7,148.2L472.5,149.4L473.3,150.3L474.1,150.9L474.8,151.4L475.6,151.8L476.4,152.0L477.2,152.3L478.0,152.4" fill="none" stroke="#9a9a9a" stroke-width="0.65" stroke-linejoin="round"/>
<text x="449.15" y="96.90" font-size="9.2" fill="#000">BenM</text>
<rect width="1" height="1" fill="url(#tg)" transform="matrix(11.040,0,9.200,-5.250,525.800,152.700)"/>
<rect width="1" height="1" fill="url(#tg)" transform="matrix(11.040,0,9.200,-5.250,536.840,152.700)"/>
<rect width="1" height="1" fill="url(#tg)" transform="matrix(11.040,0,9.200,-5.250,547.880,152.700)"/>
<rect width="1" height="1" fill="url(#tg)" transform="matrix(11.040,0,9.200,-5.250,558.920,152.700)"/>
<rect width="1" height="1" fill="url(#tg)" transform="matrix(11.040,0,9.200,-5.250,569.960,152.700)"/>
<rect width="1" height="1" fill="url(#tg)" transform="matrix(11.040,0,9.200,-5.250,535.000,147.450)"/>
<rect width="1" height="1" fill="url(#tg)" transform="matrix(11.040,0,9.200,-5.250,546.040,147.450)"/>
<rect width="1" height="1" fill="url(#tg)" transform="matrix(11.040,0,9.200,-5.250,557.080,147.450)"/>
<rect width="1" height="1" fill="url(#tg)" transform="matrix(11.040,0,9.200,-5.250,568.120,147.450)"/>
<rect width="1" height="1" fill="url(#tg)" transform="matrix(11.040,0,9.200,-5.250,579.160,147.450)"/>
<path d="M525.80,152.70h55.20M535.00,147.45h55.20M544.20,142.20h55.20" fill="none" stroke="#a8a8a8" stroke-width="0.45"/>
<path d="M525.80,152.70l18.40,-10.50M536.84,152.70l18.40,-10.50M547.88,152.70l18.40,-10.50M558.92,152.70l18.40,-10.50M569.96,152.70l18.40,-10.50M581.00,152.70l18.40,-10.50" fill="none" stroke="#7d7d7d" stroke-width="0.45"/>
<path d="M525.80,152.70v1.2M536.84,152.70v1.2M547.88,152.70v1.2M558.92,152.70v1.2M569.96,152.70v1.2M581.00,152.70v1.2" stroke="#888" stroke-width="0.5"/>
<line x1="535.00" y1="147.65" x2="590.20" y2="147.65" stroke="#d8923e" stroke-width="0.9" stroke-opacity="0.85"/>
<path d="M556.2,147.4L556.2,147.4L556.6,147.4L557.1,147.4L557.5,147.4L557.9,147.4L558.4,147.3L558.8,147.3L559.2,147.1L559.7,147.0L560.1,146.7L560.5,146.4L561.0,145.9L561.4,145.2L561.8,144.3L562.2,143.2L562.7,141.7L563.1,139.7L563.5,137.0L564.0,133.2L564.4,128.2L564.8,121.9L565.3,114.4L565.7,106.5L566.1,99.3L566.6,94.3L567.0,92.4L567.4,94.3L567.9,99.3L568.3,106.5L568.7,114.4L569.2,121.9L569.6,128.2L570.0,133.2L570.5,137.0L570.9,139.7L571.3,141.7L571.8,143.2L572.2,144.3L572.6,145.2L573.0,145.9L573.5,146.4L573.9,146.7L574.3,147.0L574.8,147.1L575.2,147.3L575.6,147.3L576.1,147.4L576.5,147.4L576.9,147.4L577.4,147.4L577.8,147.4L577.8,147.4Z" fill="#fddcb0" style="mix-blend-mode:multiply"/>
<path d="M559.2,147.1L559.7,147.0L560.1,146.7L560.5,146.4L561.0,145.9L561.4,145.2L561.8,144.3L562.2,143.2L562.7,141.7L563.1,139.7L563.5,137.0L564.0,133.2L564.4,128.2L564.8,121.9L565.3,114.4L565.7,106.5L566.1,99.3L566.6,94.3L567.0,92.4L567.4,94.3L567.9,99.3L568.3,106.5L568.7,114.4L569.2,121.9L569.6,128.2L570.0,133.2L570.5,137.0L570.9,139.7L571.3,141.7L571.8,143.2L572.2,144.3L572.6,145.2L573.0,145.9L573.5,146.4L573.9,146.7L574.3,147.0L574.8,147.1" fill="none" stroke="#d8923e" stroke-width="0.65" stroke-linejoin="round"/>
<path d="M525.8,152.7L525.8,152.1L526.5,151.9L527.3,151.7L528.0,151.5L528.7,151.2L529.4,150.8L530.2,150.3L530.9,149.8L531.6,149.2L532.3,148.4L533.1,147.4L533.8,146.3L534.5,144.8L535.3,143.1L536.0,141.0L536.7,138.5L537.4,135.7L538.2,132.6L538.9,129.5L539.6,126.4L540.3,123.7L541.1,121.5L541.8,120.2L542.5,119.7L543.3,120.7L544.0,123.4L544.7,127.2L545.4,131.6L546.2,135.9L546.9,139.7L547.6,142.8L548.3,145.2L549.1,147.0L549.8,148.4L550.5,149.5L551.2,150.3L552.0,150.9L552.7,151.4L553.4,151.7L554.2,152.0L554.9,152.2L555.6,152.4L556.3,152.5L557.1,152.6L557.8,152.6L558.5,152.6L559.2,152.7L560.0,152.7L560.7,152.7L561.4,152.7L562.2,152.7L562.2,152.7Z" fill="#e8e8e8" style="mix-blend-mode:multiply"/>
<path d="M525.8,152.1L526.5,151.9L527.3,151.7L528.0,151.5L528.7,151.2L529.4,150.8L530.2,150.3L530.9,149.8L531.6,149.2L532.3,148.4L533.1,147.4L533.8,146.3L534.5,144.8L535.3,143.1L536.0,141.0L536.7,138.5L537.4,135.7L538.2,132.6L538.9,129.5L539.6,126.4L540.3,123.7L541.1,121.5L541.8,120.2L542.5,119.7L543.3,120.7L544.0,123.4L544.7,127.2L545.4,131.6L546.2,135.9L546.9,139.7L547.6,142.8L548.3,145.2L549.1,147.0L549.8,148.4L550.5,149.5L551.2,150.3L552.0,150.9L552.7,151.4L553.4,151.7L554.2,152.0L554.9,152.2L555.6,152.4" fill="none" stroke="#9a9a9a" stroke-width="0.65" stroke-linejoin="round"/>
<text x="528.80" y="96.90" font-size="9.2" fill="#000">TtdR</text>
<rect width="1" height="1" fill="url(#tg)" transform="matrix(11.040,0,9.200,-5.250,606.800,152.700)"/>
<rect width="1" height="1" fill="url(#tg)" transform="matrix(11.040,0,9.200,-5.250,617.840,152.700)"/>
<rect width="1" height="1" fill="url(#tg)" transform="matrix(11.040,0,9.200,-5.250,628.880,152.700)"/>
<rect width="1" height="1" fill="url(#tg)" transform="matrix(11.040,0,9.200,-5.250,639.920,152.700)"/>
<rect width="1" height="1" fill="url(#tg)" transform="matrix(11.040,0,9.200,-5.250,650.960,152.700)"/>
<rect width="1" height="1" fill="url(#tg)" transform="matrix(11.040,0,9.200,-5.250,616.000,147.450)"/>
<rect width="1" height="1" fill="url(#tg)" transform="matrix(11.040,0,9.200,-5.250,627.040,147.450)"/>
<rect width="1" height="1" fill="url(#tg)" transform="matrix(11.040,0,9.200,-5.250,638.080,147.450)"/>
<rect width="1" height="1" fill="url(#tg)" transform="matrix(11.040,0,9.200,-5.250,649.120,147.450)"/>
<rect width="1" height="1" fill="url(#tg)" transform="matrix(11.040,0,9.200,-5.250,660.160,147.450)"/>
<path d="M606.80,152.70h55.20M616.00,147.45h55.20M625.20,142.20h55.20" fill="none" stroke="#a8a8a8" stroke-width="0.45"/>
<path d="M606.80,152.70l18.40,-10.50M617.84,152.70l18.40,-10.50M628.88,152.70l18.40,-10.50M639.92,152.70l18.40,-10.50M650.96,152.70l18.40,-10.50M662.00,152.70l18.40,-10.50" fill="none" stroke="#7d7d7d" stroke-width="0.45"/>
<path d="M606.80,152.70v1.2M617.84,152.70v1.2M628.88,152.70v1.2M639.92,152.70v1.2M650.96,152.70v1.2M662.00,152.70v1.2" stroke="#888" stroke-width="0.5"/>
<line x1="616.00" y1="147.65" x2="671.20" y2="147.65" stroke="#d8923e" stroke-width="0.9" stroke-opacity="0.85"/>
<path d="M641.6,147.4L641.6,147.4L642.0,147.4L642.4,147.4L642.8,147.4L643.2,147.4L643.6,147.3L644.0,147.3L644.4,147.2L644.8,147.0L645.2,146.7L645.7,146.4L646.1,145.9L646.5,145.3L646.9,144.4L647.3,143.3L647.7,141.8L648.1,139.8L648.5,137.1L648.9,133.5L649.3,128.6L649.7,122.3L650.1,115.0L650.5,107.2L650.9,100.2L651.3,95.2L651.7,93.4L652.1,95.2L652.5,100.2L652.9,107.2L653.3,115.0L653.7,122.3L654.1,128.6L654.5,133.5L654.9,137.1L655.3,139.8L655.7,141.8L656.1,143.3L656.5,144.4L656.9,145.3L657.3,145.9L657.7,146.4L658.2,146.7L658.6,147.0L659.0,147.2L659.4,147.3L659.8,147.3L660.2,147.4L660.6,147.4L661.0,147.4L661.4,147.4L661.8,147.4L661.8,147.4Z" fill="#fddcb0" style="mix-blend-mode:multiply"/>
<path d="M644.4,147.2L644.8,147.0L645.2,146.7L645.7,146.4L646.1,145.9L646.5,145.3L646.9,144.4L647.3,143.3L647.7,141.8L648.1,139.8L648.5,137.1L648.9,133.5L649.3,128.6L649.7,122.3L650.1,115.0L650.5,107.2L650.9,100.2L651.3,95.2L651.7,93.4L652.1,95.2L652.5,100.2L652.9,107.2L653.3,115.0L653.7,122.3L654.1,128.6L654.5,133.5L654.9,137.1L655.3,139.8L655.7,141.8L656.1,143.3L656.5,144.4L656.9,145.3L657.3,145.9L657.7,146.4L658.2,146.7L658.6,147.0L659.0,147.2" fill="none" stroke="#d8923e" stroke-width="0.65" stroke-linejoin="round"/>
<path d="M606.8,152.7L606.8,152.4L607.5,152.4L608.2,152.3L608.8,152.1L609.5,152.0L610.2,151.8L610.9,151.6L611.5,151.4L612.2,151.1L612.9,150.8L613.6,150.4L614.3,149.9L614.9,149.4L615.6,148.7L616.3,147.9L617.0,147.0L617.7,145.8L618.3,144.4L619.0,142.8L619.7,140.9L620.4,138.8L621.0,136.6L621.7,134.2L622.4,131.9L623.1,129.8L623.8,128.0L624.4,126.6L625.1,125.9L625.8,125.8L626.5,127.5L627.2,131.0L627.8,135.2L628.5,139.5L629.2,143.1L629.9,145.8L630.5,147.8L631.2,149.2L631.9,150.2L632.6,150.9L633.3,151.5L633.9,151.9L634.6,152.1L635.3,152.3L636.0,152.5L636.6,152.6L637.3,152.6L638.0,152.7L638.7,152.7L639.4,152.7L640.0,152.7L640.7,152.7L640.7,152.7Z" fill="#e8e8e8" style="mix-blend-mode:multiply"/>
<path d="M606.8,152.4L607.5,152.4L608.2,152.3L608.8,152.1L609.5,152.0L610.2,151.8L610.9,151.6L611.5,151.4L612.2,151.1L612.9,150.8L613.6,150.4L614.3,149.9L614.9,149.4L615.6,148.7L616.3,147.9L617.0,147.0L617.7,145.8L618.3,144.4L619.0,142.8L619.7,140.9L620.4,138.8L621.0,136.6L621.7,134.2L622.4,131.9L623.1,129.8L623.8,128.0L624.4,126.6L625.1,125.9L625.8,125.8L626.5,127.5L627.2,131.0L627.8,135.2L628.5,139.5L629.2,143.1L629.9,145.8L630.5,147.8L631.2,149.2L631.9,150.2L632.6,150.9L633.3,151.5L633.9,151.9L634.6,152.1L635.3,152.3" fill="none" stroke="#9a9a9a" stroke-width="0.65" stroke-linejoin="round"/>
<text x="610.20" y="96.90" font-size="9.2" fill="#000">SauR</text>
<rect width="1" height="1" fill="url(#tg)" transform="matrix(11.040,0,9.200,-5.250,365.700,231.500)"/>
<rect width="1" height="1" fill="url(#tg)" transform="matrix(11.040,0,9.200,-5.250,376.740,231.500)"/>
<rect width="1" height="1" fill="url(#tg)" transform="matrix(11.040,0,9.200,-5.250,387.780,231.500)"/>
<rect width="1" height="1" fill="url(#tg)" transform="matrix(11.040,0,9.200,-5.250,398.820,231.500)"/>
<rect width="1" height="1" fill="url(#tg)" transform="matrix(11.040,0,9.200,-5.250,409.860,231.500)"/>
<rect width="1" height="1" fill="url(#tg)" transform="matrix(11.040,0,9.200,-5.250,374.900,226.250)"/>
<rect width="1" height="1" fill="url(#tg)" transform="matrix(11.040,0,9.200,-5.250,385.940,226.250)"/>
<rect width="1" height="1" fill="url(#tg)" transform="matrix(11.040,0,9.200,-5.250,396.980,226.250)"/>
<rect width="1" height="1" fill="url(#tg)" transform="matrix(11.040,0,9.200,-5.250,408.020,226.250)"/>
<rect width="1" height="1" fill="url(#tg)" transform="matrix(11.040,0,9.200,-5.250,419.060,226.250)"/>
<path d="M365.70,231.50h55.20M374.90,226.25h55.20M384.10,221.00h55.20" fill="none" stroke="#a8a8a8" stroke-width="0.45"/>
<path d="M365.70,231.50l18.40,-10.50M376.74,231.50l18.40,-10.50M387.78,231.50l18.40,-10.50M398.82,231.50l18.40,-10.50M409.86,231.50l18.40,-10.50M420.90,231.50l18.40,-10.50" fill="none" stroke="#7d7d7d" stroke-width="0.45"/>
<path d="M365.70,231.50v1.2M376.74,231.50v1.2M387.78,231.50v1.2M398.82,231.50v1.2M409.86,231.50v1.2M420.90,231.50v1.2" stroke="#888" stroke-width="0.5"/>
<line x1="384.10" y1="221.20" x2="439.30" y2="221.20" stroke="#4ea6dc" stroke-width="0.9" stroke-opacity="0.65"/>
<line x1="374.90" y1="226.45" x2="430.10" y2="226.45" stroke="#d8923e" stroke-width="0.9" stroke-opacity="0.85"/>
<path d="M399.4,221.0L399.4,221.0L400.0,221.0L400.5,221.0L401.0,221.0L401.6,220.9L402.1,220.9L402.6,220.8L403.1,220.7L403.7,220.6L404.2,220.4L404.7,220.0L405.3,219.6L405.8,219.0L406.3,218.3L406.9,217.3L407.4,216.0L407.9,214.3L408.5,212.0L409.0,208.9L409.5,204.8L410.1,199.3L410.6,192.7L411.1,185.2L411.7,177.8L412.2,171.6L412.7,167.8L413.3,167.2L413.8,170.3L414.3,176.3L414.9,184.0L415.4,191.9L415.9,199.0L416.5,204.8L417.0,209.1L417.5,212.3L418.1,214.6L418.6,216.3L419.1,217.6L419.7,218.6L420.2,219.3L420.7,219.8L421.3,220.2L421.8,220.5L422.3,220.7L422.9,220.8L423.4,220.9L423.9,220.9L424.5,221.0L425.0,221.0L425.5,221.0L426.1,221.0L426.1,221.0Z" fill="#b0e1fa" style="mix-blend-mode:multiply"/>
<path d="M403.1,220.7L403.7,220.6L404.2,220.4L404.7,220.0L405.3,219.6L405.8,219.0L406.3,218.3L406.9,217.3L407.4,216.0L407.9,214.3L408.5,212.0L409.0,208.9L409.5,204.8L410.1,199.3L410.6,192.7L411.1,185.2L411.7,177.8L412.2,171.6L412.7,167.8L413.3,167.2L413.8,170.3L414.3,176.3L414.9,184.0L415.4,191.9L415.9,199.0L416.5,204.8L417.0,209.1L417.5,212.3L418.1,214.6L418.6,216.3L419.1,217.6L419.7,218.6L420.2,219.3L420.7,219.8L421.3,220.2L421.8,220.5L422.3,220.7" fill="none" stroke="#4ea6dc" stroke-width="0.65" stroke-linejoin="round"/>
<path d="M382.8,226.2L382.8,226.2L383.4,226.2L384.1,226.2L384.8,226.2L385.4,226.2L386.1,226.2L386.8,226.1L387.4,226.1L388.1,226.0L388.7,225.9L389.4,225.7L390.1,225.4L390.7,225.1L391.4,224.7L392.1,224.1L392.7,223.4L393.4,222.5L394.0,221.4L394.7,219.9L395.4,218.0L396.0,215.4L396.7,212.1L397.4,207.9L398.0,202.8L398.7,197.1L399.3,191.2L400.0,186.0L400.7,182.1L401.3,180.3L402.0,181.4L402.7,186.0L403.3,192.9L404.0,200.5L404.6,207.4L405.3,212.8L406.0,216.8L406.6,219.6L407.3,221.5L408.0,222.9L408.6,223.9L409.3,224.7L409.9,225.2L410.6,225.6L411.3,225.8L411.9,226.0L412.6,226.1L413.3,226.2L413.9,226.2L414.6,226.2L415.2,226.2L415.9,226.2L415.9,226.2Z" fill="#fddcb0" style="mix-blend-mode:multiply"/>
<path d="M388.1,226.0L388.7,225.9L389.4,225.7L390.1,225.4L390.7,225.1L391.4,224.7L392.1,224.1L392.7,223.4L393.4,222.5L394.0,221.4L394.7,219.9L395.4,218.0L396.0,215.4L396.7,212.1L397.4,207.9L398.0,202.8L398.7,197.1L399.3,191.2L400.0,186.0L400.7,182.1L401.3,180.3L402.0,181.4L402.7,186.0L403.3,192.9L404.0,200.5L404.6,207.4L405.3,212.8L406.0,216.8L406.6,219.6L407.3,221.5L408.0,222.9L408.6,223.9L409.3,224.7L409.9,225.2L410.6,225.6L411.3,225.8" fill="none" stroke="#d8923e" stroke-width="0.65" stroke-linejoin="round"/>
<path d="M365.7,231.5L365.7,230.9L366.5,230.7L367.3,230.5L368.2,230.2L369.0,229.9L369.8,229.5L370.6,229.1L371.5,228.5L372.3,227.8L373.1,227.0L373.9,226.0L374.8,224.8L375.6,223.3L376.4,221.4L377.2,219.2L378.1,216.7L378.9,213.8L379.7,210.7L380.5,207.6L381.3,204.7L382.2,202.3L383.0,200.5L383.8,199.6L384.6,199.8L385.5,201.5L386.3,204.7L387.1,208.6L387.9,212.8L388.8,216.7L389.6,220.1L390.4,222.8L391.2,224.9L392.1,226.5L392.9,227.7L393.7,228.6L394.5,229.3L395.3,229.9L396.2,230.3L397.0,230.6L397.8,230.9L398.6,231.1L399.5,231.2L400.3,231.3L401.1,231.4L401.9,231.4L402.8,231.4L403.6,231.5L404.4,231.5L405.2,231.5L406.1,231.5L406.9,231.5L406.9,231.5Z" fill="#e8e8e8" style="mix-blend-mode:multiply"/>
<path d="M365.7,230.9L366.5,230.7L367.3,230.5L368.2,230.2L369.0,229.9L369.8,229.5L370.6,229.1L371.5,228.5L372.3,227.8L373.1,227.0L373.9,226.0L374.8,224.8L375.6,223.3L376.4,221.4L377.2,219.2L378.1,216.7L378.9,213.8L379.7,210.7L380.5,207.6L381.3,204.7L382.2,202.3L383.0,200.5L383.8,199.6L384.6,199.8L385.5,201.5L386.3,204.7L387.1,208.6L387.9,212.8L388.8,216.7L389.6,220.1L390.4,222.8L391.2,224.9L392.1,226.5L392.9,227.7L393.7,228.6L394.5,229.3L395.3,229.9L396.2,230.3L397.0,230.6L397.8,230.9L398.6,231.1L399.5,231.2" fill="none" stroke="#9a9a9a" stroke-width="0.65" stroke-linejoin="round"/>
<text x="368.80" y="176.10" font-size="9.2" fill="#000">KynR</text>
<rect width="1" height="1" fill="url(#tg)" transform="matrix(11.040,0,9.200,-5.250,446.000,231.500)"/>
<rect width="1" height="1" fill="url(#tg)" transform="matrix(11.040,0,9.200,-5.250,457.040,231.500)"/>
<rect width="1" height="1" fill="url(#tg)" transform="matrix(11.040,0,9.200,-5.250,468.080,231.500)"/>
<rect width="1" height="1" fill="url(#tg)" transform="matrix(11.040,0,9.200,-5.250,479.120,231.500)"/>
<rect width="1" height="1" fill="url(#tg)" transform="matrix(11.040,0,9.200,-5.250,490.160,231.500)"/>
<rect width="1" height="1" fill="url(#tg)" transform="matrix(11.040,0,9.200,-5.250,455.200,226.250)"/>
<rect width="1" height="1" fill="url(#tg)" transform="matrix(11.040,0,9.200,-5.250,466.240,226.250)"/>
<rect width="1" height="1" fill="url(#tg)" transform="matrix(11.040,0,9.200,-5.250,477.280,226.250)"/>
<rect width="1" height="1" fill="url(#tg)" transform="matrix(11.040,0,9.200,-5.250,488.320,226.250)"/>
<rect width="1" height="1" fill="url(#tg)" transform="matrix(11.040,0,9.200,-5.250,499.360,226.250)"/>
<path d="M446.00,231.50h55.20M455.20,226.25h55.20M464.40,221.00h55.20" fill="none" stroke="#a8a8a8" stroke-width="0.45"/>
<path d="M446.00,231.50l18.40,-10.50M457.04,231.50l18.40,-10.50M468.08,231.50l18.40,-10.50M479.12,231.50l18.40,-10.50M490.16,231.50l18.40,-10.50M501.20,231.50l18.40,-10.50" fill="none" stroke="#7d7d7d" stroke-width="0.45"/>
<path d="M446.00,231.50v1.2M457.04,231.50v1.2M468.08,231.50v1.2M479.12,231.50v1.2M490.16,231.50v1.2M501.20,231.50v1.2" stroke="#888" stroke-width="0.5"/>
<line x1="464.40" y1="221.20" x2="519.60" y2="221.20" stroke="#4ea6dc" stroke-width="0.9" stroke-opacity="0.65"/>
<line x1="455.20" y1="226.45" x2="510.40" y2="226.45" stroke="#d8923e" stroke-width="0.9" stroke-opacity="0.85"/>
<path d="M496.7,221.0L496.7,221.0L497.1,221.0L497.6,221.0L498.1,221.0L498.5,220.9L499.0,220.9L499.4,220.8L499.9,220.7L500.3,220.5L500.8,220.2L501.3,219.9L501.7,219.3L502.2,218.7L502.6,217.7L503.1,216.5L503.6,215.0L504.0,212.9L504.5,210.0L504.9,206.2L505.4,201.0L505.8,194.3L506.3,186.4L506.8,178.0L507.2,170.2L507.7,164.5L508.1,162.0L508.6,163.5L509.1,168.4L509.5,175.8L510.0,184.2L510.4,192.4L510.9,199.4L511.3,205.0L511.8,209.1L512.3,212.2L512.7,214.5L513.2,216.2L513.6,217.5L514.1,218.4L514.6,219.2L515.0,219.7L515.5,220.1L515.9,220.4L516.4,220.6L516.8,220.8L517.3,220.9L517.8,220.9L518.2,221.0L518.7,221.0L519.1,221.0L519.6,221.0L519.6,221.0Z" fill="#b0e1fa" style="mix-blend-mode:multiply"/>
<path d="M499.9,220.7L500.3,220.5L500.8,220.2L501.3,219.9L501.7,219.3L502.2,218.7L502.6,217.7L503.1,216.5L503.6,215.0L504.0,212.9L504.5,210.0L504.9,206.2L505.4,201.0L505.8,194.3L506.3,186.4L506.8,178.0L507.2,170.2L507.7,164.5L508.1,162.0L508.6,163.5L509.1,168.4L509.5,175.8L510.0,184.2L510.4,192.4L510.9,199.4L511.3,205.0L511.8,209.1L512.3,212.2L512.7,214.5L513.2,216.2L513.6,217.5L514.1,218.4L514.6,219.2L515.0,219.7L515.5,220.1L515.9,220.4L516.4,220.6" fill="none" stroke="#4ea6dc" stroke-width="0.65" stroke-linejoin="round"/>
<path d="M475.8,226.2L475.8,226.2L476.3,226.2L476.9,226.2L477.5,226.2L478.0,226.2L478.6,226.2L479.1,226.1L479.7,226.0L480.3,225.9L480.8,225.8L481.4,225.5L482.0,225.2L482.5,224.8L483.1,224.2L483.6,223.5L484.2,222.6L484.8,221.3L485.3,219.8L485.9,217.7L486.5,214.9L487.0,211.2L487.6,206.4L488.1,200.7L488.7,194.2L489.3,187.8L489.8,182.2L490.4,178.4L490.9,177.3L491.5,179.4L492.1,184.8L492.6,192.1L493.2,199.6L493.8,206.4L494.3,211.9L494.9,215.9L495.4,218.8L496.0,220.9L496.6,222.4L497.1,223.5L497.7,224.3L498.2,224.9L498.8,225.4L499.4,225.7L499.9,225.9L500.5,226.0L501.1,226.1L501.6,226.2L502.2,226.2L502.7,226.2L503.3,226.2L503.9,226.2L503.9,226.2Z" fill="#fddcb0" style="mix-blend-mode:multiply"/>
<path d="M480.3,225.9L480.8,225.8L481.4,225.5L482.0,225.2L482.5,224.8L483.1,224.2L483.6,223.5L484.2,222.6L484.8,221.3L485.3,219.8L485.9,217.7L486.5,214.9L487.0,211.2L487.6,206.4L488.1,200.7L488.7,194.2L489.3,187.8L489.8,182.2L490.4,178.4L490.9,177.3L491.5,179.4L492.1,184.8L492.6,192.1L493.2,199.6L493.8,206.4L494.3,211.9L494.9,215.9L495.4,218.8L496.0,220.9L496.6,222.4L497.1,223.5L497.7,224.3L498.2,224.9L498.8,225.4L499.4,225.7L499.9,225.9" fill="none" stroke="#d8923e" stroke-width="0.65" stroke-linejoin="round"/>
<path d="M446.0,231.5L446.0,231.5L446.8,231.5L447.7,231.4L448.5,231.4L449.4,231.3L450.2,231.3L451.1,231.2L451.9,231.1L452.8,230.9L453.6,230.7L454.5,230.5L455.3,230.1L456.2,229.7L457.0,229.2L457.9,228.6L458.7,227.8L459.6,226.9L460.4,225.6L461.2,224.0L462.1,221.9L462.9,219.4L463.8,216.5L464.6,213.3L465.5,210.0L466.3,206.9L467.2,204.4L468.0,202.9L468.9,202.5L469.7,204.1L470.6,207.4L471.4,211.8L472.3,216.2L473.1,220.1L474.0,223.2L474.8,225.6L475.6,227.2L476.5,228.4L477.3,229.3L478.2,229.9L479.0,230.4L479.9,230.7L480.7,231.0L481.6,231.2L482.4,231.3L483.3,231.4L484.1,231.4L485.0,231.5L485.8,231.5L486.7,231.5L487.5,231.5L488.4,231.5L488.4,231.5Z" fill="#e8e8e8" style="mix-blend-mode:multiply"/>
<path d="M451.1,231.2L451.9,231.1L452.8,230.9L453.6,230.7L454.5,230.5L455.3,230.1L456.2,229.7L457.0,229.2L457.9,228.6L458.7,227.8L459.6,226.9L460.4,225.6L461.2,224.0L462.1,221.9L462.9,219.4L463.8,216.5L464.6,213.3L465.5,210.0L466.3,206.9L467.2,204.4L468.0,202.9L468.9,202.5L469.7,204.1L470.6,207.4L471.4,211.8L472.3,216.2L473.1,220.1L474.0,223.2L474.8,225.6L475.6,227.2L476.5,228.4L477.3,229.3L478.2,229.9L479.0,230.4L479.9,230.7L480.7,231.0L481.6,231.2" fill="none" stroke="#9a9a9a" stroke-width="0.65" stroke-linejoin="round"/>
<text x="449.15" y="176.10" font-size="9.2" fill="#000">HpdR</text>
<rect width="1" height="1" fill="url(#tg)" transform="matrix(11.040,0,9.200,-5.250,525.800,231.500)"/>
<rect width="1" height="1" fill="url(#tg)" transform="matrix(11.040,0,9.200,-5.250,536.840,231.500)"/>
<rect width="1" height="1" fill="url(#tg)" transform="matrix(11.040,0,9.200,-5.250,547.880,231.500)"/>
<rect width="1" height="1" fill="url(#tg)" transform="matrix(11.040,0,9.200,-5.250,558.920,231.500)"/>
<rect width="1" height="1" fill="url(#tg)" transform="matrix(11.040,0,9.200,-5.250,569.960,231.500)"/>
<rect width="1" height="1" fill="url(#tg)" transform="matrix(11.040,0,9.200,-5.250,535.000,226.250)"/>
<rect width="1" height="1" fill="url(#tg)" transform="matrix(11.040,0,9.200,-5.250,546.040,226.250)"/>
<rect width="1" height="1" fill="url(#tg)" transform="matrix(11.040,0,9.200,-5.250,557.080,226.250)"/>
<rect width="1" height="1" fill="url(#tg)" transform="matrix(11.040,0,9.200,-5.250,568.120,226.250)"/>
<rect width="1" height="1" fill="url(#tg)" transform="matrix(11.040,0,9.200,-5.250,579.160,226.250)"/>
<path d="M525.80,231.50h55.20M535.00,226.25h55.20M544.20,221.00h55.20" fill="none" stroke="#a8a8a8" stroke-width="0.45"/>
<path d="M525.80,231.50l18.40,-10.50M536.84,231.50l18.40,-10.50M547.88,231.50l18.40,-10.50M558.92,231.50l18.40,-10.50M569.96,231.50l18.40,-10.50M581.00,231.50l18.40,-10.50" fill="none" stroke="#7d7d7d" stroke-width="0.45"/>
<path d="M525.80,231.50v1.2M536.84,231.50v1.2M547.88,231.50v1.2M558.92,231.50v1.2M569.96,231.50v1.2M581.00,231.50v1.2" stroke="#888" stroke-width="0.5"/>
<line x1="544.20" y1="221.20" x2="599.40" y2="221.20" stroke="#4ea6dc" stroke-width="0.9" stroke-opacity="0.65"/>
<line x1="535.00" y1="226.45" x2="590.20" y2="226.45" stroke="#d8923e" stroke-width="0.9" stroke-opacity="0.85"/>
<path d="M566.3,221.0L566.3,221.0L566.9,221.0L567.5,221.0L568.1,221.0L568.6,220.9L569.2,220.9L569.8,220.8L570.4,220.7L571.0,220.6L571.6,220.3L572.2,220.0L572.8,219.6L573.4,219.0L574.0,218.2L574.5,217.2L575.1,215.9L575.7,214.2L576.3,211.9L576.9,208.7L577.5,204.5L578.1,199.0L578.7,192.3L579.3,184.8L579.9,177.4L580.4,171.3L581.0,167.6L581.6,167.3L582.2,170.6L582.8,176.7L583.4,184.4L584.0,192.3L584.6,199.3L585.2,205.0L585.8,209.3L586.4,212.4L586.9,214.7L587.5,216.4L588.1,217.6L588.7,218.6L589.3,219.3L589.9,219.8L590.5,220.2L591.1,220.5L591.7,220.7L592.3,220.8L592.8,220.9L593.4,220.9L594.0,221.0L594.6,221.0L595.2,221.0L595.8,221.0L595.8,221.0Z" fill="#b0e1fa" style="mix-blend-mode:multiply"/>
<path d="M570.4,220.7L571.0,220.6L571.6,220.3L572.2,220.0L572.8,219.6L573.4,219.0L574.0,218.2L574.5,217.2L575.1,215.9L575.7,214.2L576.3,211.9L576.9,208.7L577.5,204.5L578.1,199.0L578.7,192.3L579.3,184.8L579.9,177.4L580.4,171.3L581.0,167.6L581.6,167.3L582.2,170.6L582.8,176.7L583.4,184.4L584.0,192.3L584.6,199.3L585.2,205.0L585.8,209.3L586.4,212.4L586.9,214.7L587.5,216.4L588.1,217.6L588.7,218.6L589.3,219.3L589.9,219.8L590.5,220.2L591.1,220.5L591.7,220.7" fill="none" stroke="#4ea6dc" stroke-width="0.65" stroke-linejoin="round"/>
<path d="M542.9,226.2L542.9,226.2L543.6,226.2L544.2,226.2L544.9,226.2L545.6,226.2L546.3,226.2L546.9,226.1L547.6,226.1L548.3,226.0L549.0,225.8L549.6,225.6L550.3,225.4L551.0,225.0L551.7,224.6L552.4,224.0L553.0,223.2L553.7,222.3L554.4,221.0L555.1,219.4L555.7,217.2L556.4,214.3L557.1,210.6L557.8,206.0L558.4,200.5L559.1,194.7L559.8,189.1L560.5,184.5L561.2,181.8L561.8,181.5L562.5,184.5L563.2,190.3L563.9,197.5L564.5,204.5L565.2,210.4L565.9,214.9L566.6,218.2L567.2,220.5L567.9,222.1L568.6,223.3L569.3,224.2L570.0,224.9L570.6,225.3L571.3,225.7L572.0,225.9L572.7,226.0L573.3,226.1L574.0,226.2L574.7,226.2L575.4,226.2L576.0,226.2L576.7,226.2L576.7,226.2Z" fill="#fddcb0" style="mix-blend-mode:multiply"/>
<path d="M548.3,226.0L549.0,225.8L549.6,225.6L550.3,225.4L551.0,225.0L551.7,224.6L552.4,224.0L553.0,223.2L553.7,222.3L554.4,221.0L555.1,219.4L555.7,217.2L556.4,214.3L557.1,210.6L557.8,206.0L558.4,200.5L559.1,194.7L559.8,189.1L560.5,184.5L561.2,181.8L561.8,181.5L562.5,184.5L563.2,190.3L563.9,197.5L564.5,204.5L565.2,210.4L565.9,214.9L566.6,218.2L567.2,220.5L567.9,222.1L568.6,223.3L569.3,224.2L570.0,224.9L570.6,225.3L571.3,225.7L572.0,225.9" fill="none" stroke="#d8923e" stroke-width="0.65" stroke-linejoin="round"/>
<path d="M525.8,231.5L525.8,231.3L526.6,231.3L527.4,231.2L528.2,231.1L529.0,231.0L529.8,230.8L530.6,230.6L531.4,230.3L532.1,230.0L532.9,229.6L533.7,229.1L534.5,228.5L535.3,227.8L536.1,226.9L536.9,225.8L537.7,224.4L538.5,222.6L539.3,220.5L540.1,217.9L540.9,215.0L541.7,211.8L542.5,208.6L543.2,205.6L544.0,203.0L544.8,201.3L545.6,200.5L546.4,201.1L547.2,203.7L548.0,207.6L548.8,212.0L549.6,216.4L550.4,220.1L551.2,223.1L552.0,225.3L552.8,226.9L553.6,228.1L554.4,229.0L555.1,229.7L555.9,230.2L556.7,230.6L557.5,230.9L558.3,231.1L559.1,231.2L559.9,231.3L560.7,231.4L561.5,231.4L562.3,231.5L563.1,231.5L563.9,231.5L564.7,231.5L565.5,231.5L565.5,231.5Z" fill="#e8e8e8" style="mix-blend-mode:multiply"/>
<path d="M527.4,231.2L528.2,231.1L529.0,231.0L529.8,230.8L530.6,230.6L531.4,230.3L532.1,230.0L532.9,229.6L533.7,229.1L534.5,228.5L535.3,227.8L536.1,226.9L536.9,225.8L537.7,224.4L538.5,222.6L539.3,220.5L540.1,217.9L540.9,215.0L541.7,211.8L542.5,208.6L543.2,205.6L544.0,203.0L544.8,201.3L545.6,200.5L546.4,201.1L547.2,203.7L548.0,207.6L548.8,212.0L549.6,216.4L550.4,220.1L551.2,223.1L552.0,225.3L552.8,226.9L553.6,228.1L554.4,229.0L555.1,229.7L555.9,230.2L556.7,230.6L557.5,230.9L558.3,231.1L559.1,231.2" fill="none" stroke="#9a9a9a" stroke-width="0.65" stroke-linejoin="round"/>
<text x="528.80" y="176.10" font-size="9.2" fill="#000">PhhR</text>
<rect width="1" height="1" fill="url(#tg)" transform="matrix(11.040,0,18.400,-10.500,606.800,231.500)"/>
<rect width="1" height="1" fill="url(#tg)" transform="matrix(11.040,0,18.400,-10.500,617.840,231.500)"/>
<rect width="1" height="1" fill="url(#tg)" transform="matrix(11.040,0,18.400,-10.500,628.880,231.500)"/>
<rect width="1" height="1" fill="url(#tg)" transform="matrix(11.040,0,18.400,-10.500,639.920,231.500)"/>
<rect width="1" height="1" fill="url(#tg)" transform="matrix(11.040,0,18.400,-10.500,650.960,231.500)"/>
<path d="M606.80,231.50h55.20M625.20,221.00h55.20" fill="none" stroke="#a8a8a8" stroke-width="0.45"/>
<path d="M606.80,231.50l18.40,-10.50M617.84,231.50l18.40,-10.50M628.88,231.50l18.40,-10.50M639.92,231.50l18.40,-10.50M650.96,231.50l18.40,-10.50M662.00,231.50l18.40,-10.50" fill="none" stroke="#7d7d7d" stroke-width="0.45"/>
<path d="M606.80,231.50v1.2M617.84,231.50v1.2M628.88,231.50v1.2M639.92,231.50v1.2M650.96,231.50v1.2M662.00,231.50v1.2" stroke="#888" stroke-width="0.5"/>
<line x1="625.20" y1="221.20" x2="680.40" y2="221.20" stroke="#cf74c9" stroke-width="0.9" stroke-opacity="0.85"/>
<path d="M648.6,221.0L648.6,221.0L649.0,221.0L649.5,221.0L650.0,221.0L650.4,220.9L650.9,220.9L651.3,220.8L651.8,220.7L652.3,220.6L652.7,220.4L653.2,220.0L653.6,219.6L654.1,219.0L654.6,218.2L655.0,217.2L655.5,215.9L656.0,214.1L656.4,211.7L656.9,208.3L657.3,203.9L657.8,198.2L658.3,191.5L658.7,184.5L659.2,178.1L659.6,173.6L660.1,172.0L660.6,173.6L661.0,178.1L661.5,184.5L661.9,191.5L662.4,198.2L662.9,203.9L663.3,208.3L663.8,211.7L664.2,214.1L664.7,215.9L665.2,217.2L665.6,218.2L666.1,219.0L666.6,219.6L667.0,220.0L667.5,220.4L667.9,220.6L668.4,220.7L668.9,220.8L669.3,220.9L669.8,220.9L670.2,221.0L670.7,221.0L671.2,221.0L671.6,221.0L671.6,221.0Z" fill="#f5c2f1" style="mix-blend-mode:multiply"/>
<path d="M651.8,220.7L652.3,220.6L652.7,220.4L653.2,220.0L653.6,219.6L654.1,219.0L654.6,218.2L655.0,217.2L655.5,215.9L656.0,214.1L656.4,211.7L656.9,208.3L657.3,203.9L657.8,198.2L658.3,191.5L658.7,184.5L659.2,178.1L659.6,173.6L660.1,172.0L660.6,173.6L661.0,178.1L661.5,184.5L661.9,191.5L662.4,198.2L662.9,203.9L663.3,208.3L663.8,211.7L664.2,214.1L664.7,215.9L665.2,217.2L665.6,218.2L666.1,219.0L666.6,219.6L667.0,220.0L667.5,220.4L667.9,220.6L668.4,220.7" fill="none" stroke="#cf74c9" stroke-width="0.65" stroke-linejoin="round"/>
<path d="M606.8,231.5L606.8,231.4L607.6,231.4L608.3,231.3L609.1,231.2L609.9,231.1L610.7,231.0L611.4,230.8L612.2,230.6L613.0,230.4L613.8,230.1L614.5,229.7L615.3,229.2L616.1,228.6L616.9,227.9L617.6,227.0L618.4,225.9L619.2,224.4L619.9,222.7L620.7,220.6L621.5,218.3L622.3,215.8L623.0,213.3L623.8,211.2L624.6,209.6L625.4,208.6L626.1,208.6L626.9,210.0L627.7,212.4L628.4,215.6L629.2,218.8L630.0,221.8L630.8,224.2L631.5,226.1L632.3,227.5L633.1,228.5L633.9,229.3L634.6,229.8L635.4,230.3L636.2,230.6L637.0,230.9L637.7,231.1L638.5,231.2L639.3,231.3L640.0,231.4L640.8,231.4L641.6,231.5L642.4,231.5L643.1,231.5L643.9,231.5L644.7,231.5L645.5,231.5L645.5,231.5Z" fill="#e8e8e8" style="mix-blend-mode:multiply"/>
<path d="M609.1,231.2L609.9,231.1L610.7,231.0L611.4,230.8L612.2,230.6L613.0,230.4L613.8,230.1L614.5,229.7L615.3,229.2L616.1,228.6L616.9,227.9L617.6,227.0L618.4,225.9L619.2,224.4L619.9,222.7L620.7,220.6L621.5,218.3L622.3,215.8L623.0,213.3L623.8,211.2L624.6,209.6L625.4,208.6L626.1,208.6L626.9,210.0L627.7,212.4L628.4,215.6L629.2,218.8L630.0,221.8L630.8,224.2L631.5,226.1L632.3,227.5L633.1,228.5L633.9,229.3L634.6,229.8L635.4,230.3L636.2,230.6L637.0,230.9L637.7,231.1L638.5,231.2" fill="none" stroke="#9a9a9a" stroke-width="0.65" stroke-linejoin="round"/>
<text x="610.20" y="176.10" font-size="9.2" fill="#000">GabR</text>
<rect width="1" height="1" fill="url(#tg)" transform="matrix(11.040,0,9.200,-5.250,365.700,310.500)"/>
<rect width="1" height="1" fill="url(#tg)" transform="matrix(11.040,0,9.200,-5.250,376.740,310.500)"/>
<rect width="1" height="1" fill="url(#tg)" transform="matrix(11.040,0,9.200,-5.250,387.780,310.500)"/>
<rect width="1" height="1" fill="url(#tg)" transform="matrix(11.040,0,9.200,-5.250,398.820,310.500)"/>
<rect width="1" height="1" fill="url(#tg)" transform="matrix(11.040,0,9.200,-5.250,409.860,310.500)"/>
<rect width="1" height="1" fill="url(#tg)" transform="matrix(11.040,0,9.200,-5.250,374.900,305.250)"/>
<rect width="1" height="1" fill="url(#tg)" transform="matrix(11.040,0,9.200,-5.250,385.940,305.250)"/>
<rect width="1" height="1" fill="url(#tg)" transform="matrix(11.040,0,9.200,-5.250,396.980,305.250)"/>
<rect width="1" height="1" fill="url(#tg)" transform="matrix(11.040,0,9.200,-5.250,408.020,305.250)"/>
<rect width="1" height="1" fill="url(#tg)" transform="matrix(11.040,0,9.200,-5.250,419.060,305.250)"/>
<path d="M365.70,310.50h55.20M374.90,305.25h55.20M384.10,300.00h55.20" fill="none" stroke="#a8a8a8" stroke-width="0.45"/>
<path d="M365.70,310.50l18.40,-10.50M376.74,310.50l18.40,-10.50M387.78,310.50l18.40,-10.50M398.82,310.50l18.40,-10.50M409.86,310.50l18.40,-10.50M420.90,310.50l18.40,-10.50" fill="none" stroke="#7d7d7d" stroke-width="0.45"/>
<path d="M365.70,310.50v1.2M376.74,310.50v1.2M387.78,310.50v1.2M398.82,310.50v1.2M409.86,310.50v1.2M420.90,310.50v1.2" stroke="#888" stroke-width="0.5"/>
<line x1="384.10" y1="300.20" x2="439.30" y2="300.20" stroke="#4ea6dc" stroke-width="0.9" stroke-opacity="0.65"/>
<line x1="374.90" y1="305.45" x2="430.10" y2="305.45" stroke="#d8923e" stroke-width="0.9" stroke-opacity="0.85"/>
<path d="M418.3,300.0L418.3,300.0L418.7,300.0L419.1,300.0L419.5,300.0L419.9,299.9L420.3,299.9L420.7,299.8L421.1,299.7L421.5,299.6L422.0,299.3L422.4,299.0L422.8,298.5L423.2,297.9L423.6,297.1L424.0,296.1L424.4,294.7L424.8,292.9L425.2,290.4L425.6,287.1L426.1,282.6L426.5,276.8L426.9,269.7L427.3,262.0L427.7,254.5L428.1,248.6L428.5,245.3L428.9,245.6L429.3,249.5L429.8,256.0L430.2,263.9L430.6,271.8L431.0,278.8L431.4,284.3L431.8,288.5L432.2,291.5L432.6,293.8L433.0,295.4L433.4,296.7L433.9,297.6L434.3,298.3L434.7,298.8L435.1,299.2L435.5,299.5L435.9,299.7L436.3,299.8L436.7,299.9L437.1,299.9L437.5,300.0L438.0,300.0L438.4,300.0L438.8,300.0L438.8,300.0Z" fill="#b0e1fa" style="mix-blend-mode:multiply"/>
<path d="M421.1,299.7L421.5,299.6L422.0,299.3L422.4,299.0L422.8,298.5L423.2,297.9L423.6,297.1L424.0,296.1L424.4,294.7L424.8,292.9L425.2,290.4L425.6,287.1L426.1,282.6L426.5,276.8L426.9,269.7L427.3,262.0L427.7,254.5L428.1,248.6L428.5,245.3L428.9,245.6L429.3,249.5L429.8,256.0L430.2,263.9L430.6,271.8L431.0,278.8L431.4,284.3L431.8,288.5L432.2,291.5L432.6,293.8L433.0,295.4L433.4,296.7L433.9,297.6L434.3,298.3L434.7,298.8L435.1,299.2L435.5,299.5L435.9,299.7" fill="none" stroke="#4ea6dc" stroke-width="0.65" stroke-linejoin="round"/>
<path d="M396.2,305.2L396.2,305.2L396.7,305.2L397.2,305.2L397.7,305.2L398.1,305.2L398.6,305.2L399.1,305.1L399.6,305.1L400.0,305.0L400.5,304.8L401.0,304.6L401.5,304.4L401.9,304.0L402.4,303.5L402.9,302.9L403.4,302.1L403.8,301.1L404.3,299.8L404.8,298.0L405.3,295.7L405.7,292.7L406.2,288.7L406.7,283.8L407.2,278.3L407.6,272.5L408.1,267.2L408.6,263.2L409.1,261.3L409.5,262.2L410.0,266.2L410.5,272.5L411.0,279.4L411.4,285.9L411.9,291.2L412.4,295.2L412.9,298.0L413.3,300.1L413.8,301.5L414.3,302.6L414.8,303.4L415.2,304.0L415.7,304.4L416.2,304.7L416.7,304.9L417.1,305.0L417.6,305.1L418.1,305.2L418.6,305.2L419.0,305.2L419.5,305.2L420.0,305.2L420.0,305.2Z" fill="#fddcb0" style="mix-blend-mode:multiply"/>
<path d="M400.0,305.0L400.5,304.8L401.0,304.6L401.5,304.4L401.9,304.0L402.4,303.5L402.9,302.9L403.4,302.1L403.8,301.1L404.3,299.8L404.8,298.0L405.3,295.7L405.7,292.7L406.2,288.7L406.7,283.8L407.2,278.3L407.6,272.5L408.1,267.2L408.6,263.2L409.1,261.3L409.5,262.2L410.0,266.2L410.5,272.5L411.0,279.4L411.4,285.9L411.9,291.2L412.4,295.2L412.9,298.0L413.3,300.1L413.8,301.5L414.3,302.6L414.8,303.4L415.2,304.0L415.7,304.4L416.2,304.7L416.7,304.9" fill="none" stroke="#d8923e" stroke-width="0.65" stroke-linejoin="round"/>
<path d="M365.7,310.5L365.7,310.5L366.5,310.5L367.4,310.5L368.2,310.5L369.1,310.5L369.9,310.4L370.8,310.4L371.6,310.4L372.5,310.3L373.3,310.2L374.2,310.1L375.0,310.0L375.9,309.8L376.7,309.5L377.6,309.2L378.4,308.7L379.3,308.2L380.1,307.5L381.0,306.6L381.8,305.4L382.6,303.9L383.5,301.9L384.3,299.4L385.2,296.6L386.0,293.5L386.9,290.6L387.7,288.3L388.6,286.8L389.4,286.6L390.3,288.1L391.1,291.1L392.0,294.9L392.8,298.7L393.7,301.9L394.5,304.4L395.4,306.1L396.2,307.4L397.0,308.3L397.9,308.9L398.7,309.4L399.6,309.8L400.4,310.0L401.3,310.2L402.1,310.3L403.0,310.4L403.8,310.4L404.7,310.5L405.5,310.5L406.4,310.5L407.2,310.5L408.1,310.5L408.1,310.5Z" fill="#e8e8e8" style="mix-blend-mode:multiply"/>
<path d="M373.3,310.2L374.2,310.1L375.0,310.0L375.9,309.8L376.7,309.5L377.6,309.2L378.4,308.7L379.3,308.2L380.1,307.5L381.0,306.6L381.8,305.4L382.6,303.9L383.5,301.9L384.3,299.4L385.2,296.6L386.0,293.5L386.9,290.6L387.7,288.3L388.6,286.8L389.4,286.6L390.3,288.1L391.1,291.1L392.0,294.9L392.8,298.7L393.7,301.9L394.5,304.4L395.4,306.1L396.2,307.4L397.0,308.3L397.9,308.9L398.7,309.4L399.6,309.8L400.4,310.0L401.3,310.2" fill="none" stroke="#9a9a9a" stroke-width="0.65" stroke-linejoin="round"/>
<text x="368.80" y="255.90" font-size="9.2" fill="#000">HpdA</text>
<text x="366.60" y="326.0" font-size="9.8" fill="#000" text-anchor="middle">10<tspan dy="-4.0" font-size="7">4</tspan></text>
<text x="388.68" y="326.0" font-size="9.8" fill="#000" text-anchor="middle">10<tspan dy="-4.0" font-size="7">6</tspan></text>
<text x="410.76" y="326.0" font-size="9.8" fill="#000" text-anchor="middle">10<tspan dy="-4.0" font-size="7">8</tspan></text>
<rect width="1" height="1" fill="url(#tg)" transform="matrix(11.040,0,9.200,-5.250,446.000,310.500)"/>
<rect width="1" height="1" fill="url(#tg)" transform="matrix(11.040,0,9.200,-5.250,457.040,310.500)"/>
<rect width="1" height="1" fill="url(#tg)" transform="matrix(11.040,0,9.200,-5.250,468.080,310.500)"/>
<rect width="1" height="1" fill="url(#tg)" transform="matrix(11.040,0,9.200,-5.250,479.120,310.500)"/>
<rect width="1" height="1" fill="url(#tg)" transform="matrix(11.040,0,9.200,-5.250,490.160,310.500)"/>
<rect width="1" height="1" fill="url(#tg)" transform="matrix(11.040,0,9.200,-5.250,455.200,305.250)"/>
<rect width="1" height="1" fill="url(#tg)" transform="matrix(11.040,0,9.200,-5.250,466.240,305.250)"/>
<rect width="1" height="1" fill="url(#tg)" transform="matrix(11.040,0,9.200,-5.250,477.280,305.250)"/>
<rect width="1" height="1" fill="url(#tg)" transform="matrix(11.040,0,9.200,-5.250,488.320,305.250)"/>
<rect width="1" height="1" fill="url(#tg)" transform="matrix(11.040,0,9.200,-5.250,499.360,305.250)"/>
<path d="M446.00,310.50h55.20M455.20,305.25h55.20M464.40,300.00h55.20" fill="none" stroke="#a8a8a8" stroke-width="0.45"/>
<path d="M446.00,310.50l18.40,-10.50M457.04,310.50l18.40,-10.50M468.08,310.50l18.40,-10.50M479.12,310.50l18.40,-10.50M490.16,310.50l18.40,-10.50M501.20,310.50l18.40,-10.50" fill="none" stroke="#7d7d7d" stroke-width="0.45"/>
<path d="M446.00,310.50v1.2M457.04,310.50v1.2M468.08,310.50v1.2M479.12,310.50v1.2M490.16,310.50v1.2M501.20,310.50v1.2" stroke="#888" stroke-width="0.5"/>
<line x1="464.40" y1="300.20" x2="519.60" y2="300.20" stroke="#4ea6dc" stroke-width="0.9" stroke-opacity="0.65"/>
<line x1="455.20" y1="305.45" x2="510.40" y2="305.45" stroke="#d8923e" stroke-width="0.9" stroke-opacity="0.85"/>
<path d="M464.4,300.0L464.4,299.9L465.2,299.9L466.0,299.9L466.8,299.8L467.7,299.8L468.5,299.7L469.3,299.6L470.1,299.4L470.9,299.2L471.7,299.0L472.5,298.7L473.3,298.3L474.2,297.8L475.0,297.2L475.8,296.5L476.6,295.7L477.4,294.6L478.2,293.4L479.0,291.8L479.8,289.9L480.7,287.5L481.5,284.5L482.3,280.8L483.1,276.5L483.9,271.5L484.7,266.0L485.5,260.4L486.3,255.1L487.2,250.5L488.0,247.1L488.8,245.2L489.6,245.7L490.4,251.3L491.2,260.5L492.0,270.6L492.8,279.4L493.7,286.0L494.5,290.5L495.3,293.5L496.1,295.6L496.9,297.1L497.7,298.1L498.5,298.8L499.4,299.3L500.2,299.6L501.0,299.8L501.8,299.9L502.6,299.9L503.4,300.0L504.2,300.0L505.0,300.0L505.0,300.0Z" fill="#b0e1fa" style="mix-blend-mode:multiply"/>
<path d="M468.5,299.7L469.3,299.6L470.1,299.4L470.9,299.2L471.7,299.0L472.5,298.7L473.3,298.3L474.2,297.8L475.0,297.2L475.8,296.5L476.6,295.7L477.4,294.6L478.2,293.4L479.0,291.8L479.8,289.9L480.7,287.5L481.5,284.5L482.3,280.8L483.1,276.5L483.9,271.5L484.7,266.0L485.5,260.4L486.3,255.1L487.2,250.5L488.0,247.1L488.8,245.2L489.6,245.7L490.4,251.3L491.2,260.5L492.0,270.6L492.8,279.4L493.7,286.0L494.5,290.5L495.3,293.5L496.1,295.6L496.9,297.1L497.7,298.1L498.5,298.8L499.4,299.3L500.2,299.6" fill="none" stroke="#4ea6dc" stroke-width="0.65" stroke-linejoin="round"/>
<path d="M455.2,305.2L455.2,305.2L455.9,305.2L456.7,305.2L457.4,305.1L458.1,305.0L458.9,304.9L459.6,304.8L460.3,304.7L461.0,304.4L461.8,304.1L462.5,303.8L463.2,303.3L464.0,302.8L464.7,302.0L465.4,301.1L466.2,299.8L466.9,298.2L467.6,296.1L468.3,293.4L469.1,290.2L469.8,286.6L470.5,282.7L471.3,279.1L472.0,275.8L472.7,273.2L473.5,271.3L474.2,270.1L474.9,269.3L475.7,268.6L476.4,268.1L477.1,268.4L477.8,270.0L478.6,273.9L479.3,279.6L480.0,285.9L480.8,291.5L481.5,295.8L482.2,298.9L483.0,300.9L483.7,302.3L484.4,303.3L485.1,304.0L485.9,304.5L486.6,304.8L487.3,305.0L488.1,305.1L488.8,305.2L489.5,305.2L490.3,305.2L491.0,305.2L491.7,305.2L491.7,305.2Z" fill="#fddcb0" style="mix-blend-mode:multiply"/>
<path d="M458.9,304.9L459.6,304.8L460.3,304.7L461.0,304.4L461.8,304.1L462.5,303.8L463.2,303.3L464.0,302.8L464.7,302.0L465.4,301.1L466.2,299.8L466.9,298.2L467.6,296.1L468.3,293.4L469.1,290.2L469.8,286.6L470.5,282.7L471.3,279.1L472.0,275.8L472.7,273.2L473.5,271.3L474.2,270.1L474.9,269.3L475.7,268.6L476.4,268.1L477.1,268.4L477.8,270.0L478.6,273.9L479.3,279.6L480.0,285.9L480.8,291.5L481.5,295.8L482.2,298.9L483.0,300.9L483.7,302.3L484.4,303.3L485.1,304.0L485.9,304.5L486.6,304.8L487.3,305.0" fill="none" stroke="#d8923e" stroke-width="0.65" stroke-linejoin="round"/>
<path d="M446.0,310.5L446.0,308.9L446.8,308.5L447.6,308.0L448.4,307.5L449.2,306.8L449.9,306.0L450.7,305.0L451.5,303.8L452.3,302.4L453.1,300.7L453.9,298.5L454.7,296.0L455.5,292.9L456.3,289.3L457.1,285.2L457.8,280.7L458.6,276.1L459.4,271.5L460.2,267.4L461.0,264.0L461.8,261.6L462.6,260.6L463.4,261.2L464.2,264.1L465.0,269.0L465.7,274.9L466.5,281.2L467.3,287.1L468.1,292.2L468.9,296.4L469.7,299.7L470.5,302.2L471.3,304.1L472.1,305.6L472.8,306.7L473.6,307.6L474.4,308.3L475.2,308.9L476.0,309.3L476.8,309.7L477.6,309.9L478.4,310.1L479.2,310.2L480.0,310.3L480.7,310.4L481.5,310.4L482.3,310.5L483.1,310.5L483.9,310.5L484.7,310.5L485.5,310.5L485.5,310.5Z" fill="#e8e8e8" style="mix-blend-mode:multiply"/>
<path d="M446.0,308.9L446.8,308.5L447.6,308.0L448.4,307.5L449.2,306.8L449.9,306.0L450.7,305.0L451.5,303.8L452.3,302.4L453.1,300.7L453.9,298.5L454.7,296.0L455.5,292.9L456.3,289.3L457.1,285.2L457.8,280.7L458.6,276.1L459.4,271.5L460.2,267.4L461.0,264.0L461.8,261.6L462.6,260.6L463.4,261.2L464.2,264.1L465.0,269.0L465.7,274.9L466.5,281.2L467.3,287.1L468.1,292.2L468.9,296.4L469.7,299.7L470.5,302.2L471.3,304.1L472.1,305.6L472.8,306.7L473.6,307.6L474.4,308.3L475.2,308.9L476.0,309.3L476.8,309.7L477.6,309.9L478.4,310.1L479.2,310.2" fill="none" stroke="#9a9a9a" stroke-width="0.65" stroke-linejoin="round"/>
<text x="449.15" y="255.90" font-size="9.2" fill="#000">BadR</text>
<text x="448.70" y="326.0" font-size="9.8" fill="#000" text-anchor="middle">10<tspan dy="-4.0" font-size="7">4</tspan></text>
<text x="470.78" y="326.0" font-size="9.8" fill="#000" text-anchor="middle">10<tspan dy="-4.0" font-size="7">6</tspan></text>
<text x="492.86" y="326.0" font-size="9.8" fill="#000" text-anchor="middle">10<tspan dy="-4.0" font-size="7">8</tspan></text>
<rect width="1" height="1" fill="url(#tg)" transform="matrix(11.040,0,9.200,-5.250,525.800,310.500)"/>
<rect width="1" height="1" fill="url(#tg)" transform="matrix(11.040,0,9.200,-5.250,536.840,310.500)"/>
<rect width="1" height="1" fill="url(#tg)" transform="matrix(11.040,0,9.200,-5.250,547.880,310.500)"/>
<rect width="1" height="1" fill="url(#tg)" transform="matrix(11.040,0,9.200,-5.250,558.920,310.500)"/>
<rect width="1" height="1" fill="url(#tg)" transform="matrix(11.040,0,9.200,-5.250,569.960,310.500)"/>
<rect width="1" height="1" fill="url(#tg)" transform="matrix(11.040,0,9.200,-5.250,535.000,305.250)"/>
<rect width="1" height="1" fill="url(#tg)" transform="matrix(11.040,0,9.200,-5.250,546.040,305.250)"/>
<rect width="1" height="1" fill="url(#tg)" transform="matrix(11.040,0,9.200,-5.250,557.080,305.250)"/>
<rect width="1" height="1" fill="url(#tg)" transform="matrix(11.040,0,9.200,-5.250,568.120,305.250)"/>
<rect width="1" height="1" fill="url(#tg)" transform="matrix(11.040,0,9.200,-5.250,579.160,305.250)"/>
<path d="M525.80,310.50h55.20M535.00,305.25h55.20M544.20,300.00h55.20" fill="none" stroke="#a8a8a8" stroke-width="0.45"/>
<path d="M525.80,310.50l18.40,-10.50M536.84,310.50l18.40,-10.50M547.88,310.50l18.40,-10.50M558.92,310.50l18.40,-10.50M569.96,310.50l18.40,-10.50M581.00,310.50l18.40,-10.50" fill="none" stroke="#7d7d7d" stroke-width="0.45"/>
<path d="M525.80,310.50v1.2M536.84,310.50v1.2M547.88,310.50v1.2M558.92,310.50v1.2M569.96,310.50v1.2M581.00,310.50v1.2" stroke="#888" stroke-width="0.5"/>
<line x1="544.20" y1="300.20" x2="599.40" y2="300.20" stroke="#4ea6dc" stroke-width="0.9" stroke-opacity="0.65"/>
<line x1="535.00" y1="305.45" x2="590.20" y2="305.45" stroke="#d8923e" stroke-width="0.9" stroke-opacity="0.85"/>
<path d="M573.5,300.0L573.5,300.0L573.9,300.0L574.3,300.0L574.7,300.0L575.1,299.9L575.5,299.9L575.9,299.8L576.3,299.7L576.7,299.6L577.1,299.3L577.5,299.0L577.9,298.5L578.3,297.9L578.7,297.1L579.1,296.1L579.5,294.7L579.9,292.9L580.3,290.4L580.6,287.1L581.0,282.6L581.4,276.8L581.8,269.8L582.2,262.1L582.6,254.6L583.0,248.6L583.4,245.4L583.8,245.6L584.2,249.4L584.6,255.9L585.0,263.8L585.4,271.7L585.8,278.7L586.2,284.3L586.6,288.5L587.0,291.5L587.4,293.8L587.8,295.4L588.2,296.7L588.6,297.6L589.0,298.3L589.4,298.8L589.8,299.2L590.2,299.5L590.5,299.7L590.9,299.8L591.3,299.9L591.7,299.9L592.1,300.0L592.5,300.0L592.9,300.0L593.3,300.0L593.3,300.0Z" fill="#b0e1fa" style="mix-blend-mode:multiply"/>
<path d="M576.3,299.7L576.7,299.6L577.1,299.3L577.5,299.0L577.9,298.5L578.3,297.9L578.7,297.1L579.1,296.1L579.5,294.7L579.9,292.9L580.3,290.4L580.6,287.1L581.0,282.6L581.4,276.8L581.8,269.8L582.2,262.1L582.6,254.6L583.0,248.6L583.4,245.4L583.8,245.6L584.2,249.4L584.6,255.9L585.0,263.8L585.4,271.7L585.8,278.7L586.2,284.3L586.6,288.5L587.0,291.5L587.4,293.8L587.8,295.4L588.2,296.7L588.6,297.6L589.0,298.3L589.4,298.8L589.8,299.2L590.2,299.5L590.5,299.7" fill="none" stroke="#4ea6dc" stroke-width="0.65" stroke-linejoin="round"/>
<path d="M547.2,305.2L547.2,305.2L547.9,305.2L548.6,305.2L549.3,305.2L550.0,305.2L550.8,305.2L551.5,305.2L552.2,305.1L552.9,305.1L553.6,305.0L554.4,304.9L555.1,304.8L555.8,304.6L556.5,304.4L557.2,304.2L558.0,303.8L558.7,303.4L559.4,302.8L560.1,302.2L560.8,301.4L561.6,300.3L562.3,299.0L563.0,297.4L563.7,295.3L564.4,292.6L565.2,289.3L565.9,285.5L566.6,281.3L567.3,276.9L568.0,272.7L568.8,269.3L569.5,267.0L570.2,266.2L570.9,268.7L571.6,275.0L572.4,282.7L573.1,289.7L573.8,295.0L574.5,298.5L575.2,300.8L576.0,302.3L576.7,303.4L577.4,304.1L578.1,304.6L578.8,304.9L579.6,305.0L580.3,305.1L581.0,305.2L581.7,305.2L582.4,305.2L583.2,305.2L583.2,305.2Z" fill="#fddcb0" style="mix-blend-mode:multiply"/>
<path d="M554.4,304.9L555.1,304.8L555.8,304.6L556.5,304.4L557.2,304.2L558.0,303.8L558.7,303.4L559.4,302.8L560.1,302.2L560.8,301.4L561.6,300.3L562.3,299.0L563.0,297.4L563.7,295.3L564.4,292.6L565.2,289.3L565.9,285.5L566.6,281.3L567.3,276.9L568.0,272.7L568.8,269.3L569.5,267.0L570.2,266.2L570.9,268.7L571.6,275.0L572.4,282.7L573.1,289.7L573.8,295.0L574.5,298.5L575.2,300.8L576.0,302.3L576.7,303.4L577.4,304.1L578.1,304.6L578.8,304.9" fill="none" stroke="#d8923e" stroke-width="0.65" stroke-linejoin="round"/>
<path d="M525.8,310.5L525.8,310.4L526.6,310.3L527.4,310.3L528.1,310.2L528.9,310.1L529.7,309.9L530.5,309.8L531.2,309.5L532.0,309.3L532.8,308.9L533.6,308.5L534.4,308.0L535.1,307.4L535.9,306.6L536.7,305.7L537.5,304.5L538.2,303.0L539.0,301.1L539.8,298.8L540.6,296.2L541.3,293.2L542.1,290.1L542.9,287.0L543.7,284.2L544.5,282.1L545.2,280.8L546.0,280.6L546.8,282.2L547.6,285.5L548.3,289.7L549.1,294.1L549.9,298.1L550.7,301.4L551.5,303.8L552.2,305.6L553.0,306.9L553.8,307.9L554.6,308.6L555.3,309.1L556.1,309.5L556.9,309.8L557.7,310.1L558.4,310.2L559.2,310.3L560.0,310.4L560.8,310.4L561.6,310.5L562.3,310.5L563.1,310.5L563.9,310.5L564.7,310.5L564.7,310.5Z" fill="#e8e8e8" style="mix-blend-mode:multiply"/>
<path d="M528.1,310.2L528.9,310.1L529.7,309.9L530.5,309.8L531.2,309.5L532.0,309.3L532.8,308.9L533.6,308.5L534.4,308.0L535.1,307.4L535.9,306.6L536.7,305.7L537.5,304.5L538.2,303.0L539.0,301.1L539.8,298.8L540.6,296.2L541.3,293.2L542.1,290.1L542.9,287.0L543.7,284.2L544.5,282.1L545.2,280.8L546.0,280.6L546.8,282.2L547.6,285.5L548.3,289.7L549.1,294.1L549.9,298.1L550.7,301.4L551.5,303.8L552.2,305.6L553.0,306.9L553.8,307.9L554.6,308.6L555.3,309.1L556.1,309.5L556.9,309.8L557.7,310.1L558.4,310.2" fill="none" stroke="#9a9a9a" stroke-width="0.65" stroke-linejoin="round"/>
<text x="528.80" y="255.90" font-size="9.2" fill="#000">PcaQ</text>
<text x="526.00" y="326.0" font-size="9.8" fill="#000" text-anchor="middle">10<tspan dy="-4.0" font-size="7">4</tspan></text>
<text x="548.08" y="326.0" font-size="9.8" fill="#000" text-anchor="middle">10<tspan dy="-4.0" font-size="7">6</tspan></text>
<text x="570.16" y="326.0" font-size="9.8" fill="#000" text-anchor="middle">10<tspan dy="-4.0" font-size="7">8</tspan></text>
<rect width="1" height="1" fill="url(#tg)" transform="matrix(11.040,0,9.200,-5.250,606.800,310.500)"/>
<rect width="1" height="1" fill="url(#tg)" transform="matrix(11.040,0,9.200,-5.250,617.840,310.500)"/>
<rect width="1" height="1" fill="url(#tg)" transform="matrix(11.040,0,9.200,-5.250,628.880,310.500)"/>
<rect width="1" height="1" fill="url(#tg)" transform="matrix(11.040,0,9.200,-5.250,639.920,310.500)"/>
<rect width="1" height="1" fill="url(#tg)" transform="matrix(11.040,0,9.200,-5.250,650.960,310.500)"/>
<rect width="1" height="1" fill="url(#tg)" transform="matrix(11.040,0,9.200,-5.250,616.000,305.250)"/>
<rect width="1" height="1" fill="url(#tg)" transform="matrix(11.040,0,9.200,-5.250,627.040,305.250)"/>
<rect width="1" height="1" fill="url(#tg)" transform="matrix(11.040,0,9.200,-5.250,638.080,305.250)"/>
<rect width="1" height="1" fill="url(#tg)" transform="matrix(11.040,0,9.200,-5.250,649.120,305.250)"/>
<rect width="1" height="1" fill="url(#tg)" transform="matrix(11.040,0,9.200,-5.250,660.160,305.250)"/>
<path d="M606.80,310.50h55.20M616.00,305.25h55.20M625.20,300.00h55.20" fill="none" stroke="#a8a8a8" stroke-width="0.45"/>
<path d="M606.80,310.50l18.40,-10.50M617.84,310.50l18.40,-10.50M628.88,310.50l18.40,-10.50M639.92,310.50l18.40,-10.50M650.96,310.50l18.40,-10.50M662.00,310.50l18.40,-10.50" fill="none" stroke="#7d7d7d" stroke-width="0.45"/>
<path d="M606.80,310.50v1.2M617.84,310.50v1.2M628.88,310.50v1.2M639.92,310.50v1.2M650.96,310.50v1.2M662.00,310.50v1.2" stroke="#888" stroke-width="0.5"/>
<line x1="625.20" y1="300.20" x2="680.40" y2="300.20" stroke="#4ea6dc" stroke-width="0.9" stroke-opacity="0.65"/>
<line x1="616.00" y1="305.45" x2="671.20" y2="305.45" stroke="#d8923e" stroke-width="0.9" stroke-opacity="0.85"/>
<path d="M645.6,300.0L645.6,300.0L646.1,300.0L646.6,300.0L647.1,300.0L647.6,299.9L648.1,299.9L648.6,299.8L649.1,299.8L649.6,299.6L650.1,299.4L650.5,299.2L651.0,298.8L651.5,298.3L652.0,297.7L652.5,296.8L653.0,295.8L653.5,294.4L654.0,292.6L654.5,290.2L655.0,287.0L655.5,282.7L656.0,277.2L656.5,270.7L657.0,263.4L657.5,256.1L658.0,250.0L658.5,246.1L659.0,245.1L659.5,247.9L660.0,254.2L660.5,262.4L661.0,270.9L661.5,278.4L662.0,284.3L662.5,288.7L663.0,291.8L663.5,294.1L664.0,295.7L664.5,297.0L665.0,297.9L665.5,298.5L665.9,299.0L666.4,299.4L666.9,299.6L667.4,299.8L667.9,299.9L668.4,299.9L668.9,300.0L669.4,300.0L669.9,300.0L670.4,300.0L670.4,300.0Z" fill="#b0e1fa" style="mix-blend-mode:multiply"/>
<path d="M649.6,299.6L650.1,299.4L650.5,299.2L651.0,298.8L651.5,298.3L652.0,297.7L652.5,296.8L653.0,295.8L653.5,294.4L654.0,292.6L654.5,290.2L655.0,287.0L655.5,282.7L656.0,277.2L656.5,270.7L657.0,263.4L657.5,256.1L658.0,250.0L658.5,246.1L659.0,245.1L659.5,247.9L660.0,254.2L660.5,262.4L661.0,270.9L661.5,278.4L662.0,284.3L662.5,288.7L663.0,291.8L663.5,294.1L664.0,295.7L664.5,297.0L665.0,297.9L665.5,298.5L665.9,299.0L666.4,299.4L666.9,299.6" fill="none" stroke="#4ea6dc" stroke-width="0.65" stroke-linejoin="round"/>
<path d="M629.1,305.2L629.1,305.2L629.7,305.2L630.3,305.2L630.9,305.2L631.4,305.2L632.0,305.2L632.6,305.1L633.2,305.1L633.7,305.0L634.3,304.9L634.9,304.7L635.5,304.5L636.1,304.2L636.6,303.8L637.2,303.4L637.8,302.7L638.4,301.9L638.9,300.9L639.5,299.7L640.1,298.0L640.7,295.8L641.2,292.9L641.8,289.3L642.4,284.8L643.0,279.6L643.5,274.1L644.1,268.8L644.7,264.5L645.3,261.9L645.8,261.4L646.4,264.3L647.0,270.3L647.6,277.7L648.1,284.8L648.7,290.7L649.3,295.0L649.9,298.1L650.5,300.2L651.0,301.7L651.6,302.8L652.2,303.6L652.8,304.2L653.3,304.6L653.9,304.8L654.5,305.0L655.1,305.1L655.6,305.2L656.2,305.2L656.8,305.2L657.4,305.2L657.9,305.2L657.9,305.2Z" fill="#fddcb0" style="mix-blend-mode:multiply"/>
<path d="M634.3,304.9L634.9,304.7L635.5,304.5L636.1,304.2L636.6,303.8L637.2,303.4L637.8,302.7L638.4,301.9L638.9,300.9L639.5,299.7L640.1,298.0L640.7,295.8L641.2,292.9L641.8,289.3L642.4,284.8L643.0,279.6L643.5,274.1L644.1,268.8L644.7,264.5L645.3,261.9L645.8,261.4L646.4,264.3L647.0,270.3L647.6,277.7L648.1,284.8L648.7,290.7L649.3,295.0L649.9,298.1L650.5,300.2L651.0,301.7L651.6,302.8L652.2,303.6L652.8,304.2L653.3,304.6L653.9,304.8L654.5,305.0" fill="none" stroke="#d8923e" stroke-width="0.65" stroke-linejoin="round"/>
<path d="M606.8,310.5L606.8,310.5L607.6,310.5L608.4,310.5L609.2,310.5L610.0,310.4L610.8,310.4L611.6,310.4L612.4,310.3L613.2,310.2L614.0,310.1L614.8,309.9L615.6,309.7L616.4,309.4L617.2,309.0L618.0,308.5L618.8,308.0L619.6,307.2L620.4,306.3L621.2,305.1L622.0,303.6L622.8,301.6L623.7,299.1L624.5,296.0L625.3,292.4L626.1,288.5L626.9,284.6L627.7,281.2L628.5,278.7L629.3,277.6L630.1,278.2L630.9,281.5L631.7,286.5L632.5,291.9L633.3,296.9L634.1,300.8L634.9,303.7L635.7,305.7L636.5,307.1L637.3,308.1L638.1,308.8L638.9,309.4L639.7,309.8L640.5,310.0L641.3,310.2L642.1,310.3L642.9,310.4L643.7,310.4L644.5,310.5L645.3,310.5L646.1,310.5L646.9,310.5L646.9,310.5Z" fill="#e8e8e8" style="mix-blend-mode:multiply"/>
<path d="M613.2,310.2L614.0,310.1L614.8,309.9L615.6,309.7L616.4,309.4L617.2,309.0L618.0,308.5L618.8,308.0L619.6,307.2L620.4,306.3L621.2,305.1L622.0,303.6L622.8,301.6L623.7,299.1L624.5,296.0L625.3,292.4L626.1,288.5L626.9,284.6L627.7,281.2L628.5,278.7L629.3,277.6L630.1,278.2L630.9,281.5L631.7,286.5L632.5,291.9L633.3,296.9L634.1,300.8L634.9,303.7L635.7,305.7L636.5,307.1L637.3,308.1L638.1,308.8L638.9,309.4L639.7,309.8L640.5,310.0L641.3,310.2" fill="none" stroke="#9a9a9a" stroke-width="0.65" stroke-linejoin="round"/>
<text x="610.20" y="255.90" font-size="9.2" fill="#000">AcoR</text>
<text x="606.90" y="326.0" font-size="9.8" fill="#000" text-anchor="middle">10<tspan dy="-4.0" font-size="7">4</tspan></text>
<text x="628.98" y="326.0" font-size="9.8" fill="#000" text-anchor="middle">10<tspan dy="-4.0" font-size="7">6</tspan></text>
<text x="651.06" y="326.0" font-size="9.8" fill="#000" text-anchor="middle">10<tspan dy="-4.0" font-size="7">8</tspan></text>
<text x="514.3" y="340.6" font-size="10.1" fill="#000" text-anchor="middle">Fluorescence (A.U.)</text>
</svg>
</body></html>
